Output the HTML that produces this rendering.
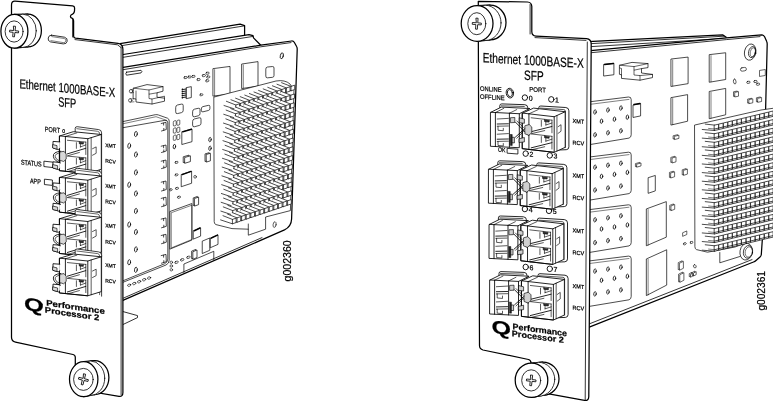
<!DOCTYPE html>
<html><head><meta charset="utf-8"><title>Ethernet 1000BASE-X SFP</title>
<style>
html,body{margin:0;padding:0;background:#fff;}
svg{display:block;font-family:"Liberation Sans",sans-serif;will-change:transform;}
</style></head><body>
<svg width="773" height="402" viewBox="0 0 773 402" stroke="#000" stroke-linecap="round" stroke-linejoin="round" fill="none">
<rect x="0" y="0" width="773" height="402" fill="#fff" stroke="none"/>
<path d="M120 43.6 L240.1 24.2 L244.6 25.6 L244.6 35.1" stroke-width="1.25" fill="none" />
<path d="M120 45.9 L244.2 25.9" stroke-width="0.8" fill="none" />
<path d="M120 55 L249 34.6 L253 35.7 L253.5 37.9 L260.8 45.2" stroke-width="1.25" fill="none" />
<path d="M120 57.8 L253 36.4" stroke-width="0.8" fill="none" />
<path d="M120 67.9 L260.8 45.2 L291.6 41 Q293.5 40.9 294.4 42.5 L296.6 46.5 Q297.3 47.6 297.2 49.5 L291.6 219 Q291.3 226.5 284.5 229.9 L120 301.6Z" stroke-width="1.25" fill="#fff" />
<path d="M120 70.2 L260.8 46.8 L291 42.6" stroke-width="0.8" fill="none" />
<path d="M120 299.6 L262 237.6" stroke-width="0.8" fill="none" />
<path d="M126.5 72.2 L141 70.3 Q142.8 71.6 141 72.9 L126.5 75.2 Q125 73.8 126.5 72.2Z" stroke-width="0.8" fill="none" />
<ellipse cx="281.8" cy="55.8" rx="1.5" ry="3" stroke-width="0.8" fill="none" transform="rotate(12 281.8 55.8)"/>
<path d="M122 311.3 L137.5 315.6 L137.5 317.6 L122 325" stroke-width="0.8" fill="#fff" />
<path d="M120 122.2 L155.3 114.7 Q157 114.4 158.5 115 L167.5 118.2 Q169.2 118.9 169.2 121 L169.2 260 Q169.2 263.5 166 265 L120 283.5Z" stroke-width="0.7" fill="#fff" />
<path d="M120 128.2 L165 120.3 Q167.8 120 167.8 122.8 L167.8 259 Q167.8 262.4 164.5 263.8 L120 282" stroke-width="0.7" fill="none" />
<path d="M120 124.4 L156 116.7 L166.5 120.3" stroke-width="0.5" fill="none" />
<ellipse cx="135.9" cy="134" rx="1.4" ry="2.6" stroke-width="0.75" fill="none" transform="rotate(8 135.9 134)"/>
<ellipse cx="129.2" cy="145.8" rx="1.4" ry="2.6" stroke-width="0.75" fill="none" transform="rotate(8 129.2 145.8)"/>
<ellipse cx="135.9" cy="154.5" rx="1.4" ry="2.6" stroke-width="0.75" fill="none" transform="rotate(8 135.9 154.5)"/>
<ellipse cx="135.9" cy="172.4" rx="1.4" ry="2.6" stroke-width="0.75" fill="none" transform="rotate(8 135.9 172.4)"/>
<ellipse cx="129.2" cy="184.8" rx="1.4" ry="2.6" stroke-width="0.75" fill="none" transform="rotate(8 129.2 184.8)"/>
<ellipse cx="135.9" cy="193.5" rx="1.4" ry="2.6" stroke-width="0.75" fill="none" transform="rotate(8 135.9 193.5)"/>
<ellipse cx="135.9" cy="211" rx="1.4" ry="2.6" stroke-width="0.75" fill="none" transform="rotate(8 135.9 211)"/>
<ellipse cx="129.2" cy="224.6" rx="1.4" ry="2.6" stroke-width="0.75" fill="none" transform="rotate(8 129.2 224.6)"/>
<ellipse cx="135.9" cy="232" rx="1.4" ry="2.6" stroke-width="0.75" fill="none" transform="rotate(8 135.9 232)"/>
<ellipse cx="135.9" cy="249.4" rx="1.4" ry="2.6" stroke-width="0.75" fill="none" transform="rotate(8 135.9 249.4)"/>
<ellipse cx="129.2" cy="262.3" rx="1.4" ry="2.6" stroke-width="0.75" fill="none" transform="rotate(8 129.2 262.3)"/>
<ellipse cx="135.9" cy="269.8" rx="1.4" ry="2.6" stroke-width="0.75" fill="none" transform="rotate(8 135.9 269.8)"/>
<path d="M161.2 123.5 L166 122.3 L166.3 129.5 L161.5 131 M163.6 123.1 L163.6 125.1 M163.8 128.4 L163.8 130.4" stroke-width="0.7" fill="none" />
<path d="M161.2 146.2 L166 145 L166.3 151 L161.5 152.5 M163.6 145.8 L163.6 147.8 M163.8 149.9 L163.8 151.9" stroke-width="0.7" fill="none" />
<path d="M161.2 161.2 L166 160 L166.3 167.1 L161.5 168.6 M163.6 160.8 L163.6 162.8 M163.8 166 L163.8 168" stroke-width="0.7" fill="none" />
<path d="M161.2 182.2 L166 181 L166.3 189.5 L161.5 191 M163.6 181.8 L163.6 183.8 M163.8 188.4 L163.8 190.4" stroke-width="0.7" fill="none" />
<path d="M161.2 198.4 L166 197.2 L166.3 205.2 L161.5 206.7 M163.6 198 L163.6 200 M163.8 204.1 L163.8 206.1" stroke-width="0.7" fill="none" />
<path d="M161.2 219.1 L166 217.9 L166.3 226.3 L161.5 227.8 M163.6 218.7 L163.6 220.7 M163.8 225.2 L163.8 227.2" stroke-width="0.7" fill="none" />
<path d="M161.2 235.5 L166 234.3 L166.3 242.2 L161.5 243.7 M163.6 235.1 L163.6 237.1 M163.8 241.1 L163.8 243.1" stroke-width="0.7" fill="none" />
<path d="M161.2 255.6 L166 254.4 L166.3 261.7 L161.5 263.2 M163.6 255.2 L163.6 257.2 M163.8 260.6 L163.8 262.6" stroke-width="0.7" fill="none" />
<ellipse cx="129.2" cy="285.2" rx="1.7" ry="1.1" stroke-width="0.6" fill="none" transform="rotate(-20 129.2 285.2)"/>
<ellipse cx="134.2" cy="283.5" rx="1.7" ry="1.1" stroke-width="0.6" fill="none" transform="rotate(-20 134.2 283.5)"/>
<ellipse cx="139.1" cy="281.7" rx="1.7" ry="1.1" stroke-width="0.6" fill="none" transform="rotate(-20 139.1 281.7)"/>
<ellipse cx="144.1" cy="279.7" rx="1.7" ry="1.1" stroke-width="0.6" fill="none" transform="rotate(-20 144.1 279.7)"/>
<ellipse cx="149.1" cy="278" rx="1.7" ry="1.1" stroke-width="0.6" fill="none" transform="rotate(-20 149.1 278)"/>
<path d="M133.5 88.2 L147 84.6 L163 86.6 L163 91.2 L157 92.8 L157 97.2 L164.5 98.2 L164.5 101.2 L152 104 L136 102 L136 99 L133.5 98.6Z" stroke-width="0.7" fill="#fff" />
<path d="M133.5 88.2 L149 90 L163 86.6 M149 90 L149 94.2 L157 92.8 M149 94.2 L149 98.5 L152 99 L152 104 M152 99 L164.5 96.2 L164.5 98.2 M136 99 L136 91" stroke-width="0.6" fill="none" />
<ellipse cx="131" cy="91.2" rx="1.7" ry="1.7" stroke-width="0.6" fill="#fff"/>
<ellipse cx="130.2" cy="100.4" rx="1.7" ry="1.7" stroke-width="0.6" fill="#fff"/>
<path d="M133.5 90 L131 89.5 M133.5 92.6 L131 92.9 M133.5 99 L130.2 98.7 M134 101.8 L130.2 102.1" stroke-width="0.5" fill="none" />
<rect x="183.8" y="76.65" width="3.4" height="1.9" rx="0.95" transform="rotate(-10.67 185.5 77.6)" stroke-width="0.6" fill="#fff"/>
<rect x="187.8" y="76.05" width="3.4" height="1.9" rx="0.95" transform="rotate(-10.69 189.5 77)" stroke-width="0.6" fill="#fff"/>
<rect x="191.7" y="75.45" width="3.4" height="1.9" rx="0.95" transform="rotate(-10.7 193.4 76.4)" stroke-width="0.6" fill="#fff"/>
<rect x="196.85" y="78.6" width="3.3" height="2" rx="1" transform="rotate(-11.01 198.5 79.6)" stroke-width="0.6" fill="#fff"/>
<rect x="202.15" y="74.6" width="3.3" height="2" rx="1" transform="rotate(-10.79 203.8 75.6)" stroke-width="0.6" fill="#fff"/>
<rect x="205.85" y="72.2" width="3.3" height="2" rx="1" transform="rotate(-10.65 207.5 73.2)" stroke-width="0.6" fill="#fff"/>
<rect x="206.55" y="76" width="3.3" height="2" rx="1" transform="rotate(-10.96 208.2 77)" stroke-width="0.6" fill="#fff"/>
<rect x="205.55" y="79.8" width="3.3" height="2" rx="1" transform="rotate(-11.24 207.2 80.8)" stroke-width="0.6" fill="#fff"/>
<path d="M186.5 87.6 L191.3 86.63 L191.3 97.56 L186.5 98.6Z" stroke-width="0.7" fill="#fff" />
<path d="M186.5 89 L182 89.6 M186.5 91 L182 91.6 M186.5 93 L182 93.6 M186.5 95 L182 95.6 M186.5 97 L182 97.6" stroke-width="0.9" fill="none" />
<path d="M182.4 88.4 L182.4 98.6" stroke-width="0.5" fill="none" />
<rect x="199.7" y="93.9" width="3.2" height="1.8" rx="0.9" transform="rotate(-12.21 201.3 94.8)" stroke-width="0.6" fill="#fff"/>
<path d="M175.7 107.2 Q175.7 105.4 177.46 105.01 L181.44 104.12 Q183.2 103.73 183.2 105.53 L183.2 110.44 Q183.2 112.24 181.45 112.65 L177.45 113.59 Q175.7 114 175.7 112.2 Z" stroke-width="0.7" fill="#fff" />
<path d="M192.6 111.4 Q192.6 109.6 194.35 109.19 L198.25 108.28 Q200 107.87 200 109.67 L200 113.59 Q200 115.39 198.25 115.82 L194.35 116.77 Q192.6 117.2 192.6 115.4 Z" stroke-width="0.7" fill="#fff" />
<path d="M201.3 108.6 Q201.3 107 202.86 106.64 L208.34 105.36 Q209.9 104.99 209.9 106.59 L209.9 108.53 Q209.9 110.13 208.34 110.51 L202.86 111.83 Q201.3 112.2 201.3 110.6 Z" stroke-width="0.7" fill="#fff" />
<path d="M192.6 121.2 Q192.6 119.4 194.35 118.97 L199.25 117.75 Q201 117.32 201 119.12 L201 123.23 Q201 125.03 199.26 125.48 L194.34 126.75 Q192.6 127.2 192.6 125.4 Z" stroke-width="0.7" fill="#fff" />
<path d="M173.3 122 Q173.3 121.2 174.08 121.01 L175.42 120.68 Q176.2 120.49 176.2 121.29 L176.2 124.67 Q176.2 125.47 175.42 125.67 L174.08 126.01 Q173.3 126.2 173.3 125.4 Z" stroke-width="0.6" fill="#fff" />
<path d="M176.9 121.3 Q176.9 120.5 177.68 120.31 L179.02 119.98 Q179.8 119.79 179.8 120.59 L179.8 123.97 Q179.8 124.77 179.02 124.97 L177.68 125.31 Q176.9 125.5 176.9 124.7 Z" stroke-width="0.6" fill="#fff" />
<path d="M173.3 129.2 Q173.3 128.4 174.08 128.2 L175.42 127.86 Q176.2 127.67 176.2 128.47 L176.2 131.85 Q176.2 132.65 175.43 132.85 L174.07 133.2 Q173.3 133.4 173.3 132.6 Z" stroke-width="0.6" fill="#fff" />
<path d="M176.9 128.5 Q176.9 127.7 177.68 127.5 L179.02 127.16 Q179.8 126.97 179.8 127.77 L179.8 131.15 Q179.8 131.95 179.03 132.15 L177.67 132.5 Q176.9 132.7 176.9 131.9 Z" stroke-width="0.6" fill="#fff" />
<path d="M173.3 136.4 Q173.3 135.6 174.07 135.4 L175.43 135.04 Q176.2 134.84 176.2 135.64 L176.2 139.02 Q176.2 139.82 175.43 140.03 L174.07 140.39 Q173.3 140.6 173.3 139.8 Z" stroke-width="0.6" fill="#fff" />
<path d="M176.9 135.7 Q176.9 134.9 177.67 134.7 L179.03 134.34 Q179.8 134.14 179.8 134.94 L179.8 138.32 Q179.8 139.12 179.03 139.33 L177.67 139.69 Q176.9 139.9 176.9 139.1 Z" stroke-width="0.6" fill="#fff" />
<path d="M182.2 131.6 L192 129.05 L192 141.68 L182.2 144.4Z" stroke-width="0.7" fill="#fff" />
<path d="M182.8 131.8 L191.4 129.25" stroke-width="1.4" fill="none" />
<ellipse cx="210" cy="139.6" rx="1.2" ry="2.2" stroke-width="0.75" fill="none" transform="rotate(8 210 139.6)"/>
<ellipse cx="210" cy="148.3" rx="1.2" ry="2.2" stroke-width="0.75" fill="none" transform="rotate(8 210 148.3)"/>
<ellipse cx="174.4" cy="146.6" rx="1.2" ry="2.3" stroke-width="0.75" fill="none" transform="rotate(8 174.4 146.6)"/>
<rect x="174.9" y="161.5" width="3.2" height="1.8" rx="0.9" transform="rotate(-16.68 176.5 162.4)" stroke-width="0.6" fill="#fff"/>
<path d="M183.6 156.7 L189 155.11 L189 160.87 L183.6 162.5Z" stroke-width="0.7" fill="#fff" />
<path d="M185 157.4 L190.4 155.8 L190.4 161.56 L185 163.2Z" stroke-width="0.7" fill="#fff" />
<path d="M205.4 153.8 L209.2 152.66 L209.2 160.22 L205.4 161.4Z" stroke-width="0.7" fill="#fff" />
<path d="M206.6 154.4 L210.4 153.26 L210.4 160.82 L206.6 162Z" stroke-width="0.7" fill="#fff" />
<rect x="174.9" y="174" width="3.2" height="1.8" rx="0.9" transform="rotate(-17.56 176.5 174.9)" stroke-width="0.6" fill="#fff"/>
<path d="M181.6 174.4 L191.6 171.22 L191.6 183.26 L181.6 186.6Z" stroke-width="0.7" fill="#fff" />
<path d="M182.2 174.6 L191 171.42" stroke-width="1.4" fill="none" />
<ellipse cx="195.1" cy="176.8" rx="1.3" ry="1.4" stroke-width="0.6" fill="none"/>
<rect x="169.4" y="188.9" width="2.8" height="1.8" rx="0.9" transform="rotate(-18.46 170.8 189.8)" stroke-width="0.6" fill="#fff"/>
<rect x="175.4" y="187.5" width="3.2" height="1.8" rx="0.9" transform="rotate(-18.5 177 188.4)" stroke-width="0.6" fill="#fff"/>
<rect x="177.4" y="196.3" width="3.2" height="1.8" rx="0.9" transform="rotate(-19.16 179 197.2)" stroke-width="0.6" fill="#fff"/>
<path d="M193.6 197.8 L197.4 196.45 L197.4 204.01 L193.6 205.4Z" stroke-width="0.7" fill="#fff" />
<path d="M194.8 198.4 L198.6 197.05 L198.6 204.61 L194.8 206Z" stroke-width="0.7" fill="#fff" />
<path d="M170.2 211.4 L191.9 203.54 L191.9 240.06 L170.2 249Z" stroke-width="0.7" fill="#fff" />
<path d="M171.6 212.6 L191.9 205.2 L191.9 239.45 L171.6 247.8Z" stroke-width="0.5" fill="none" />
<path d="M193.6 230.6 L200.6 227.8 L200.6 236.12 L193.6 239Z" stroke-width="0.7" fill="#fff" />
<path d="M194.2 230.8 L200 228" stroke-width="1.4" fill="none" />
<path d="M202.6 241 L209.8 237.98 L209.8 250.26 L202.6 253.4Z" stroke-width="0.7" fill="#fff" />
<path d="M210.6 238 L218 234.89 L218 244.39 L210.6 247.6Z" stroke-width="0.7" fill="#fff" />
<path d="M211.2 238.2 L217.4 235.09" stroke-width="1.4" fill="none" />
<path d="M192 251 L195.8 249.38 L195.8 256.94 L192 258.6Z" stroke-width="0.7" fill="#fff" />
<path d="M193.2 251.6 L197 249.97 L197 257.53 L193.2 259.2Z" stroke-width="0.7" fill="#fff" />
<rect x="186.6" y="256.35" width="3.6" height="1.9" rx="0.95" transform="rotate(-23.44 188.4 257.3)" stroke-width="0.6" fill="#fff"/>
<rect x="180.4" y="258.85" width="3.6" height="1.9" rx="0.95" transform="rotate(-23.43 182.2 259.8)" stroke-width="0.6" fill="#fff"/>
<rect x="174.7" y="261.35" width="3.6" height="1.9" rx="0.95" transform="rotate(-23.43 176.5 262.3)" stroke-width="0.6" fill="#fff"/>
<ellipse cx="171.3" cy="262.3" rx="1.3" ry="1.2" stroke-width="0.6" fill="none"/>
<ellipse cx="171.3" cy="266" rx="1.3" ry="1.2" stroke-width="0.6" fill="none"/>
<ellipse cx="171.3" cy="269.8" rx="1.3" ry="1.2" stroke-width="0.6" fill="none"/>
<path d="M183.9 272.5 L183.9 264 L213.8 251.3 L213.8 259.6" stroke-width="0.7" fill="none" />
<path d="M213.3 68.6 L230 66.43 L230 93.93 L213.3 96.1Z" stroke-width="0.7" fill="#fff" />
<path d="M214.6 69.6 L214.6 96" stroke-width="0.5" fill="none" />
<path d="M242 64 L258 61.6 L258 86.1 L242 88.5Z" stroke-width="0.7" fill="#fff" />
<path d="M243.3 65 L243.3 88.2" stroke-width="0.5" fill="none" />
<path d="M265.8 68.8 Q265.8 67.2 267.39 67.04 L272.41 66.54 Q274 66.38 274 67.98 L274 75.58 Q274 77.18 272.41 77.34 L267.39 77.84 Q265.8 78 265.8 76.4 Z" stroke-width="0.7" fill="#fff" />
<path d="M214.2 97 L276 81 Q285 79.5 290 84 L294 90 L290.4 210.6 L265.6 217 L265.6 229.2 L248.3 235.2 L248.3 229.2 L232 228.6 L216 224.6 Q214.2 224 214.2 222Z" stroke-width="0.7" fill="#fff" />
<path d="M248.3 229.2 L248.3 224" stroke-width="0.7" fill="none" />
<ellipse cx="274.6" cy="224.6" rx="1.5" ry="2.9" stroke-width="0.6" fill="none" transform="rotate(10 274.6 224.6)"/>
<path d="M281.6 82.7 L291 86.4 L294.7 85.15 L294.7 89.55 L291 90.8 L279.2 86.9Z" fill="#fff" stroke="none"/><path d="M281.6 82.7 L291 86.4 L294.7 85.15 L294.7 89.55 L291 90.8 L279.2 86.9 M291 86.4 L291 90.8" stroke-width="0.7"/>
<path d="M277 84.25 L286.4 87.95 L290.1 86.7 L290.1 91.1 L286.4 92.35 L274.6 88.45Z" fill="#fff" stroke="none"/><path d="M277 84.25 L286.4 87.95 L290.1 86.7 L290.1 91.1 L286.4 92.35 L274.6 88.45 M286.4 87.95 L286.4 92.35" stroke-width="0.7"/>
<path d="M272.4 85.8 L281.8 89.5 L285.5 88.25 L285.5 92.65 L281.8 93.9 L270 90Z" fill="#fff" stroke="none"/><path d="M272.4 85.8 L281.8 89.5 L285.5 88.25 L285.5 92.65 L281.8 93.9 L270 90 M281.8 89.5 L281.8 93.9" stroke-width="0.7"/>
<path d="M267.8 87.35 L277.2 91.05 L280.9 89.8 L280.9 94.2 L277.2 95.45 L265.4 91.55Z" fill="#fff" stroke="none"/><path d="M267.8 87.35 L277.2 91.05 L280.9 89.8 L280.9 94.2 L277.2 95.45 L265.4 91.55 M277.2 91.05 L277.2 95.45" stroke-width="0.7"/>
<path d="M263.2 88.9 L272.6 92.6 L276.3 91.35 L276.3 95.75 L272.6 97 L260.8 93.1Z" fill="#fff" stroke="none"/><path d="M263.2 88.9 L272.6 92.6 L276.3 91.35 L276.3 95.75 L272.6 97 L260.8 93.1 M272.6 92.6 L272.6 97" stroke-width="0.7"/>
<path d="M258.6 90.45 L268 94.15 L271.7 92.9 L271.7 97.3 L268 98.55 L256.2 94.65Z" fill="#fff" stroke="none"/><path d="M258.6 90.45 L268 94.15 L271.7 92.9 L271.7 97.3 L268 98.55 L256.2 94.65 M268 94.15 L268 98.55" stroke-width="0.7"/>
<path d="M254 92 L263.4 95.7 L267.1 94.45 L267.1 98.85 L263.4 100.1 L251.6 96.2Z" fill="#fff" stroke="none"/><path d="M254 92 L263.4 95.7 L267.1 94.45 L267.1 98.85 L263.4 100.1 L251.6 96.2 M263.4 95.7 L263.4 100.1" stroke-width="0.7"/>
<path d="M249.4 93.55 L258.8 97.25 L262.5 96 L262.5 100.4 L258.8 101.65 L247 97.75Z" fill="#fff" stroke="none"/><path d="M249.4 93.55 L258.8 97.25 L262.5 96 L262.5 100.4 L258.8 101.65 L247 97.75 M258.8 97.25 L258.8 101.65" stroke-width="0.7"/>
<path d="M244.8 95.1 L254.2 98.8 L257.9 97.55 L257.9 101.95 L254.2 103.2 L242.4 99.3Z" fill="#fff" stroke="none"/><path d="M244.8 95.1 L254.2 98.8 L257.9 97.55 L257.9 101.95 L254.2 103.2 L242.4 99.3 M254.2 98.8 L254.2 103.2" stroke-width="0.7"/>
<path d="M240.2 96.65 L249.6 100.35 L253.3 99.1 L253.3 103.5 L249.6 104.75 L237.8 100.85Z" fill="#fff" stroke="none"/><path d="M240.2 96.65 L249.6 100.35 L253.3 99.1 L253.3 103.5 L249.6 104.75 L237.8 100.85 M249.6 100.35 L249.6 104.75" stroke-width="0.7"/>
<path d="M235.6 98.2 L245 101.9 L248.7 100.65 L248.7 105.05 L245 106.3 L233.2 102.4Z" fill="#fff" stroke="none"/><path d="M235.6 98.2 L245 101.9 L248.7 100.65 L248.7 105.05 L245 106.3 L233.2 102.4 M245 101.9 L245 106.3" stroke-width="0.7"/>
<path d="M231 99.75 L240.4 103.45 L244.1 102.2 L244.1 106.6 L240.4 107.85 L228.6 103.95Z" fill="#fff" stroke="none"/><path d="M231 99.75 L240.4 103.45 L244.1 102.2 L244.1 106.6 L240.4 107.85 L228.6 103.95 M240.4 103.45 L240.4 107.85" stroke-width="0.7"/>
<path d="M226.4 101.3 L235.8 105 L239.5 103.75 L239.5 108.15 L235.8 109.4 L224 105.5Z" fill="#fff" stroke="none"/><path d="M226.4 101.3 L235.8 105 L239.5 103.75 L239.5 108.15 L235.8 109.4 L224 105.5 M235.8 105 L235.8 109.4" stroke-width="0.7"/>
<path d="M281.34 91.5 L290.74 95.2 L294.44 93.95 L294.44 98.35 L290.74 99.6 L278.94 95.7Z" fill="#fff" stroke="none"/><path d="M281.34 91.5 L290.74 95.2 L294.44 93.95 L294.44 98.35 L290.74 99.6 L278.94 95.7 M290.74 95.2 L290.74 99.6" stroke-width="0.7"/>
<path d="M276.74 93.05 L286.14 96.75 L289.84 95.5 L289.84 99.9 L286.14 101.15 L274.34 97.25Z" fill="#fff" stroke="none"/><path d="M276.74 93.05 L286.14 96.75 L289.84 95.5 L289.84 99.9 L286.14 101.15 L274.34 97.25 M286.14 96.75 L286.14 101.15" stroke-width="0.7"/>
<path d="M272.14 94.6 L281.54 98.3 L285.24 97.05 L285.24 101.45 L281.54 102.7 L269.74 98.8Z" fill="#fff" stroke="none"/><path d="M272.14 94.6 L281.54 98.3 L285.24 97.05 L285.24 101.45 L281.54 102.7 L269.74 98.8 M281.54 98.3 L281.54 102.7" stroke-width="0.7"/>
<path d="M267.54 96.15 L276.94 99.85 L280.64 98.6 L280.64 103 L276.94 104.25 L265.14 100.35Z" fill="#fff" stroke="none"/><path d="M267.54 96.15 L276.94 99.85 L280.64 98.6 L280.64 103 L276.94 104.25 L265.14 100.35 M276.94 99.85 L276.94 104.25" stroke-width="0.7"/>
<path d="M262.94 97.7 L272.34 101.4 L276.04 100.15 L276.04 104.55 L272.34 105.8 L260.54 101.9Z" fill="#fff" stroke="none"/><path d="M262.94 97.7 L272.34 101.4 L276.04 100.15 L276.04 104.55 L272.34 105.8 L260.54 101.9 M272.34 101.4 L272.34 105.8" stroke-width="0.7"/>
<path d="M258.34 99.25 L267.74 102.95 L271.44 101.7 L271.44 106.1 L267.74 107.35 L255.94 103.45Z" fill="#fff" stroke="none"/><path d="M258.34 99.25 L267.74 102.95 L271.44 101.7 L271.44 106.1 L267.74 107.35 L255.94 103.45 M267.74 102.95 L267.74 107.35" stroke-width="0.7"/>
<path d="M253.74 100.8 L263.14 104.5 L266.84 103.25 L266.84 107.65 L263.14 108.9 L251.34 105Z" fill="#fff" stroke="none"/><path d="M253.74 100.8 L263.14 104.5 L266.84 103.25 L266.84 107.65 L263.14 108.9 L251.34 105 M263.14 104.5 L263.14 108.9" stroke-width="0.7"/>
<path d="M249.14 102.35 L258.54 106.05 L262.24 104.8 L262.24 109.2 L258.54 110.45 L246.74 106.55Z" fill="#fff" stroke="none"/><path d="M249.14 102.35 L258.54 106.05 L262.24 104.8 L262.24 109.2 L258.54 110.45 L246.74 106.55 M258.54 106.05 L258.54 110.45" stroke-width="0.7"/>
<path d="M244.54 103.9 L253.94 107.6 L257.64 106.35 L257.64 110.75 L253.94 112 L242.14 108.1Z" fill="#fff" stroke="none"/><path d="M244.54 103.9 L253.94 107.6 L257.64 106.35 L257.64 110.75 L253.94 112 L242.14 108.1 M253.94 107.6 L253.94 112" stroke-width="0.7"/>
<path d="M239.94 105.45 L249.34 109.15 L253.04 107.9 L253.04 112.3 L249.34 113.55 L237.54 109.65Z" fill="#fff" stroke="none"/><path d="M239.94 105.45 L249.34 109.15 L253.04 107.9 L253.04 112.3 L249.34 113.55 L237.54 109.65 M249.34 109.15 L249.34 113.55" stroke-width="0.7"/>
<path d="M235.34 107 L244.74 110.7 L248.44 109.45 L248.44 113.85 L244.74 115.1 L232.94 111.2Z" fill="#fff" stroke="none"/><path d="M235.34 107 L244.74 110.7 L248.44 109.45 L248.44 113.85 L244.74 115.1 L232.94 111.2 M244.74 110.7 L244.74 115.1" stroke-width="0.7"/>
<path d="M230.74 108.55 L240.14 112.25 L243.84 111 L243.84 115.4 L240.14 116.65 L228.34 112.75Z" fill="#fff" stroke="none"/><path d="M230.74 108.55 L240.14 112.25 L243.84 111 L243.84 115.4 L240.14 116.65 L228.34 112.75 M240.14 112.25 L240.14 116.65" stroke-width="0.7"/>
<path d="M226.14 110.1 L235.54 113.8 L239.24 112.55 L239.24 116.95 L235.54 118.2 L223.74 114.3Z" fill="#fff" stroke="none"/><path d="M226.14 110.1 L235.54 113.8 L239.24 112.55 L239.24 116.95 L235.54 118.2 L223.74 114.3 M235.54 113.8 L235.54 118.2" stroke-width="0.7"/>
<path d="M281.08 100.3 L290.48 104 L294.18 102.75 L294.18 107.15 L290.48 108.4 L278.68 104.5Z" fill="#fff" stroke="none"/><path d="M281.08 100.3 L290.48 104 L294.18 102.75 L294.18 107.15 L290.48 108.4 L278.68 104.5 M290.48 104 L290.48 108.4" stroke-width="0.7"/>
<path d="M276.48 101.85 L285.88 105.55 L289.58 104.3 L289.58 108.7 L285.88 109.95 L274.08 106.05Z" fill="#fff" stroke="none"/><path d="M276.48 101.85 L285.88 105.55 L289.58 104.3 L289.58 108.7 L285.88 109.95 L274.08 106.05 M285.88 105.55 L285.88 109.95" stroke-width="0.7"/>
<path d="M271.88 103.4 L281.28 107.1 L284.98 105.85 L284.98 110.25 L281.28 111.5 L269.48 107.6Z" fill="#fff" stroke="none"/><path d="M271.88 103.4 L281.28 107.1 L284.98 105.85 L284.98 110.25 L281.28 111.5 L269.48 107.6 M281.28 107.1 L281.28 111.5" stroke-width="0.7"/>
<path d="M267.28 104.95 L276.68 108.65 L280.38 107.4 L280.38 111.8 L276.68 113.05 L264.88 109.15Z" fill="#fff" stroke="none"/><path d="M267.28 104.95 L276.68 108.65 L280.38 107.4 L280.38 111.8 L276.68 113.05 L264.88 109.15 M276.68 108.65 L276.68 113.05" stroke-width="0.7"/>
<path d="M262.68 106.5 L272.08 110.2 L275.78 108.95 L275.78 113.35 L272.08 114.6 L260.28 110.7Z" fill="#fff" stroke="none"/><path d="M262.68 106.5 L272.08 110.2 L275.78 108.95 L275.78 113.35 L272.08 114.6 L260.28 110.7 M272.08 110.2 L272.08 114.6" stroke-width="0.7"/>
<path d="M258.08 108.05 L267.48 111.75 L271.18 110.5 L271.18 114.9 L267.48 116.15 L255.68 112.25Z" fill="#fff" stroke="none"/><path d="M258.08 108.05 L267.48 111.75 L271.18 110.5 L271.18 114.9 L267.48 116.15 L255.68 112.25 M267.48 111.75 L267.48 116.15" stroke-width="0.7"/>
<path d="M253.48 109.6 L262.88 113.3 L266.58 112.05 L266.58 116.45 L262.88 117.7 L251.08 113.8Z" fill="#fff" stroke="none"/><path d="M253.48 109.6 L262.88 113.3 L266.58 112.05 L266.58 116.45 L262.88 117.7 L251.08 113.8 M262.88 113.3 L262.88 117.7" stroke-width="0.7"/>
<path d="M248.88 111.15 L258.28 114.85 L261.98 113.6 L261.98 118 L258.28 119.25 L246.48 115.35Z" fill="#fff" stroke="none"/><path d="M248.88 111.15 L258.28 114.85 L261.98 113.6 L261.98 118 L258.28 119.25 L246.48 115.35 M258.28 114.85 L258.28 119.25" stroke-width="0.7"/>
<path d="M244.28 112.7 L253.68 116.4 L257.38 115.15 L257.38 119.55 L253.68 120.8 L241.88 116.9Z" fill="#fff" stroke="none"/><path d="M244.28 112.7 L253.68 116.4 L257.38 115.15 L257.38 119.55 L253.68 120.8 L241.88 116.9 M253.68 116.4 L253.68 120.8" stroke-width="0.7"/>
<path d="M239.68 114.25 L249.08 117.95 L252.78 116.7 L252.78 121.1 L249.08 122.35 L237.28 118.45Z" fill="#fff" stroke="none"/><path d="M239.68 114.25 L249.08 117.95 L252.78 116.7 L252.78 121.1 L249.08 122.35 L237.28 118.45 M249.08 117.95 L249.08 122.35" stroke-width="0.7"/>
<path d="M235.08 115.8 L244.48 119.5 L248.18 118.25 L248.18 122.65 L244.48 123.9 L232.68 120Z" fill="#fff" stroke="none"/><path d="M235.08 115.8 L244.48 119.5 L248.18 118.25 L248.18 122.65 L244.48 123.9 L232.68 120 M244.48 119.5 L244.48 123.9" stroke-width="0.7"/>
<path d="M230.48 117.35 L239.88 121.05 L243.58 119.8 L243.58 124.2 L239.88 125.45 L228.08 121.55Z" fill="#fff" stroke="none"/><path d="M230.48 117.35 L239.88 121.05 L243.58 119.8 L243.58 124.2 L239.88 125.45 L228.08 121.55 M239.88 121.05 L239.88 125.45" stroke-width="0.7"/>
<path d="M225.88 118.9 L235.28 122.6 L238.98 121.35 L238.98 125.75 L235.28 127 L223.48 123.1Z" fill="#fff" stroke="none"/><path d="M225.88 118.9 L235.28 122.6 L238.98 121.35 L238.98 125.75 L235.28 127 L223.48 123.1 M235.28 122.6 L235.28 127" stroke-width="0.7"/>
<path d="M280.82 109.1 L290.22 112.8 L293.92 111.55 L293.92 115.95 L290.22 117.2 L278.42 113.3Z" fill="#fff" stroke="none"/><path d="M280.82 109.1 L290.22 112.8 L293.92 111.55 L293.92 115.95 L290.22 117.2 L278.42 113.3 M290.22 112.8 L290.22 117.2" stroke-width="0.7"/>
<path d="M276.22 110.65 L285.62 114.35 L289.32 113.1 L289.32 117.5 L285.62 118.75 L273.82 114.85Z" fill="#fff" stroke="none"/><path d="M276.22 110.65 L285.62 114.35 L289.32 113.1 L289.32 117.5 L285.62 118.75 L273.82 114.85 M285.62 114.35 L285.62 118.75" stroke-width="0.7"/>
<path d="M271.62 112.2 L281.02 115.9 L284.72 114.65 L284.72 119.05 L281.02 120.3 L269.22 116.4Z" fill="#fff" stroke="none"/><path d="M271.62 112.2 L281.02 115.9 L284.72 114.65 L284.72 119.05 L281.02 120.3 L269.22 116.4 M281.02 115.9 L281.02 120.3" stroke-width="0.7"/>
<path d="M267.02 113.75 L276.42 117.45 L280.12 116.2 L280.12 120.6 L276.42 121.85 L264.62 117.95Z" fill="#fff" stroke="none"/><path d="M267.02 113.75 L276.42 117.45 L280.12 116.2 L280.12 120.6 L276.42 121.85 L264.62 117.95 M276.42 117.45 L276.42 121.85" stroke-width="0.7"/>
<path d="M262.42 115.3 L271.82 119 L275.52 117.75 L275.52 122.15 L271.82 123.4 L260.02 119.5Z" fill="#fff" stroke="none"/><path d="M262.42 115.3 L271.82 119 L275.52 117.75 L275.52 122.15 L271.82 123.4 L260.02 119.5 M271.82 119 L271.82 123.4" stroke-width="0.7"/>
<path d="M257.82 116.85 L267.22 120.55 L270.92 119.3 L270.92 123.7 L267.22 124.95 L255.42 121.05Z" fill="#fff" stroke="none"/><path d="M257.82 116.85 L267.22 120.55 L270.92 119.3 L270.92 123.7 L267.22 124.95 L255.42 121.05 M267.22 120.55 L267.22 124.95" stroke-width="0.7"/>
<path d="M253.22 118.4 L262.62 122.1 L266.32 120.85 L266.32 125.25 L262.62 126.5 L250.82 122.6Z" fill="#fff" stroke="none"/><path d="M253.22 118.4 L262.62 122.1 L266.32 120.85 L266.32 125.25 L262.62 126.5 L250.82 122.6 M262.62 122.1 L262.62 126.5" stroke-width="0.7"/>
<path d="M248.62 119.95 L258.02 123.65 L261.72 122.4 L261.72 126.8 L258.02 128.05 L246.22 124.15Z" fill="#fff" stroke="none"/><path d="M248.62 119.95 L258.02 123.65 L261.72 122.4 L261.72 126.8 L258.02 128.05 L246.22 124.15 M258.02 123.65 L258.02 128.05" stroke-width="0.7"/>
<path d="M244.02 121.5 L253.42 125.2 L257.12 123.95 L257.12 128.35 L253.42 129.6 L241.62 125.7Z" fill="#fff" stroke="none"/><path d="M244.02 121.5 L253.42 125.2 L257.12 123.95 L257.12 128.35 L253.42 129.6 L241.62 125.7 M253.42 125.2 L253.42 129.6" stroke-width="0.7"/>
<path d="M239.42 123.05 L248.82 126.75 L252.52 125.5 L252.52 129.9 L248.82 131.15 L237.02 127.25Z" fill="#fff" stroke="none"/><path d="M239.42 123.05 L248.82 126.75 L252.52 125.5 L252.52 129.9 L248.82 131.15 L237.02 127.25 M248.82 126.75 L248.82 131.15" stroke-width="0.7"/>
<path d="M234.82 124.6 L244.22 128.3 L247.92 127.05 L247.92 131.45 L244.22 132.7 L232.42 128.8Z" fill="#fff" stroke="none"/><path d="M234.82 124.6 L244.22 128.3 L247.92 127.05 L247.92 131.45 L244.22 132.7 L232.42 128.8 M244.22 128.3 L244.22 132.7" stroke-width="0.7"/>
<path d="M230.22 126.15 L239.62 129.85 L243.32 128.6 L243.32 133 L239.62 134.25 L227.82 130.35Z" fill="#fff" stroke="none"/><path d="M230.22 126.15 L239.62 129.85 L243.32 128.6 L243.32 133 L239.62 134.25 L227.82 130.35 M239.62 129.85 L239.62 134.25" stroke-width="0.7"/>
<path d="M225.62 127.7 L235.02 131.4 L238.72 130.15 L238.72 134.55 L235.02 135.8 L223.22 131.9Z" fill="#fff" stroke="none"/><path d="M225.62 127.7 L235.02 131.4 L238.72 130.15 L238.72 134.55 L235.02 135.8 L223.22 131.9 M235.02 131.4 L235.02 135.8" stroke-width="0.7"/>
<path d="M280.56 117.9 L289.96 121.6 L293.66 120.35 L293.66 124.75 L289.96 126 L278.16 122.1Z" fill="#fff" stroke="none"/><path d="M280.56 117.9 L289.96 121.6 L293.66 120.35 L293.66 124.75 L289.96 126 L278.16 122.1 M289.96 121.6 L289.96 126" stroke-width="0.7"/>
<path d="M275.96 119.45 L285.36 123.15 L289.06 121.9 L289.06 126.3 L285.36 127.55 L273.56 123.65Z" fill="#fff" stroke="none"/><path d="M275.96 119.45 L285.36 123.15 L289.06 121.9 L289.06 126.3 L285.36 127.55 L273.56 123.65 M285.36 123.15 L285.36 127.55" stroke-width="0.7"/>
<path d="M271.36 121 L280.76 124.7 L284.46 123.45 L284.46 127.85 L280.76 129.1 L268.96 125.2Z" fill="#fff" stroke="none"/><path d="M271.36 121 L280.76 124.7 L284.46 123.45 L284.46 127.85 L280.76 129.1 L268.96 125.2 M280.76 124.7 L280.76 129.1" stroke-width="0.7"/>
<path d="M266.76 122.55 L276.16 126.25 L279.86 125 L279.86 129.4 L276.16 130.65 L264.36 126.75Z" fill="#fff" stroke="none"/><path d="M266.76 122.55 L276.16 126.25 L279.86 125 L279.86 129.4 L276.16 130.65 L264.36 126.75 M276.16 126.25 L276.16 130.65" stroke-width="0.7"/>
<path d="M262.16 124.1 L271.56 127.8 L275.26 126.55 L275.26 130.95 L271.56 132.2 L259.76 128.3Z" fill="#fff" stroke="none"/><path d="M262.16 124.1 L271.56 127.8 L275.26 126.55 L275.26 130.95 L271.56 132.2 L259.76 128.3 M271.56 127.8 L271.56 132.2" stroke-width="0.7"/>
<path d="M257.56 125.65 L266.96 129.35 L270.66 128.1 L270.66 132.5 L266.96 133.75 L255.16 129.85Z" fill="#fff" stroke="none"/><path d="M257.56 125.65 L266.96 129.35 L270.66 128.1 L270.66 132.5 L266.96 133.75 L255.16 129.85 M266.96 129.35 L266.96 133.75" stroke-width="0.7"/>
<path d="M252.96 127.2 L262.36 130.9 L266.06 129.65 L266.06 134.05 L262.36 135.3 L250.56 131.4Z" fill="#fff" stroke="none"/><path d="M252.96 127.2 L262.36 130.9 L266.06 129.65 L266.06 134.05 L262.36 135.3 L250.56 131.4 M262.36 130.9 L262.36 135.3" stroke-width="0.7"/>
<path d="M248.36 128.75 L257.76 132.45 L261.46 131.2 L261.46 135.6 L257.76 136.85 L245.96 132.95Z" fill="#fff" stroke="none"/><path d="M248.36 128.75 L257.76 132.45 L261.46 131.2 L261.46 135.6 L257.76 136.85 L245.96 132.95 M257.76 132.45 L257.76 136.85" stroke-width="0.7"/>
<path d="M243.76 130.3 L253.16 134 L256.86 132.75 L256.86 137.15 L253.16 138.4 L241.36 134.5Z" fill="#fff" stroke="none"/><path d="M243.76 130.3 L253.16 134 L256.86 132.75 L256.86 137.15 L253.16 138.4 L241.36 134.5 M253.16 134 L253.16 138.4" stroke-width="0.7"/>
<path d="M239.16 131.85 L248.56 135.55 L252.26 134.3 L252.26 138.7 L248.56 139.95 L236.76 136.05Z" fill="#fff" stroke="none"/><path d="M239.16 131.85 L248.56 135.55 L252.26 134.3 L252.26 138.7 L248.56 139.95 L236.76 136.05 M248.56 135.55 L248.56 139.95" stroke-width="0.7"/>
<path d="M234.56 133.4 L243.96 137.1 L247.66 135.85 L247.66 140.25 L243.96 141.5 L232.16 137.6Z" fill="#fff" stroke="none"/><path d="M234.56 133.4 L243.96 137.1 L247.66 135.85 L247.66 140.25 L243.96 141.5 L232.16 137.6 M243.96 137.1 L243.96 141.5" stroke-width="0.7"/>
<path d="M229.96 134.95 L239.36 138.65 L243.06 137.4 L243.06 141.8 L239.36 143.05 L227.56 139.15Z" fill="#fff" stroke="none"/><path d="M229.96 134.95 L239.36 138.65 L243.06 137.4 L243.06 141.8 L239.36 143.05 L227.56 139.15 M239.36 138.65 L239.36 143.05" stroke-width="0.7"/>
<path d="M225.36 136.5 L234.76 140.2 L238.46 138.95 L238.46 143.35 L234.76 144.6 L222.96 140.7Z" fill="#fff" stroke="none"/><path d="M225.36 136.5 L234.76 140.2 L238.46 138.95 L238.46 143.35 L234.76 144.6 L222.96 140.7 M234.76 140.2 L234.76 144.6" stroke-width="0.7"/>
<path d="M280.3 126.7 L289.7 130.4 L293.4 129.15 L293.4 133.55 L289.7 134.8 L277.9 130.9Z" fill="#fff" stroke="none"/><path d="M280.3 126.7 L289.7 130.4 L293.4 129.15 L293.4 133.55 L289.7 134.8 L277.9 130.9 M289.7 130.4 L289.7 134.8" stroke-width="0.7"/>
<path d="M275.7 128.25 L285.1 131.95 L288.8 130.7 L288.8 135.1 L285.1 136.35 L273.3 132.45Z" fill="#fff" stroke="none"/><path d="M275.7 128.25 L285.1 131.95 L288.8 130.7 L288.8 135.1 L285.1 136.35 L273.3 132.45 M285.1 131.95 L285.1 136.35" stroke-width="0.7"/>
<path d="M271.1 129.8 L280.5 133.5 L284.2 132.25 L284.2 136.65 L280.5 137.9 L268.7 134Z" fill="#fff" stroke="none"/><path d="M271.1 129.8 L280.5 133.5 L284.2 132.25 L284.2 136.65 L280.5 137.9 L268.7 134 M280.5 133.5 L280.5 137.9" stroke-width="0.7"/>
<path d="M266.5 131.35 L275.9 135.05 L279.6 133.8 L279.6 138.2 L275.9 139.45 L264.1 135.55Z" fill="#fff" stroke="none"/><path d="M266.5 131.35 L275.9 135.05 L279.6 133.8 L279.6 138.2 L275.9 139.45 L264.1 135.55 M275.9 135.05 L275.9 139.45" stroke-width="0.7"/>
<path d="M261.9 132.9 L271.3 136.6 L275 135.35 L275 139.75 L271.3 141 L259.5 137.1Z" fill="#fff" stroke="none"/><path d="M261.9 132.9 L271.3 136.6 L275 135.35 L275 139.75 L271.3 141 L259.5 137.1 M271.3 136.6 L271.3 141" stroke-width="0.7"/>
<path d="M257.3 134.45 L266.7 138.15 L270.4 136.9 L270.4 141.3 L266.7 142.55 L254.9 138.65Z" fill="#fff" stroke="none"/><path d="M257.3 134.45 L266.7 138.15 L270.4 136.9 L270.4 141.3 L266.7 142.55 L254.9 138.65 M266.7 138.15 L266.7 142.55" stroke-width="0.7"/>
<path d="M252.7 136 L262.1 139.7 L265.8 138.45 L265.8 142.85 L262.1 144.1 L250.3 140.2Z" fill="#fff" stroke="none"/><path d="M252.7 136 L262.1 139.7 L265.8 138.45 L265.8 142.85 L262.1 144.1 L250.3 140.2 M262.1 139.7 L262.1 144.1" stroke-width="0.7"/>
<path d="M248.1 137.55 L257.5 141.25 L261.2 140 L261.2 144.4 L257.5 145.65 L245.7 141.75Z" fill="#fff" stroke="none"/><path d="M248.1 137.55 L257.5 141.25 L261.2 140 L261.2 144.4 L257.5 145.65 L245.7 141.75 M257.5 141.25 L257.5 145.65" stroke-width="0.7"/>
<path d="M243.5 139.1 L252.9 142.8 L256.6 141.55 L256.6 145.95 L252.9 147.2 L241.1 143.3Z" fill="#fff" stroke="none"/><path d="M243.5 139.1 L252.9 142.8 L256.6 141.55 L256.6 145.95 L252.9 147.2 L241.1 143.3 M252.9 142.8 L252.9 147.2" stroke-width="0.7"/>
<path d="M238.9 140.65 L248.3 144.35 L252 143.1 L252 147.5 L248.3 148.75 L236.5 144.85Z" fill="#fff" stroke="none"/><path d="M238.9 140.65 L248.3 144.35 L252 143.1 L252 147.5 L248.3 148.75 L236.5 144.85 M248.3 144.35 L248.3 148.75" stroke-width="0.7"/>
<path d="M234.3 142.2 L243.7 145.9 L247.4 144.65 L247.4 149.05 L243.7 150.3 L231.9 146.4Z" fill="#fff" stroke="none"/><path d="M234.3 142.2 L243.7 145.9 L247.4 144.65 L247.4 149.05 L243.7 150.3 L231.9 146.4 M243.7 145.9 L243.7 150.3" stroke-width="0.7"/>
<path d="M229.7 143.75 L239.1 147.45 L242.8 146.2 L242.8 150.6 L239.1 151.85 L227.3 147.95Z" fill="#fff" stroke="none"/><path d="M229.7 143.75 L239.1 147.45 L242.8 146.2 L242.8 150.6 L239.1 151.85 L227.3 147.95 M239.1 147.45 L239.1 151.85" stroke-width="0.7"/>
<path d="M225.1 145.3 L234.5 149 L238.2 147.75 L238.2 152.15 L234.5 153.4 L222.7 149.5Z" fill="#fff" stroke="none"/><path d="M225.1 145.3 L234.5 149 L238.2 147.75 L238.2 152.15 L234.5 153.4 L222.7 149.5 M234.5 149 L234.5 153.4" stroke-width="0.7"/>
<path d="M280.04 135.5 L289.44 139.2 L293.14 137.95 L293.14 142.35 L289.44 143.6 L277.64 139.7Z" fill="#fff" stroke="none"/><path d="M280.04 135.5 L289.44 139.2 L293.14 137.95 L293.14 142.35 L289.44 143.6 L277.64 139.7 M289.44 139.2 L289.44 143.6" stroke-width="0.7"/>
<path d="M275.44 137.05 L284.84 140.75 L288.54 139.5 L288.54 143.9 L284.84 145.15 L273.04 141.25Z" fill="#fff" stroke="none"/><path d="M275.44 137.05 L284.84 140.75 L288.54 139.5 L288.54 143.9 L284.84 145.15 L273.04 141.25 M284.84 140.75 L284.84 145.15" stroke-width="0.7"/>
<path d="M270.84 138.6 L280.24 142.3 L283.94 141.05 L283.94 145.45 L280.24 146.7 L268.44 142.8Z" fill="#fff" stroke="none"/><path d="M270.84 138.6 L280.24 142.3 L283.94 141.05 L283.94 145.45 L280.24 146.7 L268.44 142.8 M280.24 142.3 L280.24 146.7" stroke-width="0.7"/>
<path d="M266.24 140.15 L275.64 143.85 L279.34 142.6 L279.34 147 L275.64 148.25 L263.84 144.35Z" fill="#fff" stroke="none"/><path d="M266.24 140.15 L275.64 143.85 L279.34 142.6 L279.34 147 L275.64 148.25 L263.84 144.35 M275.64 143.85 L275.64 148.25" stroke-width="0.7"/>
<path d="M261.64 141.7 L271.04 145.4 L274.74 144.15 L274.74 148.55 L271.04 149.8 L259.24 145.9Z" fill="#fff" stroke="none"/><path d="M261.64 141.7 L271.04 145.4 L274.74 144.15 L274.74 148.55 L271.04 149.8 L259.24 145.9 M271.04 145.4 L271.04 149.8" stroke-width="0.7"/>
<path d="M257.04 143.25 L266.44 146.95 L270.14 145.7 L270.14 150.1 L266.44 151.35 L254.64 147.45Z" fill="#fff" stroke="none"/><path d="M257.04 143.25 L266.44 146.95 L270.14 145.7 L270.14 150.1 L266.44 151.35 L254.64 147.45 M266.44 146.95 L266.44 151.35" stroke-width="0.7"/>
<path d="M252.44 144.8 L261.84 148.5 L265.54 147.25 L265.54 151.65 L261.84 152.9 L250.04 149Z" fill="#fff" stroke="none"/><path d="M252.44 144.8 L261.84 148.5 L265.54 147.25 L265.54 151.65 L261.84 152.9 L250.04 149 M261.84 148.5 L261.84 152.9" stroke-width="0.7"/>
<path d="M247.84 146.35 L257.24 150.05 L260.94 148.8 L260.94 153.2 L257.24 154.45 L245.44 150.55Z" fill="#fff" stroke="none"/><path d="M247.84 146.35 L257.24 150.05 L260.94 148.8 L260.94 153.2 L257.24 154.45 L245.44 150.55 M257.24 150.05 L257.24 154.45" stroke-width="0.7"/>
<path d="M243.24 147.9 L252.64 151.6 L256.34 150.35 L256.34 154.75 L252.64 156 L240.84 152.1Z" fill="#fff" stroke="none"/><path d="M243.24 147.9 L252.64 151.6 L256.34 150.35 L256.34 154.75 L252.64 156 L240.84 152.1 M252.64 151.6 L252.64 156" stroke-width="0.7"/>
<path d="M238.64 149.45 L248.04 153.15 L251.74 151.9 L251.74 156.3 L248.04 157.55 L236.24 153.65Z" fill="#fff" stroke="none"/><path d="M238.64 149.45 L248.04 153.15 L251.74 151.9 L251.74 156.3 L248.04 157.55 L236.24 153.65 M248.04 153.15 L248.04 157.55" stroke-width="0.7"/>
<path d="M234.04 151 L243.44 154.7 L247.14 153.45 L247.14 157.85 L243.44 159.1 L231.64 155.2Z" fill="#fff" stroke="none"/><path d="M234.04 151 L243.44 154.7 L247.14 153.45 L247.14 157.85 L243.44 159.1 L231.64 155.2 M243.44 154.7 L243.44 159.1" stroke-width="0.7"/>
<path d="M229.44 152.55 L238.84 156.25 L242.54 155 L242.54 159.4 L238.84 160.65 L227.04 156.75Z" fill="#fff" stroke="none"/><path d="M229.44 152.55 L238.84 156.25 L242.54 155 L242.54 159.4 L238.84 160.65 L227.04 156.75 M238.84 156.25 L238.84 160.65" stroke-width="0.7"/>
<path d="M224.84 154.1 L234.24 157.8 L237.94 156.55 L237.94 160.95 L234.24 162.2 L222.44 158.3Z" fill="#fff" stroke="none"/><path d="M224.84 154.1 L234.24 157.8 L237.94 156.55 L237.94 160.95 L234.24 162.2 L222.44 158.3 M234.24 157.8 L234.24 162.2" stroke-width="0.7"/>
<path d="M279.78 144.3 L289.18 148 L292.88 146.75 L292.88 151.15 L289.18 152.4 L277.38 148.5Z" fill="#fff" stroke="none"/><path d="M279.78 144.3 L289.18 148 L292.88 146.75 L292.88 151.15 L289.18 152.4 L277.38 148.5 M289.18 148 L289.18 152.4" stroke-width="0.7"/>
<path d="M275.18 145.85 L284.58 149.55 L288.28 148.3 L288.28 152.7 L284.58 153.95 L272.78 150.05Z" fill="#fff" stroke="none"/><path d="M275.18 145.85 L284.58 149.55 L288.28 148.3 L288.28 152.7 L284.58 153.95 L272.78 150.05 M284.58 149.55 L284.58 153.95" stroke-width="0.7"/>
<path d="M270.58 147.4 L279.98 151.1 L283.68 149.85 L283.68 154.25 L279.98 155.5 L268.18 151.6Z" fill="#fff" stroke="none"/><path d="M270.58 147.4 L279.98 151.1 L283.68 149.85 L283.68 154.25 L279.98 155.5 L268.18 151.6 M279.98 151.1 L279.98 155.5" stroke-width="0.7"/>
<path d="M265.98 148.95 L275.38 152.65 L279.08 151.4 L279.08 155.8 L275.38 157.05 L263.58 153.15Z" fill="#fff" stroke="none"/><path d="M265.98 148.95 L275.38 152.65 L279.08 151.4 L279.08 155.8 L275.38 157.05 L263.58 153.15 M275.38 152.65 L275.38 157.05" stroke-width="0.7"/>
<path d="M261.38 150.5 L270.78 154.2 L274.48 152.95 L274.48 157.35 L270.78 158.6 L258.98 154.7Z" fill="#fff" stroke="none"/><path d="M261.38 150.5 L270.78 154.2 L274.48 152.95 L274.48 157.35 L270.78 158.6 L258.98 154.7 M270.78 154.2 L270.78 158.6" stroke-width="0.7"/>
<path d="M256.78 152.05 L266.18 155.75 L269.88 154.5 L269.88 158.9 L266.18 160.15 L254.38 156.25Z" fill="#fff" stroke="none"/><path d="M256.78 152.05 L266.18 155.75 L269.88 154.5 L269.88 158.9 L266.18 160.15 L254.38 156.25 M266.18 155.75 L266.18 160.15" stroke-width="0.7"/>
<path d="M252.18 153.6 L261.58 157.3 L265.28 156.05 L265.28 160.45 L261.58 161.7 L249.78 157.8Z" fill="#fff" stroke="none"/><path d="M252.18 153.6 L261.58 157.3 L265.28 156.05 L265.28 160.45 L261.58 161.7 L249.78 157.8 M261.58 157.3 L261.58 161.7" stroke-width="0.7"/>
<path d="M247.58 155.15 L256.98 158.85 L260.68 157.6 L260.68 162 L256.98 163.25 L245.18 159.35Z" fill="#fff" stroke="none"/><path d="M247.58 155.15 L256.98 158.85 L260.68 157.6 L260.68 162 L256.98 163.25 L245.18 159.35 M256.98 158.85 L256.98 163.25" stroke-width="0.7"/>
<path d="M242.98 156.7 L252.38 160.4 L256.08 159.15 L256.08 163.55 L252.38 164.8 L240.58 160.9Z" fill="#fff" stroke="none"/><path d="M242.98 156.7 L252.38 160.4 L256.08 159.15 L256.08 163.55 L252.38 164.8 L240.58 160.9 M252.38 160.4 L252.38 164.8" stroke-width="0.7"/>
<path d="M238.38 158.25 L247.78 161.95 L251.48 160.7 L251.48 165.1 L247.78 166.35 L235.98 162.45Z" fill="#fff" stroke="none"/><path d="M238.38 158.25 L247.78 161.95 L251.48 160.7 L251.48 165.1 L247.78 166.35 L235.98 162.45 M247.78 161.95 L247.78 166.35" stroke-width="0.7"/>
<path d="M233.78 159.8 L243.18 163.5 L246.88 162.25 L246.88 166.65 L243.18 167.9 L231.38 164Z" fill="#fff" stroke="none"/><path d="M233.78 159.8 L243.18 163.5 L246.88 162.25 L246.88 166.65 L243.18 167.9 L231.38 164 M243.18 163.5 L243.18 167.9" stroke-width="0.7"/>
<path d="M229.18 161.35 L238.58 165.05 L242.28 163.8 L242.28 168.2 L238.58 169.45 L226.78 165.55Z" fill="#fff" stroke="none"/><path d="M229.18 161.35 L238.58 165.05 L242.28 163.8 L242.28 168.2 L238.58 169.45 L226.78 165.55 M238.58 165.05 L238.58 169.45" stroke-width="0.7"/>
<path d="M224.58 162.9 L233.98 166.6 L237.68 165.35 L237.68 169.75 L233.98 171 L222.18 167.1Z" fill="#fff" stroke="none"/><path d="M224.58 162.9 L233.98 166.6 L237.68 165.35 L237.68 169.75 L233.98 171 L222.18 167.1 M233.98 166.6 L233.98 171" stroke-width="0.7"/>
<path d="M279.52 153.1 L288.92 156.8 L292.62 155.55 L292.62 159.95 L288.92 161.2 L277.12 157.3Z" fill="#fff" stroke="none"/><path d="M279.52 153.1 L288.92 156.8 L292.62 155.55 L292.62 159.95 L288.92 161.2 L277.12 157.3 M288.92 156.8 L288.92 161.2" stroke-width="0.7"/>
<path d="M274.92 154.65 L284.32 158.35 L288.02 157.1 L288.02 161.5 L284.32 162.75 L272.52 158.85Z" fill="#fff" stroke="none"/><path d="M274.92 154.65 L284.32 158.35 L288.02 157.1 L288.02 161.5 L284.32 162.75 L272.52 158.85 M284.32 158.35 L284.32 162.75" stroke-width="0.7"/>
<path d="M270.32 156.2 L279.72 159.9 L283.42 158.65 L283.42 163.05 L279.72 164.3 L267.92 160.4Z" fill="#fff" stroke="none"/><path d="M270.32 156.2 L279.72 159.9 L283.42 158.65 L283.42 163.05 L279.72 164.3 L267.92 160.4 M279.72 159.9 L279.72 164.3" stroke-width="0.7"/>
<path d="M265.72 157.75 L275.12 161.45 L278.82 160.2 L278.82 164.6 L275.12 165.85 L263.32 161.95Z" fill="#fff" stroke="none"/><path d="M265.72 157.75 L275.12 161.45 L278.82 160.2 L278.82 164.6 L275.12 165.85 L263.32 161.95 M275.12 161.45 L275.12 165.85" stroke-width="0.7"/>
<path d="M261.12 159.3 L270.52 163 L274.22 161.75 L274.22 166.15 L270.52 167.4 L258.72 163.5Z" fill="#fff" stroke="none"/><path d="M261.12 159.3 L270.52 163 L274.22 161.75 L274.22 166.15 L270.52 167.4 L258.72 163.5 M270.52 163 L270.52 167.4" stroke-width="0.7"/>
<path d="M256.52 160.85 L265.92 164.55 L269.62 163.3 L269.62 167.7 L265.92 168.95 L254.12 165.05Z" fill="#fff" stroke="none"/><path d="M256.52 160.85 L265.92 164.55 L269.62 163.3 L269.62 167.7 L265.92 168.95 L254.12 165.05 M265.92 164.55 L265.92 168.95" stroke-width="0.7"/>
<path d="M251.92 162.4 L261.32 166.1 L265.02 164.85 L265.02 169.25 L261.32 170.5 L249.52 166.6Z" fill="#fff" stroke="none"/><path d="M251.92 162.4 L261.32 166.1 L265.02 164.85 L265.02 169.25 L261.32 170.5 L249.52 166.6 M261.32 166.1 L261.32 170.5" stroke-width="0.7"/>
<path d="M247.32 163.95 L256.72 167.65 L260.42 166.4 L260.42 170.8 L256.72 172.05 L244.92 168.15Z" fill="#fff" stroke="none"/><path d="M247.32 163.95 L256.72 167.65 L260.42 166.4 L260.42 170.8 L256.72 172.05 L244.92 168.15 M256.72 167.65 L256.72 172.05" stroke-width="0.7"/>
<path d="M242.72 165.5 L252.12 169.2 L255.82 167.95 L255.82 172.35 L252.12 173.6 L240.32 169.7Z" fill="#fff" stroke="none"/><path d="M242.72 165.5 L252.12 169.2 L255.82 167.95 L255.82 172.35 L252.12 173.6 L240.32 169.7 M252.12 169.2 L252.12 173.6" stroke-width="0.7"/>
<path d="M238.12 167.05 L247.52 170.75 L251.22 169.5 L251.22 173.9 L247.52 175.15 L235.72 171.25Z" fill="#fff" stroke="none"/><path d="M238.12 167.05 L247.52 170.75 L251.22 169.5 L251.22 173.9 L247.52 175.15 L235.72 171.25 M247.52 170.75 L247.52 175.15" stroke-width="0.7"/>
<path d="M233.52 168.6 L242.92 172.3 L246.62 171.05 L246.62 175.45 L242.92 176.7 L231.12 172.8Z" fill="#fff" stroke="none"/><path d="M233.52 168.6 L242.92 172.3 L246.62 171.05 L246.62 175.45 L242.92 176.7 L231.12 172.8 M242.92 172.3 L242.92 176.7" stroke-width="0.7"/>
<path d="M228.92 170.15 L238.32 173.85 L242.02 172.6 L242.02 177 L238.32 178.25 L226.52 174.35Z" fill="#fff" stroke="none"/><path d="M228.92 170.15 L238.32 173.85 L242.02 172.6 L242.02 177 L238.32 178.25 L226.52 174.35 M238.32 173.85 L238.32 178.25" stroke-width="0.7"/>
<path d="M224.32 171.7 L233.72 175.4 L237.42 174.15 L237.42 178.55 L233.72 179.8 L221.92 175.9Z" fill="#fff" stroke="none"/><path d="M224.32 171.7 L233.72 175.4 L237.42 174.15 L237.42 178.55 L233.72 179.8 L221.92 175.9 M233.72 175.4 L233.72 179.8" stroke-width="0.7"/>
<path d="M279.26 161.9 L288.66 165.6 L292.36 164.35 L292.36 168.75 L288.66 170 L276.86 166.1Z" fill="#fff" stroke="none"/><path d="M279.26 161.9 L288.66 165.6 L292.36 164.35 L292.36 168.75 L288.66 170 L276.86 166.1 M288.66 165.6 L288.66 170" stroke-width="0.7"/>
<path d="M274.66 163.45 L284.06 167.15 L287.76 165.9 L287.76 170.3 L284.06 171.55 L272.26 167.65Z" fill="#fff" stroke="none"/><path d="M274.66 163.45 L284.06 167.15 L287.76 165.9 L287.76 170.3 L284.06 171.55 L272.26 167.65 M284.06 167.15 L284.06 171.55" stroke-width="0.7"/>
<path d="M270.06 165 L279.46 168.7 L283.16 167.45 L283.16 171.85 L279.46 173.1 L267.66 169.2Z" fill="#fff" stroke="none"/><path d="M270.06 165 L279.46 168.7 L283.16 167.45 L283.16 171.85 L279.46 173.1 L267.66 169.2 M279.46 168.7 L279.46 173.1" stroke-width="0.7"/>
<path d="M265.46 166.55 L274.86 170.25 L278.56 169 L278.56 173.4 L274.86 174.65 L263.06 170.75Z" fill="#fff" stroke="none"/><path d="M265.46 166.55 L274.86 170.25 L278.56 169 L278.56 173.4 L274.86 174.65 L263.06 170.75 M274.86 170.25 L274.86 174.65" stroke-width="0.7"/>
<path d="M260.86 168.1 L270.26 171.8 L273.96 170.55 L273.96 174.95 L270.26 176.2 L258.46 172.3Z" fill="#fff" stroke="none"/><path d="M260.86 168.1 L270.26 171.8 L273.96 170.55 L273.96 174.95 L270.26 176.2 L258.46 172.3 M270.26 171.8 L270.26 176.2" stroke-width="0.7"/>
<path d="M256.26 169.65 L265.66 173.35 L269.36 172.1 L269.36 176.5 L265.66 177.75 L253.86 173.85Z" fill="#fff" stroke="none"/><path d="M256.26 169.65 L265.66 173.35 L269.36 172.1 L269.36 176.5 L265.66 177.75 L253.86 173.85 M265.66 173.35 L265.66 177.75" stroke-width="0.7"/>
<path d="M251.66 171.2 L261.06 174.9 L264.76 173.65 L264.76 178.05 L261.06 179.3 L249.26 175.4Z" fill="#fff" stroke="none"/><path d="M251.66 171.2 L261.06 174.9 L264.76 173.65 L264.76 178.05 L261.06 179.3 L249.26 175.4 M261.06 174.9 L261.06 179.3" stroke-width="0.7"/>
<path d="M247.06 172.75 L256.46 176.45 L260.16 175.2 L260.16 179.6 L256.46 180.85 L244.66 176.95Z" fill="#fff" stroke="none"/><path d="M247.06 172.75 L256.46 176.45 L260.16 175.2 L260.16 179.6 L256.46 180.85 L244.66 176.95 M256.46 176.45 L256.46 180.85" stroke-width="0.7"/>
<path d="M242.46 174.3 L251.86 178 L255.56 176.75 L255.56 181.15 L251.86 182.4 L240.06 178.5Z" fill="#fff" stroke="none"/><path d="M242.46 174.3 L251.86 178 L255.56 176.75 L255.56 181.15 L251.86 182.4 L240.06 178.5 M251.86 178 L251.86 182.4" stroke-width="0.7"/>
<path d="M237.86 175.85 L247.26 179.55 L250.96 178.3 L250.96 182.7 L247.26 183.95 L235.46 180.05Z" fill="#fff" stroke="none"/><path d="M237.86 175.85 L247.26 179.55 L250.96 178.3 L250.96 182.7 L247.26 183.95 L235.46 180.05 M247.26 179.55 L247.26 183.95" stroke-width="0.7"/>
<path d="M233.26 177.4 L242.66 181.1 L246.36 179.85 L246.36 184.25 L242.66 185.5 L230.86 181.6Z" fill="#fff" stroke="none"/><path d="M233.26 177.4 L242.66 181.1 L246.36 179.85 L246.36 184.25 L242.66 185.5 L230.86 181.6 M242.66 181.1 L242.66 185.5" stroke-width="0.7"/>
<path d="M228.66 178.95 L238.06 182.65 L241.76 181.4 L241.76 185.8 L238.06 187.05 L226.26 183.15Z" fill="#fff" stroke="none"/><path d="M228.66 178.95 L238.06 182.65 L241.76 181.4 L241.76 185.8 L238.06 187.05 L226.26 183.15 M238.06 182.65 L238.06 187.05" stroke-width="0.7"/>
<path d="M224.06 180.5 L233.46 184.2 L237.16 182.95 L237.16 187.35 L233.46 188.6 L221.66 184.7Z" fill="#fff" stroke="none"/><path d="M224.06 180.5 L233.46 184.2 L237.16 182.95 L237.16 187.35 L233.46 188.6 L221.66 184.7 M233.46 184.2 L233.46 188.6" stroke-width="0.7"/>
<path d="M279 170.7 L288.4 174.4 L292.1 173.15 L292.1 177.55 L288.4 178.8 L276.6 174.9Z" fill="#fff" stroke="none"/><path d="M279 170.7 L288.4 174.4 L292.1 173.15 L292.1 177.55 L288.4 178.8 L276.6 174.9 M288.4 174.4 L288.4 178.8" stroke-width="0.7"/>
<path d="M274.4 172.25 L283.8 175.95 L287.5 174.7 L287.5 179.1 L283.8 180.35 L272 176.45Z" fill="#fff" stroke="none"/><path d="M274.4 172.25 L283.8 175.95 L287.5 174.7 L287.5 179.1 L283.8 180.35 L272 176.45 M283.8 175.95 L283.8 180.35" stroke-width="0.7"/>
<path d="M269.8 173.8 L279.2 177.5 L282.9 176.25 L282.9 180.65 L279.2 181.9 L267.4 178Z" fill="#fff" stroke="none"/><path d="M269.8 173.8 L279.2 177.5 L282.9 176.25 L282.9 180.65 L279.2 181.9 L267.4 178 M279.2 177.5 L279.2 181.9" stroke-width="0.7"/>
<path d="M265.2 175.35 L274.6 179.05 L278.3 177.8 L278.3 182.2 L274.6 183.45 L262.8 179.55Z" fill="#fff" stroke="none"/><path d="M265.2 175.35 L274.6 179.05 L278.3 177.8 L278.3 182.2 L274.6 183.45 L262.8 179.55 M274.6 179.05 L274.6 183.45" stroke-width="0.7"/>
<path d="M260.6 176.9 L270 180.6 L273.7 179.35 L273.7 183.75 L270 185 L258.2 181.1Z" fill="#fff" stroke="none"/><path d="M260.6 176.9 L270 180.6 L273.7 179.35 L273.7 183.75 L270 185 L258.2 181.1 M270 180.6 L270 185" stroke-width="0.7"/>
<path d="M256 178.45 L265.4 182.15 L269.1 180.9 L269.1 185.3 L265.4 186.55 L253.6 182.65Z" fill="#fff" stroke="none"/><path d="M256 178.45 L265.4 182.15 L269.1 180.9 L269.1 185.3 L265.4 186.55 L253.6 182.65 M265.4 182.15 L265.4 186.55" stroke-width="0.7"/>
<path d="M251.4 180 L260.8 183.7 L264.5 182.45 L264.5 186.85 L260.8 188.1 L249 184.2Z" fill="#fff" stroke="none"/><path d="M251.4 180 L260.8 183.7 L264.5 182.45 L264.5 186.85 L260.8 188.1 L249 184.2 M260.8 183.7 L260.8 188.1" stroke-width="0.7"/>
<path d="M246.8 181.55 L256.2 185.25 L259.9 184 L259.9 188.4 L256.2 189.65 L244.4 185.75Z" fill="#fff" stroke="none"/><path d="M246.8 181.55 L256.2 185.25 L259.9 184 L259.9 188.4 L256.2 189.65 L244.4 185.75 M256.2 185.25 L256.2 189.65" stroke-width="0.7"/>
<path d="M242.2 183.1 L251.6 186.8 L255.3 185.55 L255.3 189.95 L251.6 191.2 L239.8 187.3Z" fill="#fff" stroke="none"/><path d="M242.2 183.1 L251.6 186.8 L255.3 185.55 L255.3 189.95 L251.6 191.2 L239.8 187.3 M251.6 186.8 L251.6 191.2" stroke-width="0.7"/>
<path d="M237.6 184.65 L247 188.35 L250.7 187.1 L250.7 191.5 L247 192.75 L235.2 188.85Z" fill="#fff" stroke="none"/><path d="M237.6 184.65 L247 188.35 L250.7 187.1 L250.7 191.5 L247 192.75 L235.2 188.85 M247 188.35 L247 192.75" stroke-width="0.7"/>
<path d="M233 186.2 L242.4 189.9 L246.1 188.65 L246.1 193.05 L242.4 194.3 L230.6 190.4Z" fill="#fff" stroke="none"/><path d="M233 186.2 L242.4 189.9 L246.1 188.65 L246.1 193.05 L242.4 194.3 L230.6 190.4 M242.4 189.9 L242.4 194.3" stroke-width="0.7"/>
<path d="M228.4 187.75 L237.8 191.45 L241.5 190.2 L241.5 194.6 L237.8 195.85 L226 191.95Z" fill="#fff" stroke="none"/><path d="M228.4 187.75 L237.8 191.45 L241.5 190.2 L241.5 194.6 L237.8 195.85 L226 191.95 M237.8 191.45 L237.8 195.85" stroke-width="0.7"/>
<path d="M223.8 189.3 L233.2 193 L236.9 191.75 L236.9 196.15 L233.2 197.4 L221.4 193.5Z" fill="#fff" stroke="none"/><path d="M223.8 189.3 L233.2 193 L236.9 191.75 L236.9 196.15 L233.2 197.4 L221.4 193.5 M233.2 193 L233.2 197.4" stroke-width="0.7"/>
<path d="M278.74 179.5 L288.14 183.2 L291.84 181.95 L291.84 186.35 L288.14 187.6 L276.34 183.7Z" fill="#fff" stroke="none"/><path d="M278.74 179.5 L288.14 183.2 L291.84 181.95 L291.84 186.35 L288.14 187.6 L276.34 183.7 M288.14 183.2 L288.14 187.6" stroke-width="0.7"/>
<path d="M274.14 181.05 L283.54 184.75 L287.24 183.5 L287.24 187.9 L283.54 189.15 L271.74 185.25Z" fill="#fff" stroke="none"/><path d="M274.14 181.05 L283.54 184.75 L287.24 183.5 L287.24 187.9 L283.54 189.15 L271.74 185.25 M283.54 184.75 L283.54 189.15" stroke-width="0.7"/>
<path d="M269.54 182.6 L278.94 186.3 L282.64 185.05 L282.64 189.45 L278.94 190.7 L267.14 186.8Z" fill="#fff" stroke="none"/><path d="M269.54 182.6 L278.94 186.3 L282.64 185.05 L282.64 189.45 L278.94 190.7 L267.14 186.8 M278.94 186.3 L278.94 190.7" stroke-width="0.7"/>
<path d="M264.94 184.15 L274.34 187.85 L278.04 186.6 L278.04 191 L274.34 192.25 L262.54 188.35Z" fill="#fff" stroke="none"/><path d="M264.94 184.15 L274.34 187.85 L278.04 186.6 L278.04 191 L274.34 192.25 L262.54 188.35 M274.34 187.85 L274.34 192.25" stroke-width="0.7"/>
<path d="M260.34 185.7 L269.74 189.4 L273.44 188.15 L273.44 192.55 L269.74 193.8 L257.94 189.9Z" fill="#fff" stroke="none"/><path d="M260.34 185.7 L269.74 189.4 L273.44 188.15 L273.44 192.55 L269.74 193.8 L257.94 189.9 M269.74 189.4 L269.74 193.8" stroke-width="0.7"/>
<path d="M255.74 187.25 L265.14 190.95 L268.84 189.7 L268.84 194.1 L265.14 195.35 L253.34 191.45Z" fill="#fff" stroke="none"/><path d="M255.74 187.25 L265.14 190.95 L268.84 189.7 L268.84 194.1 L265.14 195.35 L253.34 191.45 M265.14 190.95 L265.14 195.35" stroke-width="0.7"/>
<path d="M251.14 188.8 L260.54 192.5 L264.24 191.25 L264.24 195.65 L260.54 196.9 L248.74 193Z" fill="#fff" stroke="none"/><path d="M251.14 188.8 L260.54 192.5 L264.24 191.25 L264.24 195.65 L260.54 196.9 L248.74 193 M260.54 192.5 L260.54 196.9" stroke-width="0.7"/>
<path d="M246.54 190.35 L255.94 194.05 L259.64 192.8 L259.64 197.2 L255.94 198.45 L244.14 194.55Z" fill="#fff" stroke="none"/><path d="M246.54 190.35 L255.94 194.05 L259.64 192.8 L259.64 197.2 L255.94 198.45 L244.14 194.55 M255.94 194.05 L255.94 198.45" stroke-width="0.7"/>
<path d="M241.94 191.9 L251.34 195.6 L255.04 194.35 L255.04 198.75 L251.34 200 L239.54 196.1Z" fill="#fff" stroke="none"/><path d="M241.94 191.9 L251.34 195.6 L255.04 194.35 L255.04 198.75 L251.34 200 L239.54 196.1 M251.34 195.6 L251.34 200" stroke-width="0.7"/>
<path d="M237.34 193.45 L246.74 197.15 L250.44 195.9 L250.44 200.3 L246.74 201.55 L234.94 197.65Z" fill="#fff" stroke="none"/><path d="M237.34 193.45 L246.74 197.15 L250.44 195.9 L250.44 200.3 L246.74 201.55 L234.94 197.65 M246.74 197.15 L246.74 201.55" stroke-width="0.7"/>
<path d="M232.74 195 L242.14 198.7 L245.84 197.45 L245.84 201.85 L242.14 203.1 L230.34 199.2Z" fill="#fff" stroke="none"/><path d="M232.74 195 L242.14 198.7 L245.84 197.45 L245.84 201.85 L242.14 203.1 L230.34 199.2 M242.14 198.7 L242.14 203.1" stroke-width="0.7"/>
<path d="M228.14 196.55 L237.54 200.25 L241.24 199 L241.24 203.4 L237.54 204.65 L225.74 200.75Z" fill="#fff" stroke="none"/><path d="M228.14 196.55 L237.54 200.25 L241.24 199 L241.24 203.4 L237.54 204.65 L225.74 200.75 M237.54 200.25 L237.54 204.65" stroke-width="0.7"/>
<path d="M223.54 198.1 L232.94 201.8 L236.64 200.55 L236.64 204.95 L232.94 206.2 L221.14 202.3Z" fill="#fff" stroke="none"/><path d="M223.54 198.1 L232.94 201.8 L236.64 200.55 L236.64 204.95 L232.94 206.2 L221.14 202.3 M232.94 201.8 L232.94 206.2" stroke-width="0.7"/>
<path d="M278.48 188.3 L287.88 192 L291.58 190.75 L291.58 195.15 L287.88 196.4 L276.08 192.5Z" fill="#fff" stroke="none"/><path d="M278.48 188.3 L287.88 192 L291.58 190.75 L291.58 195.15 L287.88 196.4 L276.08 192.5 M287.88 192 L287.88 196.4" stroke-width="0.7"/>
<path d="M273.88 189.85 L283.28 193.55 L286.98 192.3 L286.98 196.7 L283.28 197.95 L271.48 194.05Z" fill="#fff" stroke="none"/><path d="M273.88 189.85 L283.28 193.55 L286.98 192.3 L286.98 196.7 L283.28 197.95 L271.48 194.05 M283.28 193.55 L283.28 197.95" stroke-width="0.7"/>
<path d="M269.28 191.4 L278.68 195.1 L282.38 193.85 L282.38 198.25 L278.68 199.5 L266.88 195.6Z" fill="#fff" stroke="none"/><path d="M269.28 191.4 L278.68 195.1 L282.38 193.85 L282.38 198.25 L278.68 199.5 L266.88 195.6 M278.68 195.1 L278.68 199.5" stroke-width="0.7"/>
<path d="M264.68 192.95 L274.08 196.65 L277.78 195.4 L277.78 199.8 L274.08 201.05 L262.28 197.15Z" fill="#fff" stroke="none"/><path d="M264.68 192.95 L274.08 196.65 L277.78 195.4 L277.78 199.8 L274.08 201.05 L262.28 197.15 M274.08 196.65 L274.08 201.05" stroke-width="0.7"/>
<path d="M260.08 194.5 L269.48 198.2 L273.18 196.95 L273.18 201.35 L269.48 202.6 L257.68 198.7Z" fill="#fff" stroke="none"/><path d="M260.08 194.5 L269.48 198.2 L273.18 196.95 L273.18 201.35 L269.48 202.6 L257.68 198.7 M269.48 198.2 L269.48 202.6" stroke-width="0.7"/>
<path d="M255.48 196.05 L264.88 199.75 L268.58 198.5 L268.58 202.9 L264.88 204.15 L253.08 200.25Z" fill="#fff" stroke="none"/><path d="M255.48 196.05 L264.88 199.75 L268.58 198.5 L268.58 202.9 L264.88 204.15 L253.08 200.25 M264.88 199.75 L264.88 204.15" stroke-width="0.7"/>
<path d="M250.88 197.6 L260.28 201.3 L263.98 200.05 L263.98 204.45 L260.28 205.7 L248.48 201.8Z" fill="#fff" stroke="none"/><path d="M250.88 197.6 L260.28 201.3 L263.98 200.05 L263.98 204.45 L260.28 205.7 L248.48 201.8 M260.28 201.3 L260.28 205.7" stroke-width="0.7"/>
<path d="M246.28 199.15 L255.68 202.85 L259.38 201.6 L259.38 206 L255.68 207.25 L243.88 203.35Z" fill="#fff" stroke="none"/><path d="M246.28 199.15 L255.68 202.85 L259.38 201.6 L259.38 206 L255.68 207.25 L243.88 203.35 M255.68 202.85 L255.68 207.25" stroke-width="0.7"/>
<path d="M241.68 200.7 L251.08 204.4 L254.78 203.15 L254.78 207.55 L251.08 208.8 L239.28 204.9Z" fill="#fff" stroke="none"/><path d="M241.68 200.7 L251.08 204.4 L254.78 203.15 L254.78 207.55 L251.08 208.8 L239.28 204.9 M251.08 204.4 L251.08 208.8" stroke-width="0.7"/>
<path d="M237.08 202.25 L246.48 205.95 L250.18 204.7 L250.18 209.1 L246.48 210.35 L234.68 206.45Z" fill="#fff" stroke="none"/><path d="M237.08 202.25 L246.48 205.95 L250.18 204.7 L250.18 209.1 L246.48 210.35 L234.68 206.45 M246.48 205.95 L246.48 210.35" stroke-width="0.7"/>
<path d="M232.48 203.8 L241.88 207.5 L245.58 206.25 L245.58 210.65 L241.88 211.9 L230.08 208Z" fill="#fff" stroke="none"/><path d="M232.48 203.8 L241.88 207.5 L245.58 206.25 L245.58 210.65 L241.88 211.9 L230.08 208 M241.88 207.5 L241.88 211.9" stroke-width="0.7"/>
<path d="M227.88 205.35 L237.28 209.05 L240.98 207.8 L240.98 212.2 L237.28 213.45 L225.48 209.55Z" fill="#fff" stroke="none"/><path d="M227.88 205.35 L237.28 209.05 L240.98 207.8 L240.98 212.2 L237.28 213.45 L225.48 209.55 M237.28 209.05 L237.28 213.45" stroke-width="0.7"/>
<path d="M223.28 206.9 L232.68 210.6 L236.38 209.35 L236.38 213.75 L232.68 215 L220.88 211.1Z" fill="#fff" stroke="none"/><path d="M223.28 206.9 L232.68 210.6 L236.38 209.35 L236.38 213.75 L232.68 215 L220.88 211.1 M232.68 210.6 L232.68 215" stroke-width="0.7"/>
<path d="M278.22 197.1 L287.62 200.8 L291.32 199.55 L291.32 203.95 L287.62 205.2 L275.82 201.3Z" fill="#fff" stroke="none"/><path d="M278.22 197.1 L287.62 200.8 L291.32 199.55 L291.32 203.95 L287.62 205.2 L275.82 201.3 M287.62 200.8 L287.62 205.2" stroke-width="0.7"/>
<path d="M273.62 198.65 L283.02 202.35 L286.72 201.1 L286.72 205.5 L283.02 206.75 L271.22 202.85Z" fill="#fff" stroke="none"/><path d="M273.62 198.65 L283.02 202.35 L286.72 201.1 L286.72 205.5 L283.02 206.75 L271.22 202.85 M283.02 202.35 L283.02 206.75" stroke-width="0.7"/>
<path d="M269.02 200.2 L278.42 203.9 L282.12 202.65 L282.12 207.05 L278.42 208.3 L266.62 204.4Z" fill="#fff" stroke="none"/><path d="M269.02 200.2 L278.42 203.9 L282.12 202.65 L282.12 207.05 L278.42 208.3 L266.62 204.4 M278.42 203.9 L278.42 208.3" stroke-width="0.7"/>
<path d="M264.42 201.75 L273.82 205.45 L277.52 204.2 L277.52 208.6 L273.82 209.85 L262.02 205.95Z" fill="#fff" stroke="none"/><path d="M264.42 201.75 L273.82 205.45 L277.52 204.2 L277.52 208.6 L273.82 209.85 L262.02 205.95 M273.82 205.45 L273.82 209.85" stroke-width="0.7"/>
<path d="M259.82 203.3 L269.22 207 L272.92 205.75 L272.92 210.15 L269.22 211.4 L257.42 207.5Z" fill="#fff" stroke="none"/><path d="M259.82 203.3 L269.22 207 L272.92 205.75 L272.92 210.15 L269.22 211.4 L257.42 207.5 M269.22 207 L269.22 211.4" stroke-width="0.7"/>
<path d="M255.22 204.85 L264.62 208.55 L268.32 207.3 L268.32 211.7 L264.62 212.95 L252.82 209.05Z" fill="#fff" stroke="none"/><path d="M255.22 204.85 L264.62 208.55 L268.32 207.3 L268.32 211.7 L264.62 212.95 L252.82 209.05 M264.62 208.55 L264.62 212.95" stroke-width="0.7"/>
<path d="M250.62 206.4 L260.02 210.1 L263.72 208.85 L263.72 213.25 L260.02 214.5 L248.22 210.6Z" fill="#fff" stroke="none"/><path d="M250.62 206.4 L260.02 210.1 L263.72 208.85 L263.72 213.25 L260.02 214.5 L248.22 210.6 M260.02 210.1 L260.02 214.5" stroke-width="0.7"/>
<path d="M246.02 207.95 L255.42 211.65 L259.12 210.4 L259.12 214.8 L255.42 216.05 L243.62 212.15Z" fill="#fff" stroke="none"/><path d="M246.02 207.95 L255.42 211.65 L259.12 210.4 L259.12 214.8 L255.42 216.05 L243.62 212.15 M255.42 211.65 L255.42 216.05" stroke-width="0.7"/>
<path d="M241.42 209.5 L250.82 213.2 L254.52 211.95 L254.52 216.35 L250.82 217.6 L239.02 213.7Z" fill="#fff" stroke="none"/><path d="M241.42 209.5 L250.82 213.2 L254.52 211.95 L254.52 216.35 L250.82 217.6 L239.02 213.7 M250.82 213.2 L250.82 217.6" stroke-width="0.7"/>
<path d="M236.82 211.05 L246.22 214.75 L249.92 213.5 L249.92 217.9 L246.22 219.15 L234.42 215.25Z" fill="#fff" stroke="none"/><path d="M236.82 211.05 L246.22 214.75 L249.92 213.5 L249.92 217.9 L246.22 219.15 L234.42 215.25 M246.22 214.75 L246.22 219.15" stroke-width="0.7"/>
<path d="M232.22 212.6 L241.62 216.3 L245.32 215.05 L245.32 219.45 L241.62 220.7 L229.82 216.8Z" fill="#fff" stroke="none"/><path d="M232.22 212.6 L241.62 216.3 L245.32 215.05 L245.32 219.45 L241.62 220.7 L229.82 216.8 M241.62 216.3 L241.62 220.7" stroke-width="0.7"/>
<path d="M227.62 214.15 L237.02 217.85 L240.72 216.6 L240.72 221 L237.02 222.25 L225.22 218.35Z" fill="#fff" stroke="none"/><path d="M227.62 214.15 L237.02 217.85 L240.72 216.6 L240.72 221 L237.02 222.25 L225.22 218.35 M237.02 217.85 L237.02 222.25" stroke-width="0.7"/>
<path d="M223.02 215.7 L232.42 219.4 L236.12 218.15 L236.12 222.55 L232.42 223.8 L220.62 219.9Z" fill="#fff" stroke="none"/><path d="M223.02 215.7 L232.42 219.4 L236.12 218.15 L236.12 222.55 L232.42 223.8 L220.62 219.9 M232.42 219.4 L232.42 223.8" stroke-width="0.7"/>
<path d="M11.5 5 Q11.5 1 15 1.1 L72.6 5.9 Q74.7 6.1 74.6 8.2 L74.5 11 Q74.3 13.8 71 15 Q69.6 17.3 72 18.2 Q73.6 18.8 73.6 20.8 L73.6 36 Q73.6 37.9 75.5 38.2 L118 43.3 Q122.9 44 122.9 49.5 L122.9 392.5 Q122.9 396.9 119 396.3 L75.3 389 L75.3 357.3 Q75.3 355 73 354.5 L15.5 342.2 Q11.5 341.3 11.5 337.3 Z" stroke-width="1.25" fill="#fff" />
<path d="M121.1 47 L121.1 395" stroke-width="0.8" fill="none" />
<path d="M75 39.6 L117.5 44.8 L121 47.5" stroke-width="0.8" fill="none" />
<path d="M72.6 19 L72.6 37" stroke-width="0.8" fill="none" />
<path d="M51.5 35.2 L64.5 37.2 Q67.8 38.2 67.2 41.2 Q66.6 44.2 63.3 43.9 L50.5 41.9 Q47.6 41 48.2 38 Q48.8 35 51.5 35.2Z" stroke-width="0.8" fill="none" />
<path d="M51.8 36.6 L64.2 38.5 Q66.3 39.2 65.9 41 Q65.4 42.8 63.3 42.6 L50.9 40.6" stroke-width="0.5" fill="none" />
<ellipse cx="27.9" cy="30.5" rx="13.5" ry="16.39" stroke-width="1.25" fill="#fff"/>
<path d="M14.4 14.4 L27.9 14.11 L27.9 46.89 L14.4 48.2Z" stroke-width="0" fill="#fff" stroke="none"/>
<path d="M14.4 14.4 L27.9 14.11" stroke-width="1.25" fill="none" />
<path d="M14.4 48.2 L27.9 46.89" stroke-width="1.25" fill="none" />
<ellipse cx="22.77" cy="30.8" rx="13.5" ry="16.65" stroke-width="0.8" fill="#fff"/>
<ellipse cx="14.4" cy="31.3" rx="13.5" ry="16.9" stroke-width="1.25" fill="#fff"/>
<ellipse cx="14.1" cy="31.5" rx="9" ry="10.6" stroke-width="0.8" fill="none"/>
<path d="M-0.9 -5.3 L0.9 -5.3 L0.9 -0.9 L4.5 -0.9 L4.5 0.9 L0.9 0.9 L0.9 5.3 L-0.9 5.3 L-0.9 0.9 L-4.5 0.9 L-4.5 -0.9 L-0.9 -0.9Z" transform="translate(14.1 31.5) rotate(6)" stroke-width="0.8" fill="none"/>
<ellipse cx="94.7" cy="377.6" rx="14.2" ry="16.97" stroke-width="1.25" fill="#fff"/>
<path d="M83.7 361.7 L94.7 360.62 L94.7 394.57 L83.7 396.7Z" stroke-width="0" fill="#fff" stroke="none"/>
<path d="M83.7 361.7 L94.7 360.62" stroke-width="1.25" fill="none" />
<path d="M83.7 396.7 L94.7 394.57" stroke-width="1.25" fill="none" />
<ellipse cx="90.52" cy="378.21" rx="14.2" ry="17.24" stroke-width="0.8" fill="#fff"/>
<ellipse cx="83.7" cy="379.2" rx="14.2" ry="17.5" stroke-width="1.25" fill="#fff"/>
<ellipse cx="83.4" cy="379.4" rx="9.8" ry="11" stroke-width="0.8" fill="none"/>
<path d="M-0.9 -5.5 L0.9 -5.5 L0.9 -0.9 L4.9 -0.9 L4.9 0.9 L0.9 0.9 L0.9 5.5 L-0.9 5.5 L-0.9 0.9 L-4.9 0.9 L-4.9 -0.9 L-0.9 -0.9Z" transform="translate(83.4 379.4) rotate(14)" stroke-width="0.8" fill="none"/>
<text transform="translate(19.4 88.2) skewY(5.37)" font-size="13.2" font-weight="normal" text-anchor="start" textLength="95.8" lengthAdjust="spacingAndGlyphs" stroke="#000" stroke-width="0.22" fill="#000" >Ethernet 1000BASE-X</text>
<text transform="translate(58.2 106.3) skewY(5.37)" font-size="13.2" font-weight="normal" text-anchor="start" textLength="18" lengthAdjust="spacingAndGlyphs" stroke="#000" stroke-width="0.22" fill="#000" >SFP</text>
<text transform="translate(44.8 131.4) skewY(5.71)" font-size="7" font-weight="normal" text-anchor="start" textLength="15.2" lengthAdjust="spacingAndGlyphs" stroke="#000" stroke-width="0.22" fill="#000" >PORT</text>
<text transform="translate(62.3 132.8) skewY(5.71)" font-size="5.2" font-weight="normal" text-anchor="start" stroke="#000" stroke-width="0.22" fill="#000" >0</text>
<text transform="translate(21 164.6) skewY(5.71)" font-size="7" font-weight="normal" text-anchor="start" textLength="20.6" lengthAdjust="spacingAndGlyphs" stroke="#000" stroke-width="0.22" fill="#000" >STATUS</text>
<text transform="translate(30 183.2) skewY(5.71)" font-size="7" font-weight="normal" text-anchor="start" textLength="10.8" lengthAdjust="spacingAndGlyphs" stroke="#000" stroke-width="0.22" fill="#000" >APP</text>
<text transform="translate(105.2 146.9) skewY(6.84)" font-size="5.3" font-weight="normal" text-anchor="start" textLength="10.6" lengthAdjust="spacingAndGlyphs" stroke="#000" stroke-width="0.22" fill="#000" >XMT</text>
<text transform="translate(105.2 162.6) skewY(6.84)" font-size="5.3" font-weight="normal" text-anchor="start" textLength="10.6" lengthAdjust="spacingAndGlyphs" stroke="#000" stroke-width="0.22" fill="#000" >RCV</text>
<text transform="translate(105.2 187.5) skewY(6.84)" font-size="5.3" font-weight="normal" text-anchor="start" textLength="10.6" lengthAdjust="spacingAndGlyphs" stroke="#000" stroke-width="0.22" fill="#000" >XMT</text>
<text transform="translate(105.2 203.2) skewY(6.84)" font-size="5.3" font-weight="normal" text-anchor="start" textLength="10.6" lengthAdjust="spacingAndGlyphs" stroke="#000" stroke-width="0.22" fill="#000" >RCV</text>
<text transform="translate(105.2 227.2) skewY(6.84)" font-size="5.3" font-weight="normal" text-anchor="start" textLength="10.6" lengthAdjust="spacingAndGlyphs" stroke="#000" stroke-width="0.22" fill="#000" >XMT</text>
<text transform="translate(105.2 243.4) skewY(6.84)" font-size="5.3" font-weight="normal" text-anchor="start" textLength="10.6" lengthAdjust="spacingAndGlyphs" stroke="#000" stroke-width="0.22" fill="#000" >RCV</text>
<text transform="translate(105.2 266.8) skewY(6.84)" font-size="5.3" font-weight="normal" text-anchor="start" textLength="10.6" lengthAdjust="spacingAndGlyphs" stroke="#000" stroke-width="0.22" fill="#000" >XMT</text>
<text transform="translate(105.2 282.4) skewY(6.84)" font-size="5.3" font-weight="normal" text-anchor="start" textLength="10.6" lengthAdjust="spacingAndGlyphs" stroke="#000" stroke-width="0.22" fill="#000" >RCV</text>
<text transform="translate(24 309.4) skewY(9.09)" font-size="18" font-weight="bold" text-anchor="start" textLength="19.8" lengthAdjust="spacingAndGlyphs" stroke="#000" stroke-width="0.22" fill="#000" >Q</text>
<text transform="translate(46.2 305.6) skewY(8.25)" font-size="8.2" font-weight="bold" text-anchor="start" textLength="58.5" lengthAdjust="spacingAndGlyphs" stroke="#000" stroke-width="0.22" fill="#000" >Performance</text>
<text transform="translate(44.8 312.6) skewY(8.25)" font-size="8.2" font-weight="bold" text-anchor="start" textLength="54.5" lengthAdjust="spacingAndGlyphs" stroke="#000" stroke-width="0.22" fill="#000" >Processor 2</text>
<text transform="translate(291.4 281.5) rotate(-90)" font-size="10.6" font-weight="normal" text-anchor="start" textLength="41.2" lengthAdjust="spacingAndGlyphs" stroke="#000" stroke-width="0.22" fill="#000" >g002360</text>
<path d="M44.3 161.2 L53.3 162.2 L53.3 167.6 L44.3 166.6Z" stroke-width="0.8" fill="#fff" />
<path d="M44.8 179.2 L52.4 180 L52.4 185.4 L44.8 184.6Z" stroke-width="0.8" fill="#fff" />
<path d="M75.2 134.9 L75.2 128.3 Q75.3 126.5 77.2 126.7 L98.7 129.6 Q101.6 129.9 101.6 132.9 L101.6 173.9" stroke-width="0.75" fill="#fff" />
<path d="M76.8 128.7 L97.6 131.3 Q99.6 131.6 99.6 133.7 L99.6 172.4" stroke-width="0.6" fill="none" />
<path d="M59.8 135.9 L73.3 131.7 L101.3 134.5 L101.3 169.3 L87.8 173.5 L59.8 170.7Z" stroke-width="0.85" fill="#fff" />
<path d="M59.8 135.9 L87.8 138.7 L87.8 173.5 L59.8 170.7Z" stroke-width="0.85" fill="none" />
<path d="M87.8 138.7 L101.3 134.5" stroke-width="0.85" fill="none" />
<path d="M91.17 137.65 L91.17 172.45" stroke-width="0.65" fill="none" />
<path d="M65.4 136.46 L65.4 171.26" stroke-width="0.85" fill="none" />
<path d="M65.4 136.46 L76.87 132.89" stroke-width="0.65" fill="none" />
<path d="M67.4 140.26 L85.8 142.1" stroke-width="0.65" fill="none" />
<path d="M85.8 142.1 L85.8 154.5" stroke-width="0.65" fill="none" />
<path d="M67.4 153.86 L85.8 148.3" stroke-width="0.85" fill="none" />
<path d="M67.9 155.71 L79.4 152.46" stroke-width="0.65" fill="none" />
<path d="M76.4 142.66 L76.4 148.36" stroke-width="0.65" fill="none" />
<path d="M80.4 143.96 L80.4 146.96" stroke-width="0.65" fill="none" />
<path d="M80.4 146.96 L85.8 144.9" stroke-width="0.65" fill="none" />
<path d="M79.3 141.65 L79.3 143.65 L83.3 144.05 L83.3 142.25" stroke-width="0.65" fill="#333" />
<path d="M67.4 156.06 L85.8 157.9" stroke-width="0.65" fill="none" />
<path d="M85.8 157.9 L85.8 170.3" stroke-width="0.65" fill="none" />
<path d="M67.4 169.66 L85.8 164.1" stroke-width="0.85" fill="none" />
<path d="M67.9 171.51 L79.4 168.26" stroke-width="0.65" fill="none" />
<path d="M76.4 158.46 L76.4 164.16" stroke-width="0.65" fill="none" />
<path d="M80.4 159.76 L80.4 162.76" stroke-width="0.65" fill="none" />
<path d="M80.4 162.76 L85.8 160.7" stroke-width="0.65" fill="none" />
<path d="M79.3 157.45 L79.3 159.45 L83.3 159.85 L83.3 158.05" stroke-width="0.65" fill="#333" />
<path d="M92.52 148.73 L96.17 146.9 L96.17 153.3 L92.52 155.23" stroke-width="0.65" fill="none" />
<path d="M59.8 141.9 L53 141.42 L53 148.02 L58.2 149.54 L59.8 148.5" stroke-width="0.85" fill="#fff" />
<path d="M53 144.62 L57 145.62 L57 149.22 L53 148.02Z" stroke-width="0.65" fill="#d8d8d8" />
<path d="M59.8 162.5 L53 161.82 L53 168.02 L58.6 169.58 L59.8 168.5" stroke-width="0.85" fill="#fff" />
<path d="M53 164.62 L57.6 165.68 L57.6 169.28 L53 168.02Z" stroke-width="0.65" fill="#d8d8d8" />
<path d="M60.8 151.2 Q52.4 151.96 53.4 156.66 Q54.2 160.94 60.4 162.96" stroke-width="0.85" fill="none" />
<path d="M60.8 152.8 Q54.6 153.38 55.2 156.84 Q55.8 159.9 60.4 161.36" stroke-width="0.65" fill="none" />
<path d="M60.1 151.93 L64 151.32 L66.2 153.94 L66.2 159.14 L63.6 161.48 L60.1 160.33Z" stroke-width="0.65" fill="#d8d8d8" />
<path d="M75.2 176.4 L75.2 169.8 Q75.3 168 77.2 168.2 L98.7 171.1 Q101.6 171.4 101.6 174.4 L101.6 215.4" stroke-width="0.75" fill="#fff" />
<path d="M76.8 170.2 L97.6 172.8 Q99.6 173.1 99.6 175.2 L99.6 213.9" stroke-width="0.6" fill="none" />
<path d="M59.8 177.4 L73.3 173.2 L101.3 176 L101.3 210.8 L87.8 215 L59.8 212.2Z" stroke-width="0.85" fill="#fff" />
<path d="M59.8 177.4 L87.8 180.2 L87.8 215 L59.8 212.2Z" stroke-width="0.85" fill="none" />
<path d="M87.8 180.2 L101.3 176" stroke-width="0.85" fill="none" />
<path d="M91.17 179.15 L91.17 213.95" stroke-width="0.65" fill="none" />
<path d="M65.4 177.96 L65.4 212.76" stroke-width="0.85" fill="none" />
<path d="M65.4 177.96 L76.87 174.39" stroke-width="0.65" fill="none" />
<path d="M67.4 181.76 L85.8 183.6" stroke-width="0.65" fill="none" />
<path d="M85.8 183.6 L85.8 196" stroke-width="0.65" fill="none" />
<path d="M67.4 195.36 L85.8 189.8" stroke-width="0.85" fill="none" />
<path d="M67.9 197.21 L79.4 193.96" stroke-width="0.65" fill="none" />
<path d="M76.4 184.16 L76.4 189.86" stroke-width="0.65" fill="none" />
<path d="M80.4 185.46 L80.4 188.46" stroke-width="0.65" fill="none" />
<path d="M80.4 188.46 L85.8 186.4" stroke-width="0.65" fill="none" />
<path d="M79.3 183.15 L79.3 185.15 L83.3 185.55 L83.3 183.75" stroke-width="0.65" fill="#333" />
<path d="M67.4 197.56 L85.8 199.4" stroke-width="0.65" fill="none" />
<path d="M85.8 199.4 L85.8 211.8" stroke-width="0.65" fill="none" />
<path d="M67.4 211.16 L85.8 205.6" stroke-width="0.85" fill="none" />
<path d="M67.9 213.01 L79.4 209.76" stroke-width="0.65" fill="none" />
<path d="M76.4 199.96 L76.4 205.66" stroke-width="0.65" fill="none" />
<path d="M80.4 201.26 L80.4 204.26" stroke-width="0.65" fill="none" />
<path d="M80.4 204.26 L85.8 202.2" stroke-width="0.65" fill="none" />
<path d="M79.3 198.95 L79.3 200.95 L83.3 201.35 L83.3 199.55" stroke-width="0.65" fill="#333" />
<path d="M92.52 190.23 L96.17 188.4 L96.17 194.8 L92.52 196.73" stroke-width="0.65" fill="none" />
<path d="M59.8 183.4 L53 182.92 L53 189.52 L58.2 191.04 L59.8 190" stroke-width="0.85" fill="#fff" />
<path d="M53 186.12 L57 187.12 L57 190.72 L53 189.52Z" stroke-width="0.65" fill="#d8d8d8" />
<path d="M59.8 204 L53 203.32 L53 209.52 L58.6 211.08 L59.8 210" stroke-width="0.85" fill="#fff" />
<path d="M53 206.12 L57.6 207.18 L57.6 210.78 L53 209.52Z" stroke-width="0.65" fill="#d8d8d8" />
<path d="M60.8 192.7 Q52.4 193.46 53.4 198.16 Q54.2 202.44 60.4 204.46" stroke-width="0.85" fill="none" />
<path d="M60.8 194.3 Q54.6 194.88 55.2 198.34 Q55.8 201.4 60.4 202.86" stroke-width="0.65" fill="none" />
<path d="M60.1 193.43 L64 192.82 L66.2 195.44 L66.2 200.64 L63.6 202.98 L60.1 201.83Z" stroke-width="0.65" fill="#d8d8d8" />
<path d="M75.2 217.7 L75.2 211.1 Q75.3 209.3 77.2 209.5 L98.7 212.4 Q101.6 212.7 101.6 215.7 L101.6 256.7" stroke-width="0.75" fill="#fff" />
<path d="M76.8 211.5 L97.6 214.1 Q99.6 214.4 99.6 216.5 L99.6 255.2" stroke-width="0.6" fill="none" />
<path d="M59.8 218.7 L73.3 214.5 L101.3 217.3 L101.3 252.1 L87.8 256.3 L59.8 253.5Z" stroke-width="0.85" fill="#fff" />
<path d="M59.8 218.7 L87.8 221.5 L87.8 256.3 L59.8 253.5Z" stroke-width="0.85" fill="none" />
<path d="M87.8 221.5 L101.3 217.3" stroke-width="0.85" fill="none" />
<path d="M91.17 220.45 L91.17 255.25" stroke-width="0.65" fill="none" />
<path d="M65.4 219.26 L65.4 254.06" stroke-width="0.85" fill="none" />
<path d="M65.4 219.26 L76.87 215.69" stroke-width="0.65" fill="none" />
<path d="M67.4 223.06 L85.8 224.9" stroke-width="0.65" fill="none" />
<path d="M85.8 224.9 L85.8 237.3" stroke-width="0.65" fill="none" />
<path d="M67.4 236.66 L85.8 231.1" stroke-width="0.85" fill="none" />
<path d="M67.9 238.51 L79.4 235.26" stroke-width="0.65" fill="none" />
<path d="M76.4 225.46 L76.4 231.16" stroke-width="0.65" fill="none" />
<path d="M80.4 226.76 L80.4 229.76" stroke-width="0.65" fill="none" />
<path d="M80.4 229.76 L85.8 227.7" stroke-width="0.65" fill="none" />
<path d="M79.3 224.45 L79.3 226.45 L83.3 226.85 L83.3 225.05" stroke-width="0.65" fill="#333" />
<path d="M67.4 238.86 L85.8 240.7" stroke-width="0.65" fill="none" />
<path d="M85.8 240.7 L85.8 253.1" stroke-width="0.65" fill="none" />
<path d="M67.4 252.46 L85.8 246.9" stroke-width="0.85" fill="none" />
<path d="M67.9 254.31 L79.4 251.06" stroke-width="0.65" fill="none" />
<path d="M76.4 241.26 L76.4 246.96" stroke-width="0.65" fill="none" />
<path d="M80.4 242.56 L80.4 245.56" stroke-width="0.65" fill="none" />
<path d="M80.4 245.56 L85.8 243.5" stroke-width="0.65" fill="none" />
<path d="M79.3 240.25 L79.3 242.25 L83.3 242.65 L83.3 240.85" stroke-width="0.65" fill="#333" />
<path d="M92.52 231.53 L96.17 229.7 L96.17 236.1 L92.52 238.03" stroke-width="0.65" fill="none" />
<path d="M59.8 224.7 L53 224.22 L53 230.82 L58.2 232.34 L59.8 231.3" stroke-width="0.85" fill="#fff" />
<path d="M53 227.42 L57 228.42 L57 232.02 L53 230.82Z" stroke-width="0.65" fill="#d8d8d8" />
<path d="M59.8 245.3 L53 244.62 L53 250.82 L58.6 252.38 L59.8 251.3" stroke-width="0.85" fill="#fff" />
<path d="M53 247.42 L57.6 248.48 L57.6 252.08 L53 250.82Z" stroke-width="0.65" fill="#d8d8d8" />
<path d="M60.8 234 Q52.4 234.76 53.4 239.46 Q54.2 243.74 60.4 245.76" stroke-width="0.85" fill="none" />
<path d="M60.8 235.6 Q54.6 236.18 55.2 239.64 Q55.8 242.7 60.4 244.16" stroke-width="0.65" fill="none" />
<path d="M60.1 234.73 L64 234.12 L66.2 236.74 L66.2 241.94 L63.6 244.28 L60.1 243.13Z" stroke-width="0.65" fill="#d8d8d8" />
<path d="M75.2 257.2 L75.2 250.6 Q75.3 248.8 77.2 249 L98.7 251.9 Q101.6 252.2 101.6 255.2 L101.6 296.2" stroke-width="0.75" fill="#fff" />
<path d="M76.8 251 L97.6 253.6 Q99.6 253.9 99.6 256 L99.6 294.7" stroke-width="0.6" fill="none" />
<path d="M59.8 258.2 L73.3 254 L101.3 256.8 L101.3 291.6 L87.8 295.8 L59.8 293Z" stroke-width="0.85" fill="#fff" />
<path d="M59.8 258.2 L87.8 261 L87.8 295.8 L59.8 293Z" stroke-width="0.85" fill="none" />
<path d="M87.8 261 L101.3 256.8" stroke-width="0.85" fill="none" />
<path d="M91.17 259.95 L91.17 294.75" stroke-width="0.65" fill="none" />
<path d="M65.4 258.76 L65.4 293.56" stroke-width="0.85" fill="none" />
<path d="M65.4 258.76 L76.87 255.19" stroke-width="0.65" fill="none" />
<path d="M67.4 262.56 L85.8 264.4" stroke-width="0.65" fill="none" />
<path d="M85.8 264.4 L85.8 276.8" stroke-width="0.65" fill="none" />
<path d="M67.4 276.16 L85.8 270.6" stroke-width="0.85" fill="none" />
<path d="M67.9 278.01 L79.4 274.76" stroke-width="0.65" fill="none" />
<path d="M76.4 264.96 L76.4 270.66" stroke-width="0.65" fill="none" />
<path d="M80.4 266.26 L80.4 269.26" stroke-width="0.65" fill="none" />
<path d="M80.4 269.26 L85.8 267.2" stroke-width="0.65" fill="none" />
<path d="M79.3 263.95 L79.3 265.95 L83.3 266.35 L83.3 264.55" stroke-width="0.65" fill="#333" />
<path d="M67.4 278.36 L85.8 280.2" stroke-width="0.65" fill="none" />
<path d="M85.8 280.2 L85.8 292.6" stroke-width="0.65" fill="none" />
<path d="M67.4 291.96 L85.8 286.4" stroke-width="0.85" fill="none" />
<path d="M67.9 293.81 L79.4 290.56" stroke-width="0.65" fill="none" />
<path d="M76.4 280.76 L76.4 286.46" stroke-width="0.65" fill="none" />
<path d="M80.4 282.06 L80.4 285.06" stroke-width="0.65" fill="none" />
<path d="M80.4 285.06 L85.8 283" stroke-width="0.65" fill="none" />
<path d="M79.3 279.75 L79.3 281.75 L83.3 282.15 L83.3 280.35" stroke-width="0.65" fill="#333" />
<path d="M92.52 271.03 L96.17 269.2 L96.17 275.6 L92.52 277.53" stroke-width="0.65" fill="none" />
<path d="M59.8 264.2 L53 263.72 L53 270.32 L58.2 271.84 L59.8 270.8" stroke-width="0.85" fill="#fff" />
<path d="M53 266.92 L57 267.92 L57 271.52 L53 270.32Z" stroke-width="0.65" fill="#d8d8d8" />
<path d="M59.8 284.8 L53 284.12 L53 290.32 L58.6 291.88 L59.8 290.8" stroke-width="0.85" fill="#fff" />
<path d="M53 286.92 L57.6 287.98 L57.6 291.58 L53 290.32Z" stroke-width="0.65" fill="#d8d8d8" />
<path d="M60.8 273.5 Q52.4 274.26 53.4 278.96 Q54.2 283.24 60.4 285.26" stroke-width="0.85" fill="none" />
<path d="M60.8 275.1 Q54.6 275.68 55.2 279.14 Q55.8 282.2 60.4 283.66" stroke-width="0.65" fill="none" />
<path d="M60.1 274.23 L64 273.62 L66.2 276.24 L66.2 281.44 L63.6 283.78 L60.1 282.63Z" stroke-width="0.65" fill="#d8d8d8" />
<path d="M588 41.6 L722.6 34.9 L726.3 37.2" stroke-width="1.25" fill="none" />
<path d="M588 43.8 L724 36.2" stroke-width="0.8" fill="none" />
<path d="M588 46.8 L727 38.4" stroke-width="0.8" fill="none" />
<path d="M588 50.8 L726.3 37.9 L761.6 34.9 Q763.6 34.9 764.6 36.8 L766.6 41.2 Q767.2 42.4 767.2 44 L762.5 237 L761.3 254.5 Q761.2 256 760 257 L756 260.5 Q755 261.4 753.5 262 L588 327.6Z" stroke-width="1.25" fill="#fff" />
<path d="M588 53 L726.3 39.6 L760 36.6" stroke-width="0.8" fill="none" />
<path d="M588 324.4 L752 259.6" stroke-width="0.8" fill="none" />
<ellipse cx="750.2" cy="52.1" rx="5.7" ry="8.2" stroke-width="0.7" fill="#fff" transform="rotate(12 750.2 52.1)"/>
<ellipse cx="752" cy="52.1" rx="3.4" ry="5.6" stroke-width="0.7" fill="none" transform="rotate(12 752 52.1)"/>
<ellipse cx="752.8" cy="52.3" rx="2.6" ry="4.6" stroke-width="0.5" fill="none" transform="rotate(12 752.8 52.3)"/>
<path d="M604 64.4 L613.9 63.3 L613.9 74.72 L604 76Z" stroke-width="0.7" fill="#fff" />
<path d="M604.6 64.4 L613.4 63.4" stroke-width="1.5" fill="none" />
<path d="M619.8 65.2 L632 62.4 L648 63.6 L648 67.6 L641.5 68.6 L641.5 73 L652.5 74.4 L652.5 77.6 L640 80.2 L621.5 78.4 L621.5 74.8 L619.8 74.4Z" stroke-width="0.7" fill="#fff" />
<path d="M619.8 65.2 L634 66.6 L648 63.6 M634 66.6 L634 70.2 L641.5 68.6 M634 70.2 L634 75 L640 75.6 L640 80.2 M640 75.6 L652.5 74.4 M621.5 74.8 L621.5 68.5 L619.8 68" stroke-width="0.6" fill="none" />
<path d="M671.3 59 L688.1 57.08 L688.1 83.65 L671.3 86.4Z" stroke-width="0.7" fill="#fff" />
<path d="M672.7 60.04 L672.7 86" stroke-width="0.5" fill="none" />
<path d="M709.6 54.6 L725.7 52.76 L725.7 79.5 L709.6 82.2Z" stroke-width="0.7" fill="#fff" />
<path d="M711 55.64 L711 81.8" stroke-width="0.5" fill="none" />
<path d="M671.3 97.6 L687.6 94.61 L687.6 121.21 L671.3 125Z" stroke-width="0.7" fill="#fff" />
<path d="M672.7 98.54 L672.7 124.6" stroke-width="0.5" fill="none" />
<path d="M709.6 91.4 L725.7 88.42 L725.7 114.78 L709.6 118.6Z" stroke-width="0.7" fill="#fff" />
<path d="M711 92.34 L711 118.2" stroke-width="0.5" fill="none" />
<rect x="740.4" y="67.6" width="6" height="3.4" rx="1.7" transform="rotate(-8.68 743.4 69.3)" stroke-width="0.6" fill="#fff"/>
<path d="M759.9 70.4 L765.3 69.53 L765.3 75.46 L759.9 76.4Z" stroke-width="0.6" fill="#fff" />
<rect x="733.4" y="79" width="2.6" height="5" rx="2.5" transform="rotate(-9.91 734.7 81.5)" stroke-width="0.6" fill="#fff"/>
<rect x="746.7" y="81.3" width="3.4" height="2" rx="1" transform="rotate(-10.27 748.4 82.3)" stroke-width="0.6" fill="#fff"/>
<rect x="753.7" y="80.5" width="3.4" height="2" rx="1" transform="rotate(-10.33 755.4 81.5)" stroke-width="0.6" fill="#fff"/>
<rect x="756.3" y="83.2" width="3.4" height="2" rx="1" transform="rotate(-10.7 758 84.2)" stroke-width="0.6" fill="#fff"/>
<path d="M733.9 91.7 L737.3 91.04 L737.3 95.61 L733.9 96.3Z" stroke-width="0.6" fill="#fff" />
<path d="M735.1 92.3 L738.5 91.63 L738.5 96.2 L735.1 96.9Z" stroke-width="0.6" fill="#fff" />
<path d="M748 99 L751.6 98.22 L751.6 102.19 L748 103Z" stroke-width="0.6" fill="#fff" />
<path d="M749.2 99.6 L752.8 98.82 L752.8 102.79 L749.2 103.6Z" stroke-width="0.6" fill="#fff" />
<path d="M756.8 97.7 L760.4 96.92 L760.4 100.89 L756.8 101.7Z" stroke-width="0.6" fill="#fff" />
<path d="M758 98.3 L761.6 97.51 L761.6 101.48 L758 102.3Z" stroke-width="0.6" fill="#fff" />
<path d="M588 102 L628.5 97 Q631.2 96.8 631.2 99.6 L631.2 134.8 Q631.2 137.3 629 138.1 L588 144.9" stroke-width="0.7" fill="#fff" />
<path d="M588 104.6 L629 99.4" stroke-width="0.5" fill="none" />
<ellipse cx="595" cy="112" rx="1.25" ry="2.2" stroke-width="0.75" fill="none" transform="rotate(8 595 112)"/>
<ellipse cx="607.95" cy="110" rx="1.25" ry="2.2" stroke-width="0.75" fill="none" transform="rotate(8 607.95 110)"/>
<ellipse cx="620.9" cy="108" rx="1.25" ry="2.2" stroke-width="0.75" fill="none" transform="rotate(8 620.9 108)"/>
<ellipse cx="601.5" cy="121.2" rx="1.25" ry="2.2" stroke-width="0.75" fill="none" transform="rotate(8 601.5 121.2)"/>
<ellipse cx="614.45" cy="119.2" rx="1.25" ry="2.2" stroke-width="0.75" fill="none" transform="rotate(8 614.45 119.2)"/>
<ellipse cx="627.4" cy="117.2" rx="1.25" ry="2.2" stroke-width="0.75" fill="none" transform="rotate(8 627.4 117.2)"/>
<ellipse cx="595" cy="134.8" rx="1.25" ry="2.2" stroke-width="0.75" fill="none" transform="rotate(8 595 134.8)"/>
<ellipse cx="607.95" cy="132.8" rx="1.25" ry="2.2" stroke-width="0.75" fill="none" transform="rotate(8 607.95 132.8)"/>
<ellipse cx="620.9" cy="130.8" rx="1.25" ry="2.2" stroke-width="0.75" fill="none" transform="rotate(8 620.9 130.8)"/>
<path d="M588 157.2 L628.5 152.2 Q631.2 152 631.2 154.8 L631.2 190.3 Q631.2 192.8 629 193.6 L588 200.4" stroke-width="0.7" fill="#fff" />
<path d="M588 159.8 L629 154.6" stroke-width="0.5" fill="none" />
<ellipse cx="595" cy="167.2" rx="1.25" ry="2.2" stroke-width="0.75" fill="none" transform="rotate(8 595 167.2)"/>
<ellipse cx="607.95" cy="165.2" rx="1.25" ry="2.2" stroke-width="0.75" fill="none" transform="rotate(8 607.95 165.2)"/>
<ellipse cx="620.9" cy="163.2" rx="1.25" ry="2.2" stroke-width="0.75" fill="none" transform="rotate(8 620.9 163.2)"/>
<ellipse cx="601.5" cy="176.4" rx="1.25" ry="2.2" stroke-width="0.75" fill="none" transform="rotate(8 601.5 176.4)"/>
<ellipse cx="614.45" cy="174.4" rx="1.25" ry="2.2" stroke-width="0.75" fill="none" transform="rotate(8 614.45 174.4)"/>
<ellipse cx="627.4" cy="172.4" rx="1.25" ry="2.2" stroke-width="0.75" fill="none" transform="rotate(8 627.4 172.4)"/>
<ellipse cx="595" cy="190" rx="1.25" ry="2.2" stroke-width="0.75" fill="none" transform="rotate(8 595 190)"/>
<ellipse cx="607.95" cy="188" rx="1.25" ry="2.2" stroke-width="0.75" fill="none" transform="rotate(8 607.95 188)"/>
<ellipse cx="620.9" cy="186" rx="1.25" ry="2.2" stroke-width="0.75" fill="none" transform="rotate(8 620.9 186)"/>
<path d="M588 209.8 L628.5 204.8 Q631.2 204.6 631.2 207.4 L631.2 242.6 Q631.2 245.1 629 245.9 L588 252.7" stroke-width="0.7" fill="#fff" />
<path d="M588 212.4 L629 207.2" stroke-width="0.5" fill="none" />
<ellipse cx="595" cy="219.8" rx="1.25" ry="2.2" stroke-width="0.75" fill="none" transform="rotate(8 595 219.8)"/>
<ellipse cx="607.95" cy="217.8" rx="1.25" ry="2.2" stroke-width="0.75" fill="none" transform="rotate(8 607.95 217.8)"/>
<ellipse cx="620.9" cy="215.8" rx="1.25" ry="2.2" stroke-width="0.75" fill="none" transform="rotate(8 620.9 215.8)"/>
<ellipse cx="601.5" cy="229" rx="1.25" ry="2.2" stroke-width="0.75" fill="none" transform="rotate(8 601.5 229)"/>
<ellipse cx="614.45" cy="227" rx="1.25" ry="2.2" stroke-width="0.75" fill="none" transform="rotate(8 614.45 227)"/>
<ellipse cx="627.4" cy="225" rx="1.25" ry="2.2" stroke-width="0.75" fill="none" transform="rotate(8 627.4 225)"/>
<ellipse cx="595" cy="242.6" rx="1.25" ry="2.2" stroke-width="0.75" fill="none" transform="rotate(8 595 242.6)"/>
<ellipse cx="607.95" cy="240.6" rx="1.25" ry="2.2" stroke-width="0.75" fill="none" transform="rotate(8 607.95 240.6)"/>
<ellipse cx="620.9" cy="238.6" rx="1.25" ry="2.2" stroke-width="0.75" fill="none" transform="rotate(8 620.9 238.6)"/>
<path d="M588 261.1 L628.5 256.1 Q631.2 255.9 631.2 258.7 L631.2 296.5 Q631.2 299 629 299.8 L588 306.6" stroke-width="0.7" fill="#fff" />
<path d="M588 263.7 L629 258.5" stroke-width="0.5" fill="none" />
<ellipse cx="595" cy="271.1" rx="1.25" ry="2.2" stroke-width="0.75" fill="none" transform="rotate(8 595 271.1)"/>
<ellipse cx="607.95" cy="269.1" rx="1.25" ry="2.2" stroke-width="0.75" fill="none" transform="rotate(8 607.95 269.1)"/>
<ellipse cx="620.9" cy="267.1" rx="1.25" ry="2.2" stroke-width="0.75" fill="none" transform="rotate(8 620.9 267.1)"/>
<ellipse cx="601.5" cy="280.3" rx="1.25" ry="2.2" stroke-width="0.75" fill="none" transform="rotate(8 601.5 280.3)"/>
<ellipse cx="614.45" cy="278.3" rx="1.25" ry="2.2" stroke-width="0.75" fill="none" transform="rotate(8 614.45 278.3)"/>
<ellipse cx="627.4" cy="276.3" rx="1.25" ry="2.2" stroke-width="0.75" fill="none" transform="rotate(8 627.4 276.3)"/>
<ellipse cx="595" cy="293.9" rx="1.25" ry="2.2" stroke-width="0.75" fill="none" transform="rotate(8 595 293.9)"/>
<ellipse cx="607.95" cy="291.9" rx="1.25" ry="2.2" stroke-width="0.75" fill="none" transform="rotate(8 607.95 291.9)"/>
<ellipse cx="620.9" cy="289.9" rx="1.25" ry="2.2" stroke-width="0.75" fill="none" transform="rotate(8 620.9 289.9)"/>
<path d="M633.4 105 L640.6 103.67 L640.6 115.92 L633.4 117.4Z" stroke-width="0.7" fill="#fff" />
<path d="M634 104.6 L640 103.4" stroke-width="1.5" fill="none" />
<path d="M646.7 208.8 L666.3 201.62 L666.3 237.18 L646.7 245.6Z" stroke-width="0.7" fill="#fff" />
<path d="M648.1 209.49 L648.1 245.2" stroke-width="0.5" fill="none" />
<path d="M646.7 258.8 L666.7 249.75 L666.7 285.1 L646.7 295.4Z" stroke-width="0.7" fill="#fff" />
<path d="M648.1 259.37 L648.1 295" stroke-width="0.5" fill="none" />
<path d="M673.5 135.7 L677.7 134.64 L677.7 137.81 L673.5 138.9Z" stroke-width="0.6" fill="#fff" />
<path d="M674.7 136.3 L678.9 135.23 L678.9 138.41 L674.7 139.5Z" stroke-width="0.6" fill="#fff" />
<path d="M671.2 157.3 L674.8 156.25 L674.8 161.22 L671.2 162.3Z" stroke-width="0.6" fill="#fff" />
<path d="M672.4 157.9 L676 156.85 L676 161.82 L672.4 162.9Z" stroke-width="0.6" fill="#fff" />
<path d="M669.8 172.3 L673.4 171.16 L673.4 176.13 L669.8 177.3Z" stroke-width="0.6" fill="#fff" />
<path d="M671 172.9 L674.6 171.75 L674.6 176.72 L671 177.9Z" stroke-width="0.6" fill="#fff" />
<path d="M682.6 169.7 L686.2 168.55 L686.2 173.52 L682.6 174.7Z" stroke-width="0.6" fill="#fff" />
<path d="M683.8 170.3 L687.4 169.14 L687.4 174.11 L683.8 175.3Z" stroke-width="0.6" fill="#fff" />
<path d="M635.8 163.5 L639.8 162.37 L639.8 165.35 L635.8 166.5Z" stroke-width="0.6" fill="#fff" />
<path d="M637 164.1 L641 162.96 L641 165.94 L637 167.1Z" stroke-width="0.6" fill="#fff" />
<path d="M648.5 177.6 L655.3 175.46 L655.3 190.88 L648.5 193.2Z" stroke-width="0.7" fill="#fff" />
<path d="M670.1 205.2 L673.5 203.92 L673.5 208.69 L670.1 210Z" stroke-width="0.6" fill="#fff" />
<path d="M671.3 205.8 L674.7 204.52 L674.7 209.29 L671.3 210.6Z" stroke-width="0.6" fill="#fff" />
<path d="M683 232.6 L686.8 230.95 L686.8 234.52 L683 236.2Z" stroke-width="0.6" fill="#fff" />
<rect x="683.3" y="242.9" width="3" height="1.8" rx="0.9" transform="rotate(-24.53 684.8 243.8)" stroke-width="0.6" fill="#fff"/>
<rect x="690" y="241.6" width="3" height="1.8" rx="0.9" transform="rotate(-24.68 691.5 242.5)" stroke-width="0.6" fill="#fff"/>
<path d="M678.6 262.5 L682.2 260.75 L682.2 267.71 L678.6 269.5Z" stroke-width="0.6" fill="#fff" />
<path d="M679.8 263.1 L683.4 261.35 L683.4 268.3 L679.8 270.1Z" stroke-width="0.6" fill="#fff" />
<path d="M678.9 274 L682.7 272.08 L682.7 279.62 L678.9 281.6Z" stroke-width="0.6" fill="#fff" />
<path d="M680.1 274.6 L683.9 272.67 L683.9 280.22 L680.1 282.2Z" stroke-width="0.6" fill="#fff" />
<rect x="693.5" y="264.6" width="2.6" height="3.4" rx="1.7" transform="rotate(-26.88 694.8 266.3)" stroke-width="0.6" fill="#fff"/>
<path d="M689.6 273.5 L692 272.26 L692 275.25 L689.6 276.5Z" stroke-width="0.6" fill="#fff" />
<path d="M690.8 274.1 L693.2 272.86 L693.2 275.84 L690.8 277.1Z" stroke-width="0.6" fill="#fff" />
<path d="M692.6 272.3 L695 271.06 L695 274.05 L692.6 275.3Z" stroke-width="0.6" fill="#fff" />
<path d="M693.8 272.9 L696.2 271.66 L696.2 274.64 L693.8 275.9Z" stroke-width="0.6" fill="#fff" />
<path d="M719.8 252.5 L719.8 262.8 L740.2 256.4" stroke-width="0.7" fill="none" />
<ellipse cx="746.2" cy="251.7" rx="6.2" ry="8.4" stroke-width="0.7" fill="#fff" transform="rotate(10 746.2 251.7)"/>
<ellipse cx="748" cy="251.9" rx="4.6" ry="6.4" stroke-width="0.7" fill="#fff" transform="rotate(10 748 251.9)"/>
<ellipse cx="748.8" cy="252" rx="3.6" ry="5.2" stroke-width="0.5" fill="none" transform="rotate(10 748.8 252)"/>
<path d="M694.9 125 L761 110 L775 108 L775 232 L735 247 L707.5 252.2 L696.5 249.6 Q694.9 249 694.9 247Z" stroke-width="0.7" fill="#fff" />
<path d="M773.7 110.8 L777.7 109.9 L777.7 115.3 L773.7 116.2Z" stroke-width="0.7" fill="#fff" />
<path d="M773.7 114.7 L777.7 113.8" stroke-width="0.7" fill="none" />
<path d="M769.15 111.9 L773.15 111 L773.15 116.4 L769.15 117.3Z" stroke-width="0.7" fill="#fff" />
<path d="M769.15 115.8 L773.15 114.9" stroke-width="0.7" fill="none" />
<path d="M764.6 113 L768.6 112.1 L768.6 117.5 L764.6 118.4Z" stroke-width="0.7" fill="#fff" />
<path d="M764.6 116.9 L768.6 116" stroke-width="0.7" fill="none" />
<path d="M760.05 114.1 L764.05 113.2 L764.05 118.6 L760.05 119.5Z" stroke-width="0.7" fill="#fff" />
<path d="M760.05 118 L764.05 117.1" stroke-width="0.7" fill="none" />
<path d="M755.5 115.2 L759.5 114.3 L759.5 119.7 L755.5 120.6Z" stroke-width="0.7" fill="#fff" />
<path d="M755.5 119.1 L759.5 118.2" stroke-width="0.7" fill="none" />
<path d="M750.95 116.3 L754.95 115.4 L754.95 120.8 L750.95 121.7Z" stroke-width="0.7" fill="#fff" />
<path d="M750.95 120.2 L754.95 119.3" stroke-width="0.7" fill="none" />
<path d="M746.4 117.4 L750.4 116.5 L750.4 121.9 L746.4 122.8Z" stroke-width="0.7" fill="#fff" />
<path d="M746.4 121.3 L750.4 120.4" stroke-width="0.7" fill="none" />
<path d="M741.85 118.5 L745.85 117.6 L745.85 123 L741.85 123.9Z" stroke-width="0.7" fill="#fff" />
<path d="M741.85 122.4 L745.85 121.5" stroke-width="0.7" fill="none" />
<path d="M737.3 119.6 L741.3 118.7 L741.3 124.1 L737.3 125Z" stroke-width="0.7" fill="#fff" />
<path d="M737.3 123.5 L741.3 122.6" stroke-width="0.7" fill="none" />
<path d="M732.75 120.7 L736.75 119.8 L736.75 125.2 L732.75 126.1Z" stroke-width="0.7" fill="#fff" />
<path d="M732.75 124.6 L736.75 123.7" stroke-width="0.7" fill="none" />
<path d="M728.2 121.8 L732.2 120.9 L732.2 126.3 L728.2 127.2Z" stroke-width="0.7" fill="#fff" />
<path d="M728.2 125.7 L732.2 124.8" stroke-width="0.7" fill="none" />
<path d="M723.65 122.9 L727.65 122 L727.65 127.4 L723.65 128.3Z" stroke-width="0.7" fill="#fff" />
<path d="M723.65 126.8 L727.65 125.9" stroke-width="0.7" fill="none" />
<path d="M719.1 124 L723.1 123.1 L723.1 128.5 L719.1 129.4Z" stroke-width="0.7" fill="#fff" />
<path d="M719.1 127.9 L723.1 127" stroke-width="0.7" fill="none" />
<path d="M714.55 125.1 L705.25 124.1 L702.25 129.5 L714.55 130.5" stroke-width="0" fill="#fff" stroke="none"/>
<path d="M714.55 125.1 L705.25 124.1" stroke-width="0.7" fill="none" />
<path d="M714.55 130.5 L702.25 129.5" stroke-width="0.7" fill="none" />
<path d="M714.55 129 L708.55 128.4" stroke-width="0.5" fill="none" />
<path d="M714.55 125.1 L718.55 124.2 L718.55 129.6 L714.55 130.5Z" stroke-width="0.7" fill="#fff" />
<path d="M714.55 129 L718.55 128.1" stroke-width="0.7" fill="none" />
<path d="M773.7 119.42 L777.7 118.52 L777.7 123.92 L773.7 124.82Z" stroke-width="0.7" fill="#fff" />
<path d="M773.7 123.32 L777.7 122.42" stroke-width="0.7" fill="none" />
<path d="M769.15 120.52 L773.15 119.62 L773.15 125.02 L769.15 125.92Z" stroke-width="0.7" fill="#fff" />
<path d="M769.15 124.42 L773.15 123.52" stroke-width="0.7" fill="none" />
<path d="M764.6 121.62 L768.6 120.72 L768.6 126.12 L764.6 127.02Z" stroke-width="0.7" fill="#fff" />
<path d="M764.6 125.52 L768.6 124.62" stroke-width="0.7" fill="none" />
<path d="M760.05 122.72 L764.05 121.82 L764.05 127.22 L760.05 128.12Z" stroke-width="0.7" fill="#fff" />
<path d="M760.05 126.62 L764.05 125.72" stroke-width="0.7" fill="none" />
<path d="M755.5 123.82 L759.5 122.92 L759.5 128.32 L755.5 129.22Z" stroke-width="0.7" fill="#fff" />
<path d="M755.5 127.72 L759.5 126.82" stroke-width="0.7" fill="none" />
<path d="M750.95 124.92 L754.95 124.02 L754.95 129.42 L750.95 130.32Z" stroke-width="0.7" fill="#fff" />
<path d="M750.95 128.82 L754.95 127.92" stroke-width="0.7" fill="none" />
<path d="M746.4 126.02 L750.4 125.12 L750.4 130.52 L746.4 131.42Z" stroke-width="0.7" fill="#fff" />
<path d="M746.4 129.92 L750.4 129.02" stroke-width="0.7" fill="none" />
<path d="M741.85 127.12 L745.85 126.22 L745.85 131.62 L741.85 132.52Z" stroke-width="0.7" fill="#fff" />
<path d="M741.85 131.02 L745.85 130.12" stroke-width="0.7" fill="none" />
<path d="M737.3 128.22 L741.3 127.32 L741.3 132.72 L737.3 133.62Z" stroke-width="0.7" fill="#fff" />
<path d="M737.3 132.12 L741.3 131.22" stroke-width="0.7" fill="none" />
<path d="M732.75 129.32 L736.75 128.42 L736.75 133.82 L732.75 134.72Z" stroke-width="0.7" fill="#fff" />
<path d="M732.75 133.22 L736.75 132.32" stroke-width="0.7" fill="none" />
<path d="M728.2 130.42 L732.2 129.52 L732.2 134.92 L728.2 135.82Z" stroke-width="0.7" fill="#fff" />
<path d="M728.2 134.32 L732.2 133.42" stroke-width="0.7" fill="none" />
<path d="M723.65 131.52 L727.65 130.62 L727.65 136.02 L723.65 136.92Z" stroke-width="0.7" fill="#fff" />
<path d="M723.65 135.42 L727.65 134.52" stroke-width="0.7" fill="none" />
<path d="M719.1 132.62 L723.1 131.72 L723.1 137.12 L719.1 138.02Z" stroke-width="0.7" fill="#fff" />
<path d="M719.1 136.52 L723.1 135.62" stroke-width="0.7" fill="none" />
<path d="M714.55 133.72 L705.25 132.72 L702.25 138.12 L714.55 139.12" stroke-width="0" fill="#fff" stroke="none"/>
<path d="M714.55 133.72 L705.25 132.72" stroke-width="0.7" fill="none" />
<path d="M714.55 139.12 L702.25 138.12" stroke-width="0.7" fill="none" />
<path d="M714.55 137.62 L708.55 137.02" stroke-width="0.5" fill="none" />
<path d="M714.55 133.72 L718.55 132.82 L718.55 138.22 L714.55 139.12Z" stroke-width="0.7" fill="#fff" />
<path d="M714.55 137.62 L718.55 136.72" stroke-width="0.7" fill="none" />
<path d="M773.7 128.04 L777.7 127.14 L777.7 132.54 L773.7 133.44Z" stroke-width="0.7" fill="#fff" />
<path d="M773.7 131.94 L777.7 131.04" stroke-width="0.7" fill="none" />
<path d="M769.15 129.14 L773.15 128.24 L773.15 133.64 L769.15 134.54Z" stroke-width="0.7" fill="#fff" />
<path d="M769.15 133.04 L773.15 132.14" stroke-width="0.7" fill="none" />
<path d="M764.6 130.24 L768.6 129.34 L768.6 134.74 L764.6 135.64Z" stroke-width="0.7" fill="#fff" />
<path d="M764.6 134.14 L768.6 133.24" stroke-width="0.7" fill="none" />
<path d="M760.05 131.34 L764.05 130.44 L764.05 135.84 L760.05 136.74Z" stroke-width="0.7" fill="#fff" />
<path d="M760.05 135.24 L764.05 134.34" stroke-width="0.7" fill="none" />
<path d="M755.5 132.44 L759.5 131.54 L759.5 136.94 L755.5 137.84Z" stroke-width="0.7" fill="#fff" />
<path d="M755.5 136.34 L759.5 135.44" stroke-width="0.7" fill="none" />
<path d="M750.95 133.54 L754.95 132.64 L754.95 138.04 L750.95 138.94Z" stroke-width="0.7" fill="#fff" />
<path d="M750.95 137.44 L754.95 136.54" stroke-width="0.7" fill="none" />
<path d="M746.4 134.64 L750.4 133.74 L750.4 139.14 L746.4 140.04Z" stroke-width="0.7" fill="#fff" />
<path d="M746.4 138.54 L750.4 137.64" stroke-width="0.7" fill="none" />
<path d="M741.85 135.74 L745.85 134.84 L745.85 140.24 L741.85 141.14Z" stroke-width="0.7" fill="#fff" />
<path d="M741.85 139.64 L745.85 138.74" stroke-width="0.7" fill="none" />
<path d="M737.3 136.84 L741.3 135.94 L741.3 141.34 L737.3 142.24Z" stroke-width="0.7" fill="#fff" />
<path d="M737.3 140.74 L741.3 139.84" stroke-width="0.7" fill="none" />
<path d="M732.75 137.94 L736.75 137.04 L736.75 142.44 L732.75 143.34Z" stroke-width="0.7" fill="#fff" />
<path d="M732.75 141.84 L736.75 140.94" stroke-width="0.7" fill="none" />
<path d="M728.2 139.04 L732.2 138.14 L732.2 143.54 L728.2 144.44Z" stroke-width="0.7" fill="#fff" />
<path d="M728.2 142.94 L732.2 142.04" stroke-width="0.7" fill="none" />
<path d="M723.65 140.14 L727.65 139.24 L727.65 144.64 L723.65 145.54Z" stroke-width="0.7" fill="#fff" />
<path d="M723.65 144.04 L727.65 143.14" stroke-width="0.7" fill="none" />
<path d="M719.1 141.24 L723.1 140.34 L723.1 145.74 L719.1 146.64Z" stroke-width="0.7" fill="#fff" />
<path d="M719.1 145.14 L723.1 144.24" stroke-width="0.7" fill="none" />
<path d="M714.55 142.34 L705.25 141.34 L702.25 146.74 L714.55 147.74" stroke-width="0" fill="#fff" stroke="none"/>
<path d="M714.55 142.34 L705.25 141.34" stroke-width="0.7" fill="none" />
<path d="M714.55 147.74 L702.25 146.74" stroke-width="0.7" fill="none" />
<path d="M714.55 146.24 L708.55 145.64" stroke-width="0.5" fill="none" />
<path d="M714.55 142.34 L718.55 141.44 L718.55 146.84 L714.55 147.74Z" stroke-width="0.7" fill="#fff" />
<path d="M714.55 146.24 L718.55 145.34" stroke-width="0.7" fill="none" />
<path d="M773.7 136.66 L777.7 135.76 L777.7 141.16 L773.7 142.06Z" stroke-width="0.7" fill="#fff" />
<path d="M773.7 140.56 L777.7 139.66" stroke-width="0.7" fill="none" />
<path d="M769.15 137.76 L773.15 136.86 L773.15 142.26 L769.15 143.16Z" stroke-width="0.7" fill="#fff" />
<path d="M769.15 141.66 L773.15 140.76" stroke-width="0.7" fill="none" />
<path d="M764.6 138.86 L768.6 137.96 L768.6 143.36 L764.6 144.26Z" stroke-width="0.7" fill="#fff" />
<path d="M764.6 142.76 L768.6 141.86" stroke-width="0.7" fill="none" />
<path d="M760.05 139.96 L764.05 139.06 L764.05 144.46 L760.05 145.36Z" stroke-width="0.7" fill="#fff" />
<path d="M760.05 143.86 L764.05 142.96" stroke-width="0.7" fill="none" />
<path d="M755.5 141.06 L759.5 140.16 L759.5 145.56 L755.5 146.46Z" stroke-width="0.7" fill="#fff" />
<path d="M755.5 144.96 L759.5 144.06" stroke-width="0.7" fill="none" />
<path d="M750.95 142.16 L754.95 141.26 L754.95 146.66 L750.95 147.56Z" stroke-width="0.7" fill="#fff" />
<path d="M750.95 146.06 L754.95 145.16" stroke-width="0.7" fill="none" />
<path d="M746.4 143.26 L750.4 142.36 L750.4 147.76 L746.4 148.66Z" stroke-width="0.7" fill="#fff" />
<path d="M746.4 147.16 L750.4 146.26" stroke-width="0.7" fill="none" />
<path d="M741.85 144.36 L745.85 143.46 L745.85 148.86 L741.85 149.76Z" stroke-width="0.7" fill="#fff" />
<path d="M741.85 148.26 L745.85 147.36" stroke-width="0.7" fill="none" />
<path d="M737.3 145.46 L741.3 144.56 L741.3 149.96 L737.3 150.86Z" stroke-width="0.7" fill="#fff" />
<path d="M737.3 149.36 L741.3 148.46" stroke-width="0.7" fill="none" />
<path d="M732.75 146.56 L736.75 145.66 L736.75 151.06 L732.75 151.96Z" stroke-width="0.7" fill="#fff" />
<path d="M732.75 150.46 L736.75 149.56" stroke-width="0.7" fill="none" />
<path d="M728.2 147.66 L732.2 146.76 L732.2 152.16 L728.2 153.06Z" stroke-width="0.7" fill="#fff" />
<path d="M728.2 151.56 L732.2 150.66" stroke-width="0.7" fill="none" />
<path d="M723.65 148.76 L727.65 147.86 L727.65 153.26 L723.65 154.16Z" stroke-width="0.7" fill="#fff" />
<path d="M723.65 152.66 L727.65 151.76" stroke-width="0.7" fill="none" />
<path d="M719.1 149.86 L723.1 148.96 L723.1 154.36 L719.1 155.26Z" stroke-width="0.7" fill="#fff" />
<path d="M719.1 153.76 L723.1 152.86" stroke-width="0.7" fill="none" />
<path d="M714.55 150.96 L705.25 149.96 L702.25 155.36 L714.55 156.36" stroke-width="0" fill="#fff" stroke="none"/>
<path d="M714.55 150.96 L705.25 149.96" stroke-width="0.7" fill="none" />
<path d="M714.55 156.36 L702.25 155.36" stroke-width="0.7" fill="none" />
<path d="M714.55 154.86 L708.55 154.26" stroke-width="0.5" fill="none" />
<path d="M714.55 150.96 L718.55 150.06 L718.55 155.46 L714.55 156.36Z" stroke-width="0.7" fill="#fff" />
<path d="M714.55 154.86 L718.55 153.96" stroke-width="0.7" fill="none" />
<path d="M773.7 145.28 L777.7 144.38 L777.7 149.78 L773.7 150.68Z" stroke-width="0.7" fill="#fff" />
<path d="M773.7 149.18 L777.7 148.28" stroke-width="0.7" fill="none" />
<path d="M769.15 146.38 L773.15 145.48 L773.15 150.88 L769.15 151.78Z" stroke-width="0.7" fill="#fff" />
<path d="M769.15 150.28 L773.15 149.38" stroke-width="0.7" fill="none" />
<path d="M764.6 147.48 L768.6 146.58 L768.6 151.98 L764.6 152.88Z" stroke-width="0.7" fill="#fff" />
<path d="M764.6 151.38 L768.6 150.48" stroke-width="0.7" fill="none" />
<path d="M760.05 148.58 L764.05 147.68 L764.05 153.08 L760.05 153.98Z" stroke-width="0.7" fill="#fff" />
<path d="M760.05 152.48 L764.05 151.58" stroke-width="0.7" fill="none" />
<path d="M755.5 149.68 L759.5 148.78 L759.5 154.18 L755.5 155.08Z" stroke-width="0.7" fill="#fff" />
<path d="M755.5 153.58 L759.5 152.68" stroke-width="0.7" fill="none" />
<path d="M750.95 150.78 L754.95 149.88 L754.95 155.28 L750.95 156.18Z" stroke-width="0.7" fill="#fff" />
<path d="M750.95 154.68 L754.95 153.78" stroke-width="0.7" fill="none" />
<path d="M746.4 151.88 L750.4 150.98 L750.4 156.38 L746.4 157.28Z" stroke-width="0.7" fill="#fff" />
<path d="M746.4 155.78 L750.4 154.88" stroke-width="0.7" fill="none" />
<path d="M741.85 152.98 L745.85 152.08 L745.85 157.48 L741.85 158.38Z" stroke-width="0.7" fill="#fff" />
<path d="M741.85 156.88 L745.85 155.98" stroke-width="0.7" fill="none" />
<path d="M737.3 154.08 L741.3 153.18 L741.3 158.58 L737.3 159.48Z" stroke-width="0.7" fill="#fff" />
<path d="M737.3 157.98 L741.3 157.08" stroke-width="0.7" fill="none" />
<path d="M732.75 155.18 L736.75 154.28 L736.75 159.68 L732.75 160.58Z" stroke-width="0.7" fill="#fff" />
<path d="M732.75 159.08 L736.75 158.18" stroke-width="0.7" fill="none" />
<path d="M728.2 156.28 L732.2 155.38 L732.2 160.78 L728.2 161.68Z" stroke-width="0.7" fill="#fff" />
<path d="M728.2 160.18 L732.2 159.28" stroke-width="0.7" fill="none" />
<path d="M723.65 157.38 L727.65 156.48 L727.65 161.88 L723.65 162.78Z" stroke-width="0.7" fill="#fff" />
<path d="M723.65 161.28 L727.65 160.38" stroke-width="0.7" fill="none" />
<path d="M719.1 158.48 L723.1 157.58 L723.1 162.98 L719.1 163.88Z" stroke-width="0.7" fill="#fff" />
<path d="M719.1 162.38 L723.1 161.48" stroke-width="0.7" fill="none" />
<path d="M714.55 159.58 L705.25 158.58 L702.25 163.98 L714.55 164.98" stroke-width="0" fill="#fff" stroke="none"/>
<path d="M714.55 159.58 L705.25 158.58" stroke-width="0.7" fill="none" />
<path d="M714.55 164.98 L702.25 163.98" stroke-width="0.7" fill="none" />
<path d="M714.55 163.48 L708.55 162.88" stroke-width="0.5" fill="none" />
<path d="M714.55 159.58 L718.55 158.68 L718.55 164.08 L714.55 164.98Z" stroke-width="0.7" fill="#fff" />
<path d="M714.55 163.48 L718.55 162.58" stroke-width="0.7" fill="none" />
<path d="M773.7 153.9 L777.7 153 L777.7 158.4 L773.7 159.3Z" stroke-width="0.7" fill="#fff" />
<path d="M773.7 157.8 L777.7 156.9" stroke-width="0.7" fill="none" />
<path d="M769.15 155 L773.15 154.1 L773.15 159.5 L769.15 160.4Z" stroke-width="0.7" fill="#fff" />
<path d="M769.15 158.9 L773.15 158" stroke-width="0.7" fill="none" />
<path d="M764.6 156.1 L768.6 155.2 L768.6 160.6 L764.6 161.5Z" stroke-width="0.7" fill="#fff" />
<path d="M764.6 160 L768.6 159.1" stroke-width="0.7" fill="none" />
<path d="M760.05 157.2 L764.05 156.3 L764.05 161.7 L760.05 162.6Z" stroke-width="0.7" fill="#fff" />
<path d="M760.05 161.1 L764.05 160.2" stroke-width="0.7" fill="none" />
<path d="M755.5 158.3 L759.5 157.4 L759.5 162.8 L755.5 163.7Z" stroke-width="0.7" fill="#fff" />
<path d="M755.5 162.2 L759.5 161.3" stroke-width="0.7" fill="none" />
<path d="M750.95 159.4 L754.95 158.5 L754.95 163.9 L750.95 164.8Z" stroke-width="0.7" fill="#fff" />
<path d="M750.95 163.3 L754.95 162.4" stroke-width="0.7" fill="none" />
<path d="M746.4 160.5 L750.4 159.6 L750.4 165 L746.4 165.9Z" stroke-width="0.7" fill="#fff" />
<path d="M746.4 164.4 L750.4 163.5" stroke-width="0.7" fill="none" />
<path d="M741.85 161.6 L745.85 160.7 L745.85 166.1 L741.85 167Z" stroke-width="0.7" fill="#fff" />
<path d="M741.85 165.5 L745.85 164.6" stroke-width="0.7" fill="none" />
<path d="M737.3 162.7 L741.3 161.8 L741.3 167.2 L737.3 168.1Z" stroke-width="0.7" fill="#fff" />
<path d="M737.3 166.6 L741.3 165.7" stroke-width="0.7" fill="none" />
<path d="M732.75 163.8 L736.75 162.9 L736.75 168.3 L732.75 169.2Z" stroke-width="0.7" fill="#fff" />
<path d="M732.75 167.7 L736.75 166.8" stroke-width="0.7" fill="none" />
<path d="M728.2 164.9 L732.2 164 L732.2 169.4 L728.2 170.3Z" stroke-width="0.7" fill="#fff" />
<path d="M728.2 168.8 L732.2 167.9" stroke-width="0.7" fill="none" />
<path d="M723.65 166 L727.65 165.1 L727.65 170.5 L723.65 171.4Z" stroke-width="0.7" fill="#fff" />
<path d="M723.65 169.9 L727.65 169" stroke-width="0.7" fill="none" />
<path d="M719.1 167.1 L723.1 166.2 L723.1 171.6 L719.1 172.5Z" stroke-width="0.7" fill="#fff" />
<path d="M719.1 171 L723.1 170.1" stroke-width="0.7" fill="none" />
<path d="M714.55 168.2 L705.25 167.2 L702.25 172.6 L714.55 173.6" stroke-width="0" fill="#fff" stroke="none"/>
<path d="M714.55 168.2 L705.25 167.2" stroke-width="0.7" fill="none" />
<path d="M714.55 173.6 L702.25 172.6" stroke-width="0.7" fill="none" />
<path d="M714.55 172.1 L708.55 171.5" stroke-width="0.5" fill="none" />
<path d="M714.55 168.2 L718.55 167.3 L718.55 172.7 L714.55 173.6Z" stroke-width="0.7" fill="#fff" />
<path d="M714.55 172.1 L718.55 171.2" stroke-width="0.7" fill="none" />
<path d="M773.7 162.52 L777.7 161.62 L777.7 167.02 L773.7 167.92Z" stroke-width="0.7" fill="#fff" />
<path d="M773.7 166.42 L777.7 165.52" stroke-width="0.7" fill="none" />
<path d="M769.15 163.62 L773.15 162.72 L773.15 168.12 L769.15 169.02Z" stroke-width="0.7" fill="#fff" />
<path d="M769.15 167.52 L773.15 166.62" stroke-width="0.7" fill="none" />
<path d="M764.6 164.72 L768.6 163.82 L768.6 169.22 L764.6 170.12Z" stroke-width="0.7" fill="#fff" />
<path d="M764.6 168.62 L768.6 167.72" stroke-width="0.7" fill="none" />
<path d="M760.05 165.82 L764.05 164.92 L764.05 170.32 L760.05 171.22Z" stroke-width="0.7" fill="#fff" />
<path d="M760.05 169.72 L764.05 168.82" stroke-width="0.7" fill="none" />
<path d="M755.5 166.92 L759.5 166.02 L759.5 171.42 L755.5 172.32Z" stroke-width="0.7" fill="#fff" />
<path d="M755.5 170.82 L759.5 169.92" stroke-width="0.7" fill="none" />
<path d="M750.95 168.02 L754.95 167.12 L754.95 172.52 L750.95 173.42Z" stroke-width="0.7" fill="#fff" />
<path d="M750.95 171.92 L754.95 171.02" stroke-width="0.7" fill="none" />
<path d="M746.4 169.12 L750.4 168.22 L750.4 173.62 L746.4 174.52Z" stroke-width="0.7" fill="#fff" />
<path d="M746.4 173.02 L750.4 172.12" stroke-width="0.7" fill="none" />
<path d="M741.85 170.22 L745.85 169.32 L745.85 174.72 L741.85 175.62Z" stroke-width="0.7" fill="#fff" />
<path d="M741.85 174.12 L745.85 173.22" stroke-width="0.7" fill="none" />
<path d="M737.3 171.32 L741.3 170.42 L741.3 175.82 L737.3 176.72Z" stroke-width="0.7" fill="#fff" />
<path d="M737.3 175.22 L741.3 174.32" stroke-width="0.7" fill="none" />
<path d="M732.75 172.42 L736.75 171.52 L736.75 176.92 L732.75 177.82Z" stroke-width="0.7" fill="#fff" />
<path d="M732.75 176.32 L736.75 175.42" stroke-width="0.7" fill="none" />
<path d="M728.2 173.52 L732.2 172.62 L732.2 178.02 L728.2 178.92Z" stroke-width="0.7" fill="#fff" />
<path d="M728.2 177.42 L732.2 176.52" stroke-width="0.7" fill="none" />
<path d="M723.65 174.62 L727.65 173.72 L727.65 179.12 L723.65 180.02Z" stroke-width="0.7" fill="#fff" />
<path d="M723.65 178.52 L727.65 177.62" stroke-width="0.7" fill="none" />
<path d="M719.1 175.72 L723.1 174.82 L723.1 180.22 L719.1 181.12Z" stroke-width="0.7" fill="#fff" />
<path d="M719.1 179.62 L723.1 178.72" stroke-width="0.7" fill="none" />
<path d="M714.55 176.82 L705.25 175.82 L702.25 181.22 L714.55 182.22" stroke-width="0" fill="#fff" stroke="none"/>
<path d="M714.55 176.82 L705.25 175.82" stroke-width="0.7" fill="none" />
<path d="M714.55 182.22 L702.25 181.22" stroke-width="0.7" fill="none" />
<path d="M714.55 180.72 L708.55 180.12" stroke-width="0.5" fill="none" />
<path d="M714.55 176.82 L718.55 175.92 L718.55 181.32 L714.55 182.22Z" stroke-width="0.7" fill="#fff" />
<path d="M714.55 180.72 L718.55 179.82" stroke-width="0.7" fill="none" />
<path d="M773.7 171.14 L777.7 170.24 L777.7 175.64 L773.7 176.54Z" stroke-width="0.7" fill="#fff" />
<path d="M773.7 175.04 L777.7 174.14" stroke-width="0.7" fill="none" />
<path d="M769.15 172.24 L773.15 171.34 L773.15 176.74 L769.15 177.64Z" stroke-width="0.7" fill="#fff" />
<path d="M769.15 176.14 L773.15 175.24" stroke-width="0.7" fill="none" />
<path d="M764.6 173.34 L768.6 172.44 L768.6 177.84 L764.6 178.74Z" stroke-width="0.7" fill="#fff" />
<path d="M764.6 177.24 L768.6 176.34" stroke-width="0.7" fill="none" />
<path d="M760.05 174.44 L764.05 173.54 L764.05 178.94 L760.05 179.84Z" stroke-width="0.7" fill="#fff" />
<path d="M760.05 178.34 L764.05 177.44" stroke-width="0.7" fill="none" />
<path d="M755.5 175.54 L759.5 174.64 L759.5 180.04 L755.5 180.94Z" stroke-width="0.7" fill="#fff" />
<path d="M755.5 179.44 L759.5 178.54" stroke-width="0.7" fill="none" />
<path d="M750.95 176.64 L754.95 175.74 L754.95 181.14 L750.95 182.04Z" stroke-width="0.7" fill="#fff" />
<path d="M750.95 180.54 L754.95 179.64" stroke-width="0.7" fill="none" />
<path d="M746.4 177.74 L750.4 176.84 L750.4 182.24 L746.4 183.14Z" stroke-width="0.7" fill="#fff" />
<path d="M746.4 181.64 L750.4 180.74" stroke-width="0.7" fill="none" />
<path d="M741.85 178.84 L745.85 177.94 L745.85 183.34 L741.85 184.24Z" stroke-width="0.7" fill="#fff" />
<path d="M741.85 182.74 L745.85 181.84" stroke-width="0.7" fill="none" />
<path d="M737.3 179.94 L741.3 179.04 L741.3 184.44 L737.3 185.34Z" stroke-width="0.7" fill="#fff" />
<path d="M737.3 183.84 L741.3 182.94" stroke-width="0.7" fill="none" />
<path d="M732.75 181.04 L736.75 180.14 L736.75 185.54 L732.75 186.44Z" stroke-width="0.7" fill="#fff" />
<path d="M732.75 184.94 L736.75 184.04" stroke-width="0.7" fill="none" />
<path d="M728.2 182.14 L732.2 181.24 L732.2 186.64 L728.2 187.54Z" stroke-width="0.7" fill="#fff" />
<path d="M728.2 186.04 L732.2 185.14" stroke-width="0.7" fill="none" />
<path d="M723.65 183.24 L727.65 182.34 L727.65 187.74 L723.65 188.64Z" stroke-width="0.7" fill="#fff" />
<path d="M723.65 187.14 L727.65 186.24" stroke-width="0.7" fill="none" />
<path d="M719.1 184.34 L723.1 183.44 L723.1 188.84 L719.1 189.74Z" stroke-width="0.7" fill="#fff" />
<path d="M719.1 188.24 L723.1 187.34" stroke-width="0.7" fill="none" />
<path d="M714.55 185.44 L705.25 184.44 L702.25 189.84 L714.55 190.84" stroke-width="0" fill="#fff" stroke="none"/>
<path d="M714.55 185.44 L705.25 184.44" stroke-width="0.7" fill="none" />
<path d="M714.55 190.84 L702.25 189.84" stroke-width="0.7" fill="none" />
<path d="M714.55 189.34 L708.55 188.74" stroke-width="0.5" fill="none" />
<path d="M714.55 185.44 L718.55 184.54 L718.55 189.94 L714.55 190.84Z" stroke-width="0.7" fill="#fff" />
<path d="M714.55 189.34 L718.55 188.44" stroke-width="0.7" fill="none" />
<path d="M773.7 179.76 L777.7 178.86 L777.7 184.26 L773.7 185.16Z" stroke-width="0.7" fill="#fff" />
<path d="M773.7 183.66 L777.7 182.76" stroke-width="0.7" fill="none" />
<path d="M769.15 180.86 L773.15 179.96 L773.15 185.36 L769.15 186.26Z" stroke-width="0.7" fill="#fff" />
<path d="M769.15 184.76 L773.15 183.86" stroke-width="0.7" fill="none" />
<path d="M764.6 181.96 L768.6 181.06 L768.6 186.46 L764.6 187.36Z" stroke-width="0.7" fill="#fff" />
<path d="M764.6 185.86 L768.6 184.96" stroke-width="0.7" fill="none" />
<path d="M760.05 183.06 L764.05 182.16 L764.05 187.56 L760.05 188.46Z" stroke-width="0.7" fill="#fff" />
<path d="M760.05 186.96 L764.05 186.06" stroke-width="0.7" fill="none" />
<path d="M755.5 184.16 L759.5 183.26 L759.5 188.66 L755.5 189.56Z" stroke-width="0.7" fill="#fff" />
<path d="M755.5 188.06 L759.5 187.16" stroke-width="0.7" fill="none" />
<path d="M750.95 185.26 L754.95 184.36 L754.95 189.76 L750.95 190.66Z" stroke-width="0.7" fill="#fff" />
<path d="M750.95 189.16 L754.95 188.26" stroke-width="0.7" fill="none" />
<path d="M746.4 186.36 L750.4 185.46 L750.4 190.86 L746.4 191.76Z" stroke-width="0.7" fill="#fff" />
<path d="M746.4 190.26 L750.4 189.36" stroke-width="0.7" fill="none" />
<path d="M741.85 187.46 L745.85 186.56 L745.85 191.96 L741.85 192.86Z" stroke-width="0.7" fill="#fff" />
<path d="M741.85 191.36 L745.85 190.46" stroke-width="0.7" fill="none" />
<path d="M737.3 188.56 L741.3 187.66 L741.3 193.06 L737.3 193.96Z" stroke-width="0.7" fill="#fff" />
<path d="M737.3 192.46 L741.3 191.56" stroke-width="0.7" fill="none" />
<path d="M732.75 189.66 L736.75 188.76 L736.75 194.16 L732.75 195.06Z" stroke-width="0.7" fill="#fff" />
<path d="M732.75 193.56 L736.75 192.66" stroke-width="0.7" fill="none" />
<path d="M728.2 190.76 L732.2 189.86 L732.2 195.26 L728.2 196.16Z" stroke-width="0.7" fill="#fff" />
<path d="M728.2 194.66 L732.2 193.76" stroke-width="0.7" fill="none" />
<path d="M723.65 191.86 L727.65 190.96 L727.65 196.36 L723.65 197.26Z" stroke-width="0.7" fill="#fff" />
<path d="M723.65 195.76 L727.65 194.86" stroke-width="0.7" fill="none" />
<path d="M719.1 192.96 L723.1 192.06 L723.1 197.46 L719.1 198.36Z" stroke-width="0.7" fill="#fff" />
<path d="M719.1 196.86 L723.1 195.96" stroke-width="0.7" fill="none" />
<path d="M714.55 194.06 L705.25 193.06 L702.25 198.46 L714.55 199.46" stroke-width="0" fill="#fff" stroke="none"/>
<path d="M714.55 194.06 L705.25 193.06" stroke-width="0.7" fill="none" />
<path d="M714.55 199.46 L702.25 198.46" stroke-width="0.7" fill="none" />
<path d="M714.55 197.96 L708.55 197.36" stroke-width="0.5" fill="none" />
<path d="M714.55 194.06 L718.55 193.16 L718.55 198.56 L714.55 199.46Z" stroke-width="0.7" fill="#fff" />
<path d="M714.55 197.96 L718.55 197.06" stroke-width="0.7" fill="none" />
<path d="M773.7 188.38 L777.7 187.48 L777.7 192.88 L773.7 193.78Z" stroke-width="0.7" fill="#fff" />
<path d="M773.7 192.28 L777.7 191.38" stroke-width="0.7" fill="none" />
<path d="M769.15 189.48 L773.15 188.58 L773.15 193.98 L769.15 194.88Z" stroke-width="0.7" fill="#fff" />
<path d="M769.15 193.38 L773.15 192.48" stroke-width="0.7" fill="none" />
<path d="M764.6 190.58 L768.6 189.68 L768.6 195.08 L764.6 195.98Z" stroke-width="0.7" fill="#fff" />
<path d="M764.6 194.48 L768.6 193.58" stroke-width="0.7" fill="none" />
<path d="M760.05 191.68 L764.05 190.78 L764.05 196.18 L760.05 197.08Z" stroke-width="0.7" fill="#fff" />
<path d="M760.05 195.58 L764.05 194.68" stroke-width="0.7" fill="none" />
<path d="M755.5 192.78 L759.5 191.88 L759.5 197.28 L755.5 198.18Z" stroke-width="0.7" fill="#fff" />
<path d="M755.5 196.68 L759.5 195.78" stroke-width="0.7" fill="none" />
<path d="M750.95 193.88 L754.95 192.98 L754.95 198.38 L750.95 199.28Z" stroke-width="0.7" fill="#fff" />
<path d="M750.95 197.78 L754.95 196.88" stroke-width="0.7" fill="none" />
<path d="M746.4 194.98 L750.4 194.08 L750.4 199.48 L746.4 200.38Z" stroke-width="0.7" fill="#fff" />
<path d="M746.4 198.88 L750.4 197.98" stroke-width="0.7" fill="none" />
<path d="M741.85 196.08 L745.85 195.18 L745.85 200.58 L741.85 201.48Z" stroke-width="0.7" fill="#fff" />
<path d="M741.85 199.98 L745.85 199.08" stroke-width="0.7" fill="none" />
<path d="M737.3 197.18 L741.3 196.28 L741.3 201.68 L737.3 202.58Z" stroke-width="0.7" fill="#fff" />
<path d="M737.3 201.08 L741.3 200.18" stroke-width="0.7" fill="none" />
<path d="M732.75 198.28 L736.75 197.38 L736.75 202.78 L732.75 203.68Z" stroke-width="0.7" fill="#fff" />
<path d="M732.75 202.18 L736.75 201.28" stroke-width="0.7" fill="none" />
<path d="M728.2 199.38 L732.2 198.48 L732.2 203.88 L728.2 204.78Z" stroke-width="0.7" fill="#fff" />
<path d="M728.2 203.28 L732.2 202.38" stroke-width="0.7" fill="none" />
<path d="M723.65 200.48 L727.65 199.58 L727.65 204.98 L723.65 205.88Z" stroke-width="0.7" fill="#fff" />
<path d="M723.65 204.38 L727.65 203.48" stroke-width="0.7" fill="none" />
<path d="M719.1 201.58 L723.1 200.68 L723.1 206.08 L719.1 206.98Z" stroke-width="0.7" fill="#fff" />
<path d="M719.1 205.48 L723.1 204.58" stroke-width="0.7" fill="none" />
<path d="M714.55 202.68 L705.25 201.68 L702.25 207.08 L714.55 208.08" stroke-width="0" fill="#fff" stroke="none"/>
<path d="M714.55 202.68 L705.25 201.68" stroke-width="0.7" fill="none" />
<path d="M714.55 208.08 L702.25 207.08" stroke-width="0.7" fill="none" />
<path d="M714.55 206.58 L708.55 205.98" stroke-width="0.5" fill="none" />
<path d="M714.55 202.68 L718.55 201.78 L718.55 207.18 L714.55 208.08Z" stroke-width="0.7" fill="#fff" />
<path d="M714.55 206.58 L718.55 205.68" stroke-width="0.7" fill="none" />
<path d="M773.7 197 L777.7 196.1 L777.7 201.5 L773.7 202.4Z" stroke-width="0.7" fill="#fff" />
<path d="M773.7 200.9 L777.7 200" stroke-width="0.7" fill="none" />
<path d="M769.15 198.1 L773.15 197.2 L773.15 202.6 L769.15 203.5Z" stroke-width="0.7" fill="#fff" />
<path d="M769.15 202 L773.15 201.1" stroke-width="0.7" fill="none" />
<path d="M764.6 199.2 L768.6 198.3 L768.6 203.7 L764.6 204.6Z" stroke-width="0.7" fill="#fff" />
<path d="M764.6 203.1 L768.6 202.2" stroke-width="0.7" fill="none" />
<path d="M760.05 200.3 L764.05 199.4 L764.05 204.8 L760.05 205.7Z" stroke-width="0.7" fill="#fff" />
<path d="M760.05 204.2 L764.05 203.3" stroke-width="0.7" fill="none" />
<path d="M755.5 201.4 L759.5 200.5 L759.5 205.9 L755.5 206.8Z" stroke-width="0.7" fill="#fff" />
<path d="M755.5 205.3 L759.5 204.4" stroke-width="0.7" fill="none" />
<path d="M750.95 202.5 L754.95 201.6 L754.95 207 L750.95 207.9Z" stroke-width="0.7" fill="#fff" />
<path d="M750.95 206.4 L754.95 205.5" stroke-width="0.7" fill="none" />
<path d="M746.4 203.6 L750.4 202.7 L750.4 208.1 L746.4 209Z" stroke-width="0.7" fill="#fff" />
<path d="M746.4 207.5 L750.4 206.6" stroke-width="0.7" fill="none" />
<path d="M741.85 204.7 L745.85 203.8 L745.85 209.2 L741.85 210.1Z" stroke-width="0.7" fill="#fff" />
<path d="M741.85 208.6 L745.85 207.7" stroke-width="0.7" fill="none" />
<path d="M737.3 205.8 L741.3 204.9 L741.3 210.3 L737.3 211.2Z" stroke-width="0.7" fill="#fff" />
<path d="M737.3 209.7 L741.3 208.8" stroke-width="0.7" fill="none" />
<path d="M732.75 206.9 L736.75 206 L736.75 211.4 L732.75 212.3Z" stroke-width="0.7" fill="#fff" />
<path d="M732.75 210.8 L736.75 209.9" stroke-width="0.7" fill="none" />
<path d="M728.2 208 L732.2 207.1 L732.2 212.5 L728.2 213.4Z" stroke-width="0.7" fill="#fff" />
<path d="M728.2 211.9 L732.2 211" stroke-width="0.7" fill="none" />
<path d="M723.65 209.1 L727.65 208.2 L727.65 213.6 L723.65 214.5Z" stroke-width="0.7" fill="#fff" />
<path d="M723.65 213 L727.65 212.1" stroke-width="0.7" fill="none" />
<path d="M719.1 210.2 L723.1 209.3 L723.1 214.7 L719.1 215.6Z" stroke-width="0.7" fill="#fff" />
<path d="M719.1 214.1 L723.1 213.2" stroke-width="0.7" fill="none" />
<path d="M714.55 211.3 L705.25 210.3 L702.25 215.7 L714.55 216.7" stroke-width="0" fill="#fff" stroke="none"/>
<path d="M714.55 211.3 L705.25 210.3" stroke-width="0.7" fill="none" />
<path d="M714.55 216.7 L702.25 215.7" stroke-width="0.7" fill="none" />
<path d="M714.55 215.2 L708.55 214.6" stroke-width="0.5" fill="none" />
<path d="M714.55 211.3 L718.55 210.4 L718.55 215.8 L714.55 216.7Z" stroke-width="0.7" fill="#fff" />
<path d="M714.55 215.2 L718.55 214.3" stroke-width="0.7" fill="none" />
<path d="M773.7 205.62 L777.7 204.72 L777.7 210.12 L773.7 211.02Z" stroke-width="0.7" fill="#fff" />
<path d="M773.7 209.52 L777.7 208.62" stroke-width="0.7" fill="none" />
<path d="M769.15 206.72 L773.15 205.82 L773.15 211.22 L769.15 212.12Z" stroke-width="0.7" fill="#fff" />
<path d="M769.15 210.62 L773.15 209.72" stroke-width="0.7" fill="none" />
<path d="M764.6 207.82 L768.6 206.92 L768.6 212.32 L764.6 213.22Z" stroke-width="0.7" fill="#fff" />
<path d="M764.6 211.72 L768.6 210.82" stroke-width="0.7" fill="none" />
<path d="M760.05 208.92 L764.05 208.02 L764.05 213.42 L760.05 214.32Z" stroke-width="0.7" fill="#fff" />
<path d="M760.05 212.82 L764.05 211.92" stroke-width="0.7" fill="none" />
<path d="M755.5 210.02 L759.5 209.12 L759.5 214.52 L755.5 215.42Z" stroke-width="0.7" fill="#fff" />
<path d="M755.5 213.92 L759.5 213.02" stroke-width="0.7" fill="none" />
<path d="M750.95 211.12 L754.95 210.22 L754.95 215.62 L750.95 216.52Z" stroke-width="0.7" fill="#fff" />
<path d="M750.95 215.02 L754.95 214.12" stroke-width="0.7" fill="none" />
<path d="M746.4 212.22 L750.4 211.32 L750.4 216.72 L746.4 217.62Z" stroke-width="0.7" fill="#fff" />
<path d="M746.4 216.12 L750.4 215.22" stroke-width="0.7" fill="none" />
<path d="M741.85 213.32 L745.85 212.42 L745.85 217.82 L741.85 218.72Z" stroke-width="0.7" fill="#fff" />
<path d="M741.85 217.22 L745.85 216.32" stroke-width="0.7" fill="none" />
<path d="M737.3 214.42 L741.3 213.52 L741.3 218.92 L737.3 219.82Z" stroke-width="0.7" fill="#fff" />
<path d="M737.3 218.32 L741.3 217.42" stroke-width="0.7" fill="none" />
<path d="M732.75 215.52 L736.75 214.62 L736.75 220.02 L732.75 220.92Z" stroke-width="0.7" fill="#fff" />
<path d="M732.75 219.42 L736.75 218.52" stroke-width="0.7" fill="none" />
<path d="M728.2 216.62 L732.2 215.72 L732.2 221.12 L728.2 222.02Z" stroke-width="0.7" fill="#fff" />
<path d="M728.2 220.52 L732.2 219.62" stroke-width="0.7" fill="none" />
<path d="M723.65 217.72 L727.65 216.82 L727.65 222.22 L723.65 223.12Z" stroke-width="0.7" fill="#fff" />
<path d="M723.65 221.62 L727.65 220.72" stroke-width="0.7" fill="none" />
<path d="M719.1 218.82 L723.1 217.92 L723.1 223.32 L719.1 224.22Z" stroke-width="0.7" fill="#fff" />
<path d="M719.1 222.72 L723.1 221.82" stroke-width="0.7" fill="none" />
<path d="M714.55 219.92 L705.25 218.92 L702.25 224.32 L714.55 225.32" stroke-width="0" fill="#fff" stroke="none"/>
<path d="M714.55 219.92 L705.25 218.92" stroke-width="0.7" fill="none" />
<path d="M714.55 225.32 L702.25 224.32" stroke-width="0.7" fill="none" />
<path d="M714.55 223.82 L708.55 223.22" stroke-width="0.5" fill="none" />
<path d="M714.55 219.92 L718.55 219.02 L718.55 224.42 L714.55 225.32Z" stroke-width="0.7" fill="#fff" />
<path d="M714.55 223.82 L718.55 222.92" stroke-width="0.7" fill="none" />
<path d="M773.7 214.24 L777.7 213.34 L777.7 218.74 L773.7 219.64Z" stroke-width="0.7" fill="#fff" />
<path d="M773.7 218.14 L777.7 217.24" stroke-width="0.7" fill="none" />
<path d="M769.15 215.34 L773.15 214.44 L773.15 219.84 L769.15 220.74Z" stroke-width="0.7" fill="#fff" />
<path d="M769.15 219.24 L773.15 218.34" stroke-width="0.7" fill="none" />
<path d="M764.6 216.44 L768.6 215.54 L768.6 220.94 L764.6 221.84Z" stroke-width="0.7" fill="#fff" />
<path d="M764.6 220.34 L768.6 219.44" stroke-width="0.7" fill="none" />
<path d="M760.05 217.54 L764.05 216.64 L764.05 222.04 L760.05 222.94Z" stroke-width="0.7" fill="#fff" />
<path d="M760.05 221.44 L764.05 220.54" stroke-width="0.7" fill="none" />
<path d="M755.5 218.64 L759.5 217.74 L759.5 223.14 L755.5 224.04Z" stroke-width="0.7" fill="#fff" />
<path d="M755.5 222.54 L759.5 221.64" stroke-width="0.7" fill="none" />
<path d="M750.95 219.74 L754.95 218.84 L754.95 224.24 L750.95 225.14Z" stroke-width="0.7" fill="#fff" />
<path d="M750.95 223.64 L754.95 222.74" stroke-width="0.7" fill="none" />
<path d="M746.4 220.84 L750.4 219.94 L750.4 225.34 L746.4 226.24Z" stroke-width="0.7" fill="#fff" />
<path d="M746.4 224.74 L750.4 223.84" stroke-width="0.7" fill="none" />
<path d="M741.85 221.94 L745.85 221.04 L745.85 226.44 L741.85 227.34Z" stroke-width="0.7" fill="#fff" />
<path d="M741.85 225.84 L745.85 224.94" stroke-width="0.7" fill="none" />
<path d="M737.3 223.04 L741.3 222.14 L741.3 227.54 L737.3 228.44Z" stroke-width="0.7" fill="#fff" />
<path d="M737.3 226.94 L741.3 226.04" stroke-width="0.7" fill="none" />
<path d="M732.75 224.14 L736.75 223.24 L736.75 228.64 L732.75 229.54Z" stroke-width="0.7" fill="#fff" />
<path d="M732.75 228.04 L736.75 227.14" stroke-width="0.7" fill="none" />
<path d="M728.2 225.24 L732.2 224.34 L732.2 229.74 L728.2 230.64Z" stroke-width="0.7" fill="#fff" />
<path d="M728.2 229.14 L732.2 228.24" stroke-width="0.7" fill="none" />
<path d="M723.65 226.34 L727.65 225.44 L727.65 230.84 L723.65 231.74Z" stroke-width="0.7" fill="#fff" />
<path d="M723.65 230.24 L727.65 229.34" stroke-width="0.7" fill="none" />
<path d="M719.1 227.44 L723.1 226.54 L723.1 231.94 L719.1 232.84Z" stroke-width="0.7" fill="#fff" />
<path d="M719.1 231.34 L723.1 230.44" stroke-width="0.7" fill="none" />
<path d="M714.55 228.54 L705.25 227.54 L702.25 232.94 L714.55 233.94" stroke-width="0" fill="#fff" stroke="none"/>
<path d="M714.55 228.54 L705.25 227.54" stroke-width="0.7" fill="none" />
<path d="M714.55 233.94 L702.25 232.94" stroke-width="0.7" fill="none" />
<path d="M714.55 232.44 L708.55 231.84" stroke-width="0.5" fill="none" />
<path d="M714.55 228.54 L718.55 227.64 L718.55 233.04 L714.55 233.94Z" stroke-width="0.7" fill="#fff" />
<path d="M714.55 232.44 L718.55 231.54" stroke-width="0.7" fill="none" />
<path d="M773.7 222.86 L777.7 221.96 L777.7 227.36 L773.7 228.26Z" stroke-width="0.7" fill="#fff" />
<path d="M773.7 226.76 L777.7 225.86" stroke-width="0.7" fill="none" />
<path d="M769.15 223.96 L773.15 223.06 L773.15 228.46 L769.15 229.36Z" stroke-width="0.7" fill="#fff" />
<path d="M769.15 227.86 L773.15 226.96" stroke-width="0.7" fill="none" />
<path d="M764.6 225.06 L768.6 224.16 L768.6 229.56 L764.6 230.46Z" stroke-width="0.7" fill="#fff" />
<path d="M764.6 228.96 L768.6 228.06" stroke-width="0.7" fill="none" />
<path d="M760.05 226.16 L764.05 225.26 L764.05 230.66 L760.05 231.56Z" stroke-width="0.7" fill="#fff" />
<path d="M760.05 230.06 L764.05 229.16" stroke-width="0.7" fill="none" />
<path d="M755.5 227.26 L759.5 226.36 L759.5 231.76 L755.5 232.66Z" stroke-width="0.7" fill="#fff" />
<path d="M755.5 231.16 L759.5 230.26" stroke-width="0.7" fill="none" />
<path d="M750.95 228.36 L754.95 227.46 L754.95 232.86 L750.95 233.76Z" stroke-width="0.7" fill="#fff" />
<path d="M750.95 232.26 L754.95 231.36" stroke-width="0.7" fill="none" />
<path d="M746.4 229.46 L750.4 228.56 L750.4 233.96 L746.4 234.86Z" stroke-width="0.7" fill="#fff" />
<path d="M746.4 233.36 L750.4 232.46" stroke-width="0.7" fill="none" />
<path d="M741.85 230.56 L745.85 229.66 L745.85 235.06 L741.85 235.96Z" stroke-width="0.7" fill="#fff" />
<path d="M741.85 234.46 L745.85 233.56" stroke-width="0.7" fill="none" />
<path d="M737.3 231.66 L741.3 230.76 L741.3 236.16 L737.3 237.06Z" stroke-width="0.7" fill="#fff" />
<path d="M737.3 235.56 L741.3 234.66" stroke-width="0.7" fill="none" />
<path d="M732.75 232.76 L736.75 231.86 L736.75 237.26 L732.75 238.16Z" stroke-width="0.7" fill="#fff" />
<path d="M732.75 236.66 L736.75 235.76" stroke-width="0.7" fill="none" />
<path d="M728.2 233.86 L732.2 232.96 L732.2 238.36 L728.2 239.26Z" stroke-width="0.7" fill="#fff" />
<path d="M728.2 237.76 L732.2 236.86" stroke-width="0.7" fill="none" />
<path d="M723.65 234.96 L727.65 234.06 L727.65 239.46 L723.65 240.36Z" stroke-width="0.7" fill="#fff" />
<path d="M723.65 238.86 L727.65 237.96" stroke-width="0.7" fill="none" />
<path d="M719.1 236.06 L723.1 235.16 L723.1 240.56 L719.1 241.46Z" stroke-width="0.7" fill="#fff" />
<path d="M719.1 239.96 L723.1 239.06" stroke-width="0.7" fill="none" />
<path d="M714.55 237.16 L705.25 236.16 L702.25 241.56 L714.55 242.56" stroke-width="0" fill="#fff" stroke="none"/>
<path d="M714.55 237.16 L705.25 236.16" stroke-width="0.7" fill="none" />
<path d="M714.55 242.56 L702.25 241.56" stroke-width="0.7" fill="none" />
<path d="M714.55 241.06 L708.55 240.46" stroke-width="0.5" fill="none" />
<path d="M714.55 237.16 L718.55 236.26 L718.55 241.66 L714.55 242.56Z" stroke-width="0.7" fill="#fff" />
<path d="M714.55 241.06 L718.55 240.16" stroke-width="0.7" fill="none" />
<path d="M773.7 231.48 L777.7 230.58 L777.7 235.98 L773.7 236.88Z" stroke-width="0.7" fill="#fff" />
<path d="M773.7 235.38 L777.7 234.48" stroke-width="0.7" fill="none" />
<path d="M769.15 232.58 L773.15 231.68 L773.15 237.08 L769.15 237.98Z" stroke-width="0.7" fill="#fff" />
<path d="M769.15 236.48 L773.15 235.58" stroke-width="0.7" fill="none" />
<path d="M764.6 233.68 L768.6 232.78 L768.6 238.18 L764.6 239.08Z" stroke-width="0.7" fill="#fff" />
<path d="M764.6 237.58 L768.6 236.68" stroke-width="0.7" fill="none" />
<path d="M760.05 234.78 L764.05 233.88 L764.05 239.28 L760.05 240.18Z" stroke-width="0.7" fill="#fff" />
<path d="M760.05 238.68 L764.05 237.78" stroke-width="0.7" fill="none" />
<path d="M755.5 235.88 L759.5 234.98 L759.5 240.38 L755.5 241.28Z" stroke-width="0.7" fill="#fff" />
<path d="M755.5 239.78 L759.5 238.88" stroke-width="0.7" fill="none" />
<path d="M750.95 236.98 L754.95 236.08 L754.95 241.48 L750.95 242.38Z" stroke-width="0.7" fill="#fff" />
<path d="M750.95 240.88 L754.95 239.98" stroke-width="0.7" fill="none" />
<path d="M746.4 238.08 L750.4 237.18 L750.4 242.58 L746.4 243.48Z" stroke-width="0.7" fill="#fff" />
<path d="M746.4 241.98 L750.4 241.08" stroke-width="0.7" fill="none" />
<path d="M741.85 239.18 L745.85 238.28 L745.85 243.68 L741.85 244.58Z" stroke-width="0.7" fill="#fff" />
<path d="M741.85 243.08 L745.85 242.18" stroke-width="0.7" fill="none" />
<path d="M737.3 240.28 L741.3 239.38 L741.3 244.78 L737.3 245.68Z" stroke-width="0.7" fill="#fff" />
<path d="M737.3 244.18 L741.3 243.28" stroke-width="0.7" fill="none" />
<path d="M732.75 241.38 L736.75 240.48 L736.75 245.88 L732.75 246.78Z" stroke-width="0.7" fill="#fff" />
<path d="M732.75 245.28 L736.75 244.38" stroke-width="0.7" fill="none" />
<path d="M728.2 242.48 L732.2 241.58 L732.2 246.98 L728.2 247.88Z" stroke-width="0.7" fill="#fff" />
<path d="M728.2 246.38 L732.2 245.48" stroke-width="0.7" fill="none" />
<path d="M723.65 243.58 L727.65 242.68 L727.65 248.08 L723.65 248.98Z" stroke-width="0.7" fill="#fff" />
<path d="M723.65 247.48 L727.65 246.58" stroke-width="0.7" fill="none" />
<path d="M719.1 244.68 L723.1 243.78 L723.1 249.18 L719.1 250.08Z" stroke-width="0.7" fill="#fff" />
<path d="M719.1 248.58 L723.1 247.68" stroke-width="0.7" fill="none" />
<path d="M714.55 245.78 L705.25 244.78 L702.25 250.18 L714.55 251.18" stroke-width="0" fill="#fff" stroke="none"/>
<path d="M714.55 245.78 L705.25 244.78" stroke-width="0.7" fill="none" />
<path d="M714.55 251.18 L702.25 250.18" stroke-width="0.7" fill="none" />
<path d="M714.55 249.68 L708.55 249.08" stroke-width="0.5" fill="none" />
<path d="M714.55 245.78 L718.55 244.88 L718.55 250.28 L714.55 251.18Z" stroke-width="0.7" fill="#fff" />
<path d="M714.55 249.68 L718.55 248.78" stroke-width="0.7" fill="none" />
<path d="M478.3 30 L478.3 1.3 L527.5 2 Q531.6 2.2 531.8 6.5 L531.8 31.5 Q531.8 35.8 536 36.1 L586.5 38.7 Q591.2 39.2 591.2 44 L588.8 396.5 Q588.7 401 584.5 400.3 L531 390.6 L531 363 Q531 360.2 528.5 359.5 L483 350 Q479.5 349 479.5 345.5 Z" stroke-width="1.25" fill="#fff" />
<path d="M587.3 42 L585.2 399.5" stroke-width="0.8" fill="none" />
<path d="M530.1 4.5 L530.1 34" stroke-width="0.8" fill="none" />
<path d="M535 37.6 L586 40.4" stroke-width="0.8" fill="none" />
<ellipse cx="490.1" cy="22.5" rx="15.9" ry="17.36" stroke-width="1.25" fill="#fff"/>
<path d="M477.1 5.6 L490.1 5.14 L490.1 39.86 L477.1 41.4Z" stroke-width="0" fill="#fff" stroke="none"/>
<path d="M477.1 5.6 L490.1 5.14" stroke-width="1.25" fill="none" />
<path d="M477.1 41.4 L490.1 39.86" stroke-width="1.25" fill="none" />
<ellipse cx="485.16" cy="22.88" rx="15.9" ry="17.63" stroke-width="0.8" fill="#fff"/>
<ellipse cx="477.1" cy="23.5" rx="15.9" ry="17.9" stroke-width="1.25" fill="#fff"/>
<ellipse cx="476.8" cy="23.7" rx="9" ry="11" stroke-width="0.8" fill="none"/>
<path d="M-0.9 -5.5 L0.9 -5.5 L0.9 -0.9 L4.5 -0.9 L4.5 0.9 L0.9 0.9 L0.9 5.5 L-0.9 5.5 L-0.9 0.9 L-4.5 0.9 L-4.5 -0.9 L-0.9 -0.9Z" transform="translate(476.8 23.7) rotate(4)" stroke-width="0.8" fill="none"/>
<ellipse cx="542.7" cy="378.7" rx="16.3" ry="16.68" stroke-width="1.25" fill="#fff"/>
<path d="M531.5 363 L542.7 362.02 L542.7 395.38 L531.5 397.4Z" stroke-width="0" fill="#fff" stroke="none"/>
<path d="M531.5 363 L542.7 362.02" stroke-width="1.25" fill="none" />
<path d="M531.5 397.4 L542.7 395.38" stroke-width="1.25" fill="none" />
<ellipse cx="538.44" cy="379.27" rx="16.3" ry="16.94" stroke-width="0.8" fill="#fff"/>
<ellipse cx="531.5" cy="380.2" rx="16.3" ry="17.2" stroke-width="1.25" fill="#fff"/>
<ellipse cx="531.2" cy="380.4" rx="9.5" ry="10.6" stroke-width="0.8" fill="none"/>
<path d="M-0.9 -5.3 L0.9 -5.3 L0.9 -0.9 L4.75 -0.9 L4.75 0.9 L0.9 0.9 L0.9 5.3 L-0.9 5.3 L-0.9 0.9 L-4.75 0.9 L-4.75 -0.9 L-0.9 -0.9Z" transform="translate(531.2 380.4) rotate(6)" stroke-width="0.8" fill="none"/>
<text transform="translate(482.7 62.3) skewY(3.21)" font-size="13.6" font-weight="normal" text-anchor="start" textLength="101" lengthAdjust="spacingAndGlyphs" stroke="#000" stroke-width="0.22" fill="#000" >Ethernet 1000BASE-X</text>
<text transform="translate(524 79.8) skewY(3.21)" font-size="13.6" font-weight="normal" text-anchor="start" textLength="19.6" lengthAdjust="spacingAndGlyphs" stroke="#000" stroke-width="0.22" fill="#000" >SFP</text>
<text transform="translate(480 90.8) skewY(3.43)" font-size="6.6" font-weight="normal" text-anchor="start" textLength="21.6" lengthAdjust="spacingAndGlyphs" stroke="#000" stroke-width="0.22" fill="#000" >ONLINE</text>
<text transform="translate(480 98.8) skewY(3.43)" font-size="6.6" font-weight="normal" text-anchor="start" textLength="24.6" lengthAdjust="spacingAndGlyphs" stroke="#000" stroke-width="0.22" fill="#000" >OFFLINE</text>
<ellipse cx="509.9" cy="93.1" rx="3.7" ry="4.9" stroke-width="0.8" fill="#fff" transform="rotate(-10 509.9 93.1)"/>
<ellipse cx="509.9" cy="93.1" rx="2.5" ry="3.6" stroke-width="0.8" fill="none" transform="rotate(-10 509.9 93.1)"/>
<text transform="translate(529.3 91.4) skewY(3.43)" font-size="6.6" font-weight="normal" text-anchor="start" textLength="16.6" lengthAdjust="spacingAndGlyphs" stroke="#000" stroke-width="0.22" fill="#000" >PORT</text>
<ellipse cx="524.9" cy="97.6" rx="2.7" ry="2.8" stroke-width="0.9" fill="#fff"/>
<text transform="translate(528.7 100.5) skewY(4.57)" font-size="7" font-weight="normal" text-anchor="start" stroke="#000" stroke-width="0.22" fill="#000" >0</text>
<ellipse cx="551.3" cy="99.4" rx="2.7" ry="2.8" stroke-width="0.9" fill="#fff"/>
<text transform="translate(555.1 102.3) skewY(4.57)" font-size="7" font-weight="normal" text-anchor="start" stroke="#000" stroke-width="0.22" fill="#000" >1</text>
<ellipse cx="525.7" cy="153.6" rx="2.7" ry="2.8" stroke-width="0.9" fill="#fff"/>
<text transform="translate(529.5 156.5) skewY(4.57)" font-size="7" font-weight="normal" text-anchor="start" stroke="#000" stroke-width="0.22" fill="#000" >2</text>
<ellipse cx="549.8" cy="155.4" rx="2.7" ry="2.8" stroke-width="0.9" fill="#fff"/>
<text transform="translate(553.6 158.3) skewY(4.57)" font-size="7" font-weight="normal" text-anchor="start" stroke="#000" stroke-width="0.22" fill="#000" >3</text>
<ellipse cx="524.9" cy="209" rx="2.7" ry="2.8" stroke-width="0.9" fill="#fff"/>
<text transform="translate(528.7 211.9) skewY(4.57)" font-size="7" font-weight="normal" text-anchor="start" stroke="#000" stroke-width="0.22" fill="#000" >4</text>
<ellipse cx="549" cy="210.8" rx="2.7" ry="2.8" stroke-width="0.9" fill="#fff"/>
<text transform="translate(552.8 213.7) skewY(4.57)" font-size="7" font-weight="normal" text-anchor="start" stroke="#000" stroke-width="0.22" fill="#000" >5</text>
<ellipse cx="525.7" cy="267" rx="2.7" ry="2.8" stroke-width="0.9" fill="#fff"/>
<text transform="translate(529.5 269.9) skewY(4.57)" font-size="7" font-weight="normal" text-anchor="start" stroke="#000" stroke-width="0.22" fill="#000" >6</text>
<ellipse cx="549.8" cy="268.8" rx="2.7" ry="2.8" stroke-width="0.9" fill="#fff"/>
<text transform="translate(553.6 271.7) skewY(4.57)" font-size="7" font-weight="normal" text-anchor="start" stroke="#000" stroke-width="0.22" fill="#000" >7</text>
<text transform="translate(498 151.6) skewY(4.57)" font-size="6" font-weight="normal" text-anchor="start" textLength="7.4" lengthAdjust="spacingAndGlyphs" stroke="#000" stroke-width="0.22" fill="#000" >OK</text>
<path d="M507.5 148.4 L517.9 149.2 L517.9 154 L507.5 153.2Z" stroke-width="0.8" fill="#fff" />
<text transform="translate(572.6 122.8) skewY(5.71)" font-size="5.8" font-weight="normal" text-anchor="start" textLength="11.6" lengthAdjust="spacingAndGlyphs" stroke="#000" stroke-width="0.22" fill="#000" >XMT</text>
<text transform="translate(572.6 144.4) skewY(5.71)" font-size="5.8" font-weight="normal" text-anchor="start" textLength="11.6" lengthAdjust="spacingAndGlyphs" stroke="#000" stroke-width="0.22" fill="#000" >RCV</text>
<text transform="translate(572.6 177.3) skewY(5.71)" font-size="5.8" font-weight="normal" text-anchor="start" textLength="11.6" lengthAdjust="spacingAndGlyphs" stroke="#000" stroke-width="0.22" fill="#000" >XMT</text>
<text transform="translate(572.6 199.3) skewY(5.71)" font-size="5.8" font-weight="normal" text-anchor="start" textLength="11.6" lengthAdjust="spacingAndGlyphs" stroke="#000" stroke-width="0.22" fill="#000" >RCV</text>
<text transform="translate(572.6 232.3) skewY(5.71)" font-size="5.8" font-weight="normal" text-anchor="start" textLength="11.6" lengthAdjust="spacingAndGlyphs" stroke="#000" stroke-width="0.22" fill="#000" >XMT</text>
<text transform="translate(572.6 254.3) skewY(5.71)" font-size="5.8" font-weight="normal" text-anchor="start" textLength="11.6" lengthAdjust="spacingAndGlyphs" stroke="#000" stroke-width="0.22" fill="#000" >RCV</text>
<text transform="translate(572.6 288) skewY(5.71)" font-size="5.8" font-weight="normal" text-anchor="start" textLength="11.6" lengthAdjust="spacingAndGlyphs" stroke="#000" stroke-width="0.22" fill="#000" >XMT</text>
<text transform="translate(572.6 309.5) skewY(5.71)" font-size="5.8" font-weight="normal" text-anchor="start" textLength="11.6" lengthAdjust="spacingAndGlyphs" stroke="#000" stroke-width="0.22" fill="#000" >RCV</text>
<text transform="translate(491.6 332.6) skewY(9.65)" font-size="18.5" font-weight="bold" text-anchor="start" textLength="19.5" lengthAdjust="spacingAndGlyphs" stroke="#000" stroke-width="0.22" fill="#000" >Q</text>
<text transform="translate(512.6 329.2) skewY(7.41)" font-size="8.4" font-weight="bold" text-anchor="start" textLength="54.4" lengthAdjust="spacingAndGlyphs" stroke="#000" stroke-width="0.22" fill="#000" >Performance</text>
<text transform="translate(511.8 336.2) skewY(7.41)" font-size="8.4" font-weight="bold" text-anchor="start" textLength="52" lengthAdjust="spacingAndGlyphs" stroke="#000" stroke-width="0.22" fill="#000" >Processor 2</text>
<text transform="translate(765 310.6) rotate(-90)" font-size="10.6" font-weight="normal" text-anchor="start" textLength="39.6" lengthAdjust="spacingAndGlyphs" stroke="#000" stroke-width="0.22" fill="#000" >g002361</text>
<path d="M538.8 113.3 L538.8 107.8 Q538.8 105.9 540.8 106 L565.8 107.5 Q568.9 107.8 568.9 110.8 L568.9 146.8 Q568.9 149.5 566.3 149.7 L551.8 150.3" stroke-width="0.85" fill="#fff" />
<path d="M540.3 108.1 L563.8 109.6 Q565.4 109.8 565.4 111.3 L565.4 147.5" stroke-width="0.65" fill="none" />
<path d="M499.8 109.8 L499.8 105.7 Q499.8 103.9 501.8 103.9 L524.8 104.7 Q527.8 104.9 527.8 107.8 L527.8 115.3" stroke-width="0.85" fill="#fff" />
<path d="M501.3 105.8 L524.3 106.5" stroke-width="0.65" fill="none" />
<path d="M490.8 112.3 L501.3 107.1 L529.8 108.53 L519.3 113.73 L519.3 147.73 L490.8 146.3Z" stroke-width="0.85" fill="#fff" />
<path d="M490.8 112.3 L519.3 113.73" stroke-width="0.85" fill="none" />
<path d="M495.4 112.53 L495.4 146.53" stroke-width="0.85" fill="none" />
<path d="M495.4 112.53 L503.8 108.37" stroke-width="0.65" fill="none" />
<path d="M509.4 113.23 L509.4 147.23" stroke-width="0.85" fill="none" />
<path d="M509.4 113.23 L516.75 109.59" stroke-width="0.65" fill="none" />
<path d="M497.2 124.02 L508.4 123.78" stroke-width="0.85" fill="none" />
<path d="M497.2 126.22 L508.4 125.98" stroke-width="0.65" fill="none" />
<path d="M498 126.26 L498 130.26 L503.3 130.73 L503.3 128.33" stroke-width="0.65" fill="none" />
<path d="M497.2 119.02 L508.4 118.38" stroke-width="0.65" fill="none" />
<path d="M497.2 139.22 L508.4 138.98" stroke-width="0.85" fill="none" />
<path d="M497.2 141.42 L508.4 141.18" stroke-width="0.65" fill="none" />
<path d="M498 141.46 L498 145.46 L503.3 145.93 L503.3 143.53" stroke-width="0.65" fill="none" />
<path d="M497.2 134.22 L508.4 133.58" stroke-width="0.65" fill="none" />
<path d="M522.6 113.1 L533.6 108.1 L565.2 111.73 L565.2 147.33 L554.2 152.33 L522.6 148.7Z" stroke-width="0.85" fill="#fff" />
<path d="M522.6 113.1 L554.2 116.73 L554.2 152.33 L522.6 148.7Z" stroke-width="0.85" fill="none" />
<path d="M554.2 116.73 L565.2 111.73" stroke-width="0.85" fill="none" />
<path d="M556.95 115.48 L556.95 151.08" stroke-width="0.65" fill="none" />
<path d="M528.92 113.83 L528.92 149.43" stroke-width="0.85" fill="none" />
<path d="M528.92 113.83 L538.27 109.58" stroke-width="0.65" fill="none" />
<path d="M531.18 117.77 L551.94 120.16" stroke-width="0.65" fill="none" />
<path d="M551.94 120.16 L551.94 132.84" stroke-width="0.65" fill="none" />
<path d="M531.18 131.68 L551.94 126.5" stroke-width="0.85" fill="none" />
<path d="M531.74 133.59 L544.72 130.58" stroke-width="0.65" fill="none" />
<path d="M541.33 120.47 L541.33 126.3" stroke-width="0.65" fill="none" />
<path d="M545.85 121.91 L545.85 124.98" stroke-width="0.65" fill="none" />
<path d="M545.85 124.98 L551.94 123.02" stroke-width="0.65" fill="none" />
<path d="M544.61 119.52 L544.61 121.56 L549.12 122.08 L549.12 120.24" stroke-width="0.65" fill="#333" />
<path d="M531.18 133.93 L551.94 136.32" stroke-width="0.65" fill="none" />
<path d="M551.94 136.32 L551.94 149.01" stroke-width="0.65" fill="none" />
<path d="M531.18 147.84 L551.94 142.66" stroke-width="0.85" fill="none" />
<path d="M531.74 149.75 L544.72 146.74" stroke-width="0.65" fill="none" />
<path d="M541.33 136.63 L541.33 142.47" stroke-width="0.65" fill="none" />
<path d="M545.85 138.07 L545.85 141.14" stroke-width="0.65" fill="none" />
<path d="M545.85 141.14 L551.94 139.18" stroke-width="0.65" fill="none" />
<path d="M544.61 135.68 L544.61 137.73 L549.12 138.25 L549.12 136.41" stroke-width="0.65" fill="#333" />
<path d="M558.05 126.75 L561.02 124.68 L561.02 131.23 L558.05 133.4" stroke-width="0.65" fill="none" />
<path d="M510.8 117.7 L514.8 117.5 L514.8 122.5 L510.8 122.7Z" stroke-width="0.65" fill="#d0d0d0" />
<path d="M519.6 117.9 L524.4 119.1 L524.4 123.3 L519.6 122.7Z" stroke-width="0.65" fill="#d0d0d0" />
<path d="M511.4 137.3 L514.4 137.3 L514.4 142.9 L511.4 142.7Z" stroke-width="0.65" fill="#d0d0d0" />
<path d="M519.4 138.7 L524.4 137.5 L524.4 141.9 L519.4 142.5Z" stroke-width="0.65" fill="#d0d0d0" />
<path d="M510.2 134.5 L512.2 134.5 L512.2 145.5 L510.2 145.3Z" stroke-width="0.5" fill="#222" />
<path d="M515.4 122.1 L528.7 135.5" stroke-width="0.85" fill="none" />
<path d="M515.4 137.1 L528.7 125.3" stroke-width="0.85" fill="none" />
<path d="M516.8 120.9 L523.4 127.5" stroke-width="0.65" fill="none" />
<path d="M516.8 138.3 L523.4 131.5" stroke-width="0.65" fill="none" />
<path d="M525.2 125.7 L529.2 124.5 L531.8 127.1 L531.8 132.7 L528.8 135.3 L525.2 133.9Z" stroke-width="0.65" fill="#d0d0d0" />
<path d="M536.8 170.2 L536.8 164.7 Q536.8 162.8 538.8 162.9 L563.8 164.4 Q566.9 164.7 566.9 167.7 L566.9 203.7 Q566.9 206.4 564.3 206.6 L549.8 207.2" stroke-width="0.85" fill="#fff" />
<path d="M538.3 165 L561.8 166.5 Q563.4 166.7 563.4 168.2 L563.4 204.4" stroke-width="0.65" fill="none" />
<path d="M497.8 166.7 L497.8 162.6 Q497.8 160.8 499.8 160.8 L522.8 161.6 Q525.8 161.8 525.8 164.7 L525.8 172.2" stroke-width="0.85" fill="#fff" />
<path d="M499.3 162.7 L522.3 163.4" stroke-width="0.65" fill="none" />
<path d="M488.8 169.2 L499.3 164 L527.8 165.43 L517.3 170.62 L517.3 204.62 L488.8 203.2Z" stroke-width="0.85" fill="#fff" />
<path d="M488.8 169.2 L517.3 170.62" stroke-width="0.85" fill="none" />
<path d="M493.4 169.43 L493.4 203.43" stroke-width="0.85" fill="none" />
<path d="M493.4 169.43 L501.8 165.27" stroke-width="0.65" fill="none" />
<path d="M507.4 170.13 L507.4 204.13" stroke-width="0.85" fill="none" />
<path d="M507.4 170.13 L514.75 166.49" stroke-width="0.65" fill="none" />
<path d="M495.2 180.92 L506.4 180.68" stroke-width="0.85" fill="none" />
<path d="M495.2 183.12 L506.4 182.88" stroke-width="0.65" fill="none" />
<path d="M496 183.16 L496 187.16 L501.3 187.62 L501.3 185.22" stroke-width="0.65" fill="none" />
<path d="M495.2 175.92 L506.4 175.28" stroke-width="0.65" fill="none" />
<path d="M495.2 196.12 L506.4 195.88" stroke-width="0.85" fill="none" />
<path d="M495.2 198.32 L506.4 198.08" stroke-width="0.65" fill="none" />
<path d="M496 198.36 L496 202.36 L501.3 202.82 L501.3 200.42" stroke-width="0.65" fill="none" />
<path d="M495.2 191.12 L506.4 190.48" stroke-width="0.65" fill="none" />
<path d="M520.6 170 L531.6 165 L563.2 168.63 L563.2 204.23 L552.2 209.23 L520.6 205.6Z" stroke-width="0.85" fill="#fff" />
<path d="M520.6 170 L552.2 173.63 L552.2 209.23 L520.6 205.6Z" stroke-width="0.85" fill="none" />
<path d="M552.2 173.63 L563.2 168.63" stroke-width="0.85" fill="none" />
<path d="M554.95 172.38 L554.95 207.98" stroke-width="0.65" fill="none" />
<path d="M526.92 170.73 L526.92 206.33" stroke-width="0.85" fill="none" />
<path d="M526.92 170.73 L536.27 166.48" stroke-width="0.65" fill="none" />
<path d="M529.18 174.67 L549.94 177.06" stroke-width="0.65" fill="none" />
<path d="M549.94 177.06 L549.94 189.74" stroke-width="0.65" fill="none" />
<path d="M529.18 188.58 L549.94 183.4" stroke-width="0.85" fill="none" />
<path d="M529.74 190.49 L542.72 187.48" stroke-width="0.65" fill="none" />
<path d="M539.33 177.37 L539.33 183.2" stroke-width="0.65" fill="none" />
<path d="M543.85 178.81 L543.85 181.88" stroke-width="0.65" fill="none" />
<path d="M543.85 181.88 L549.94 179.92" stroke-width="0.65" fill="none" />
<path d="M542.61 176.42 L542.61 178.46 L547.12 178.98 L547.12 177.14" stroke-width="0.65" fill="#333" />
<path d="M529.18 190.83 L549.94 193.22" stroke-width="0.65" fill="none" />
<path d="M549.94 193.22 L549.94 205.91" stroke-width="0.65" fill="none" />
<path d="M529.18 204.74 L549.94 199.56" stroke-width="0.85" fill="none" />
<path d="M529.74 206.65 L542.72 203.64" stroke-width="0.65" fill="none" />
<path d="M539.33 193.53 L539.33 199.37" stroke-width="0.65" fill="none" />
<path d="M543.85 194.97 L543.85 198.04" stroke-width="0.65" fill="none" />
<path d="M543.85 198.04 L549.94 196.08" stroke-width="0.65" fill="none" />
<path d="M542.61 192.58 L542.61 194.63 L547.12 195.15 L547.12 193.31" stroke-width="0.65" fill="#333" />
<path d="M556.05 183.65 L559.02 181.58 L559.02 188.13 L556.05 190.3" stroke-width="0.65" fill="none" />
<path d="M508.8 174.6 L512.8 174.4 L512.8 179.4 L508.8 179.6Z" stroke-width="0.65" fill="#d0d0d0" />
<path d="M517.6 174.8 L522.4 176 L522.4 180.2 L517.6 179.6Z" stroke-width="0.65" fill="#d0d0d0" />
<path d="M509.4 194.2 L512.4 194.2 L512.4 199.8 L509.4 199.6Z" stroke-width="0.65" fill="#d0d0d0" />
<path d="M517.4 195.6 L522.4 194.4 L522.4 198.8 L517.4 199.4Z" stroke-width="0.65" fill="#d0d0d0" />
<path d="M508.2 191.4 L510.2 191.4 L510.2 202.4 L508.2 202.2Z" stroke-width="0.5" fill="#222" />
<path d="M513.4 179 L526.7 192.4" stroke-width="0.85" fill="none" />
<path d="M513.4 194 L526.7 182.2" stroke-width="0.85" fill="none" />
<path d="M514.8 177.8 L521.4 184.4" stroke-width="0.65" fill="none" />
<path d="M514.8 195.2 L521.4 188.4" stroke-width="0.65" fill="none" />
<path d="M523.2 182.6 L527.2 181.4 L529.8 184 L529.8 189.6 L526.8 192.2 L523.2 190.8Z" stroke-width="0.65" fill="#d0d0d0" />
<path d="M537.4 225.4 L537.4 219.9 Q537.4 218 539.4 218.1 L564.4 219.6 Q567.5 219.9 567.5 222.9 L567.5 258.9 Q567.5 261.6 564.9 261.8 L550.4 262.4" stroke-width="0.85" fill="#fff" />
<path d="M538.9 220.2 L562.4 221.7 Q564 221.9 564 223.4 L564 259.6" stroke-width="0.65" fill="none" />
<path d="M498.4 221.9 L498.4 217.8 Q498.4 216 500.4 216 L523.4 216.8 Q526.4 217 526.4 219.9 L526.4 227.4" stroke-width="0.85" fill="#fff" />
<path d="M499.9 217.9 L522.9 218.6" stroke-width="0.65" fill="none" />
<path d="M489.4 224.4 L499.9 219.2 L528.4 220.63 L517.9 225.83 L517.9 259.82 L489.4 258.4Z" stroke-width="0.85" fill="#fff" />
<path d="M489.4 224.4 L517.9 225.83" stroke-width="0.85" fill="none" />
<path d="M494 224.63 L494 258.63" stroke-width="0.85" fill="none" />
<path d="M494 224.63 L502.4 220.47" stroke-width="0.65" fill="none" />
<path d="M508 225.33 L508 259.33" stroke-width="0.85" fill="none" />
<path d="M508 225.33 L515.35 221.69" stroke-width="0.65" fill="none" />
<path d="M495.8 236.12 L507 235.88" stroke-width="0.85" fill="none" />
<path d="M495.8 238.32 L507 238.08" stroke-width="0.65" fill="none" />
<path d="M496.6 238.36 L496.6 242.36 L501.9 242.83 L501.9 240.43" stroke-width="0.65" fill="none" />
<path d="M495.8 231.12 L507 230.48" stroke-width="0.65" fill="none" />
<path d="M495.8 251.32 L507 251.08" stroke-width="0.85" fill="none" />
<path d="M495.8 253.52 L507 253.28" stroke-width="0.65" fill="none" />
<path d="M496.6 253.56 L496.6 257.56 L501.9 258.02 L501.9 255.62" stroke-width="0.65" fill="none" />
<path d="M495.8 246.32 L507 245.68" stroke-width="0.65" fill="none" />
<path d="M521.2 225.2 L532.2 220.2 L563.8 223.83 L563.8 259.43 L552.8 264.43 L521.2 260.8Z" stroke-width="0.85" fill="#fff" />
<path d="M521.2 225.2 L552.8 228.83 L552.8 264.43 L521.2 260.8Z" stroke-width="0.85" fill="none" />
<path d="M552.8 228.83 L563.8 223.83" stroke-width="0.85" fill="none" />
<path d="M555.55 227.58 L555.55 263.18" stroke-width="0.65" fill="none" />
<path d="M527.52 225.93 L527.52 261.53" stroke-width="0.85" fill="none" />
<path d="M527.52 225.93 L536.87 221.68" stroke-width="0.65" fill="none" />
<path d="M529.78 229.87 L550.54 232.26" stroke-width="0.65" fill="none" />
<path d="M550.54 232.26 L550.54 244.94" stroke-width="0.65" fill="none" />
<path d="M529.78 243.78 L550.54 238.6" stroke-width="0.85" fill="none" />
<path d="M530.34 245.69 L543.32 242.68" stroke-width="0.65" fill="none" />
<path d="M539.93 232.57 L539.93 238.4" stroke-width="0.65" fill="none" />
<path d="M544.45 234.01 L544.45 237.08" stroke-width="0.65" fill="none" />
<path d="M544.45 237.08 L550.54 235.12" stroke-width="0.65" fill="none" />
<path d="M543.21 231.62 L543.21 233.66 L547.72 234.18 L547.72 232.34" stroke-width="0.65" fill="#333" />
<path d="M529.78 246.03 L550.54 248.42" stroke-width="0.65" fill="none" />
<path d="M550.54 248.42 L550.54 261.11" stroke-width="0.65" fill="none" />
<path d="M529.78 259.94 L550.54 254.76" stroke-width="0.85" fill="none" />
<path d="M530.34 261.85 L543.32 258.84" stroke-width="0.65" fill="none" />
<path d="M539.93 248.73 L539.93 254.57" stroke-width="0.65" fill="none" />
<path d="M544.45 250.17 L544.45 253.24" stroke-width="0.65" fill="none" />
<path d="M544.45 253.24 L550.54 251.28" stroke-width="0.65" fill="none" />
<path d="M543.21 247.78 L543.21 249.83 L547.72 250.35 L547.72 248.51" stroke-width="0.65" fill="#333" />
<path d="M556.65 238.85 L559.62 236.78 L559.62 243.33 L556.65 245.5" stroke-width="0.65" fill="none" />
<path d="M509.4 229.8 L513.4 229.6 L513.4 234.6 L509.4 234.8Z" stroke-width="0.65" fill="#d0d0d0" />
<path d="M518.2 230 L523 231.2 L523 235.4 L518.2 234.8Z" stroke-width="0.65" fill="#d0d0d0" />
<path d="M510 249.4 L513 249.4 L513 255 L510 254.8Z" stroke-width="0.65" fill="#d0d0d0" />
<path d="M518 250.8 L523 249.6 L523 254 L518 254.6Z" stroke-width="0.65" fill="#d0d0d0" />
<path d="M508.8 246.6 L510.8 246.6 L510.8 257.6 L508.8 257.4Z" stroke-width="0.5" fill="#222" />
<path d="M514 234.2 L527.3 247.6" stroke-width="0.85" fill="none" />
<path d="M514 249.2 L527.3 237.4" stroke-width="0.85" fill="none" />
<path d="M515.4 233 L522 239.6" stroke-width="0.65" fill="none" />
<path d="M515.4 250.4 L522 243.6" stroke-width="0.65" fill="none" />
<path d="M523.8 237.8 L527.8 236.6 L530.4 239.2 L530.4 244.8 L527.4 247.4 L523.8 246Z" stroke-width="0.65" fill="#d0d0d0" />
<path d="M538 281 L538 275.5 Q538 273.6 540 273.7 L565 275.2 Q568.1 275.5 568.1 278.5 L568.1 314.5 Q568.1 317.2 565.5 317.4 L551 318" stroke-width="0.85" fill="#fff" />
<path d="M539.5 275.8 L563 277.3 Q564.6 277.5 564.6 279 L564.6 315.2" stroke-width="0.65" fill="none" />
<path d="M499 277.5 L499 273.4 Q499 271.6 501 271.6 L524 272.4 Q527 272.6 527 275.5 L527 283" stroke-width="0.85" fill="#fff" />
<path d="M500.5 273.5 L523.5 274.2" stroke-width="0.65" fill="none" />
<path d="M490 280 L500.5 274.8 L529 276.23 L518.5 281.43 L518.5 315.43 L490 314Z" stroke-width="0.85" fill="#fff" />
<path d="M490 280 L518.5 281.43" stroke-width="0.85" fill="none" />
<path d="M494.6 280.23 L494.6 314.23" stroke-width="0.85" fill="none" />
<path d="M494.6 280.23 L503 276.07" stroke-width="0.65" fill="none" />
<path d="M508.6 280.93 L508.6 314.93" stroke-width="0.85" fill="none" />
<path d="M508.6 280.93 L515.95 277.29" stroke-width="0.65" fill="none" />
<path d="M496.4 291.72 L507.6 291.48" stroke-width="0.85" fill="none" />
<path d="M496.4 293.92 L507.6 293.68" stroke-width="0.65" fill="none" />
<path d="M497.2 293.96 L497.2 297.96 L502.5 298.43 L502.5 296.02" stroke-width="0.65" fill="none" />
<path d="M496.4 286.72 L507.6 286.08" stroke-width="0.65" fill="none" />
<path d="M496.4 306.92 L507.6 306.68" stroke-width="0.85" fill="none" />
<path d="M496.4 309.12 L507.6 308.88" stroke-width="0.65" fill="none" />
<path d="M497.2 309.16 L497.2 313.16 L502.5 313.62 L502.5 311.23" stroke-width="0.65" fill="none" />
<path d="M496.4 301.92 L507.6 301.28" stroke-width="0.65" fill="none" />
<path d="M521.8 280.8 L532.8 275.8 L564.4 279.43 L564.4 315.03 L553.4 320.03 L521.8 316.4Z" stroke-width="0.85" fill="#fff" />
<path d="M521.8 280.8 L553.4 284.43 L553.4 320.03 L521.8 316.4Z" stroke-width="0.85" fill="none" />
<path d="M553.4 284.43 L564.4 279.43" stroke-width="0.85" fill="none" />
<path d="M556.15 283.18 L556.15 318.78" stroke-width="0.65" fill="none" />
<path d="M528.12 281.53 L528.12 317.13" stroke-width="0.85" fill="none" />
<path d="M528.12 281.53 L537.47 277.28" stroke-width="0.65" fill="none" />
<path d="M530.38 285.47 L551.14 287.86" stroke-width="0.65" fill="none" />
<path d="M551.14 287.86 L551.14 300.54" stroke-width="0.65" fill="none" />
<path d="M530.38 299.38 L551.14 294.2" stroke-width="0.85" fill="none" />
<path d="M530.94 301.29 L543.92 298.28" stroke-width="0.65" fill="none" />
<path d="M540.53 288.17 L540.53 294" stroke-width="0.65" fill="none" />
<path d="M545.05 289.61 L545.05 292.68" stroke-width="0.65" fill="none" />
<path d="M545.05 292.68 L551.14 290.72" stroke-width="0.65" fill="none" />
<path d="M543.81 287.22 L543.81 289.26 L548.32 289.78 L548.32 287.94" stroke-width="0.65" fill="#333" />
<path d="M530.38 301.63 L551.14 304.02" stroke-width="0.65" fill="none" />
<path d="M551.14 304.02 L551.14 316.71" stroke-width="0.65" fill="none" />
<path d="M530.38 315.54 L551.14 310.36" stroke-width="0.85" fill="none" />
<path d="M530.94 317.45 L543.92 314.44" stroke-width="0.65" fill="none" />
<path d="M540.53 304.33 L540.53 310.17" stroke-width="0.65" fill="none" />
<path d="M545.05 305.77 L545.05 308.84" stroke-width="0.65" fill="none" />
<path d="M545.05 308.84 L551.14 306.88" stroke-width="0.65" fill="none" />
<path d="M543.81 303.38 L543.81 305.43 L548.32 305.95 L548.32 304.11" stroke-width="0.65" fill="#333" />
<path d="M557.25 294.45 L560.22 292.38 L560.22 298.93 L557.25 301.1" stroke-width="0.65" fill="none" />
<path d="M510 285.4 L514 285.2 L514 290.2 L510 290.4Z" stroke-width="0.65" fill="#d0d0d0" />
<path d="M518.8 285.6 L523.6 286.8 L523.6 291 L518.8 290.4Z" stroke-width="0.65" fill="#d0d0d0" />
<path d="M510.6 305 L513.6 305 L513.6 310.6 L510.6 310.4Z" stroke-width="0.65" fill="#d0d0d0" />
<path d="M518.6 306.4 L523.6 305.2 L523.6 309.6 L518.6 310.2Z" stroke-width="0.65" fill="#d0d0d0" />
<path d="M509.4 302.2 L511.4 302.2 L511.4 313.2 L509.4 313Z" stroke-width="0.5" fill="#222" />
<path d="M514.6 289.8 L527.9 303.2" stroke-width="0.85" fill="none" />
<path d="M514.6 304.8 L527.9 293" stroke-width="0.85" fill="none" />
<path d="M516 288.6 L522.6 295.2" stroke-width="0.65" fill="none" />
<path d="M516 306 L522.6 299.2" stroke-width="0.65" fill="none" />
<path d="M524.4 293.4 L528.4 292.2 L531 294.8 L531 300.4 L528 303 L524.4 301.6Z" stroke-width="0.65" fill="#d0d0d0" />
</svg>
</body></html>
